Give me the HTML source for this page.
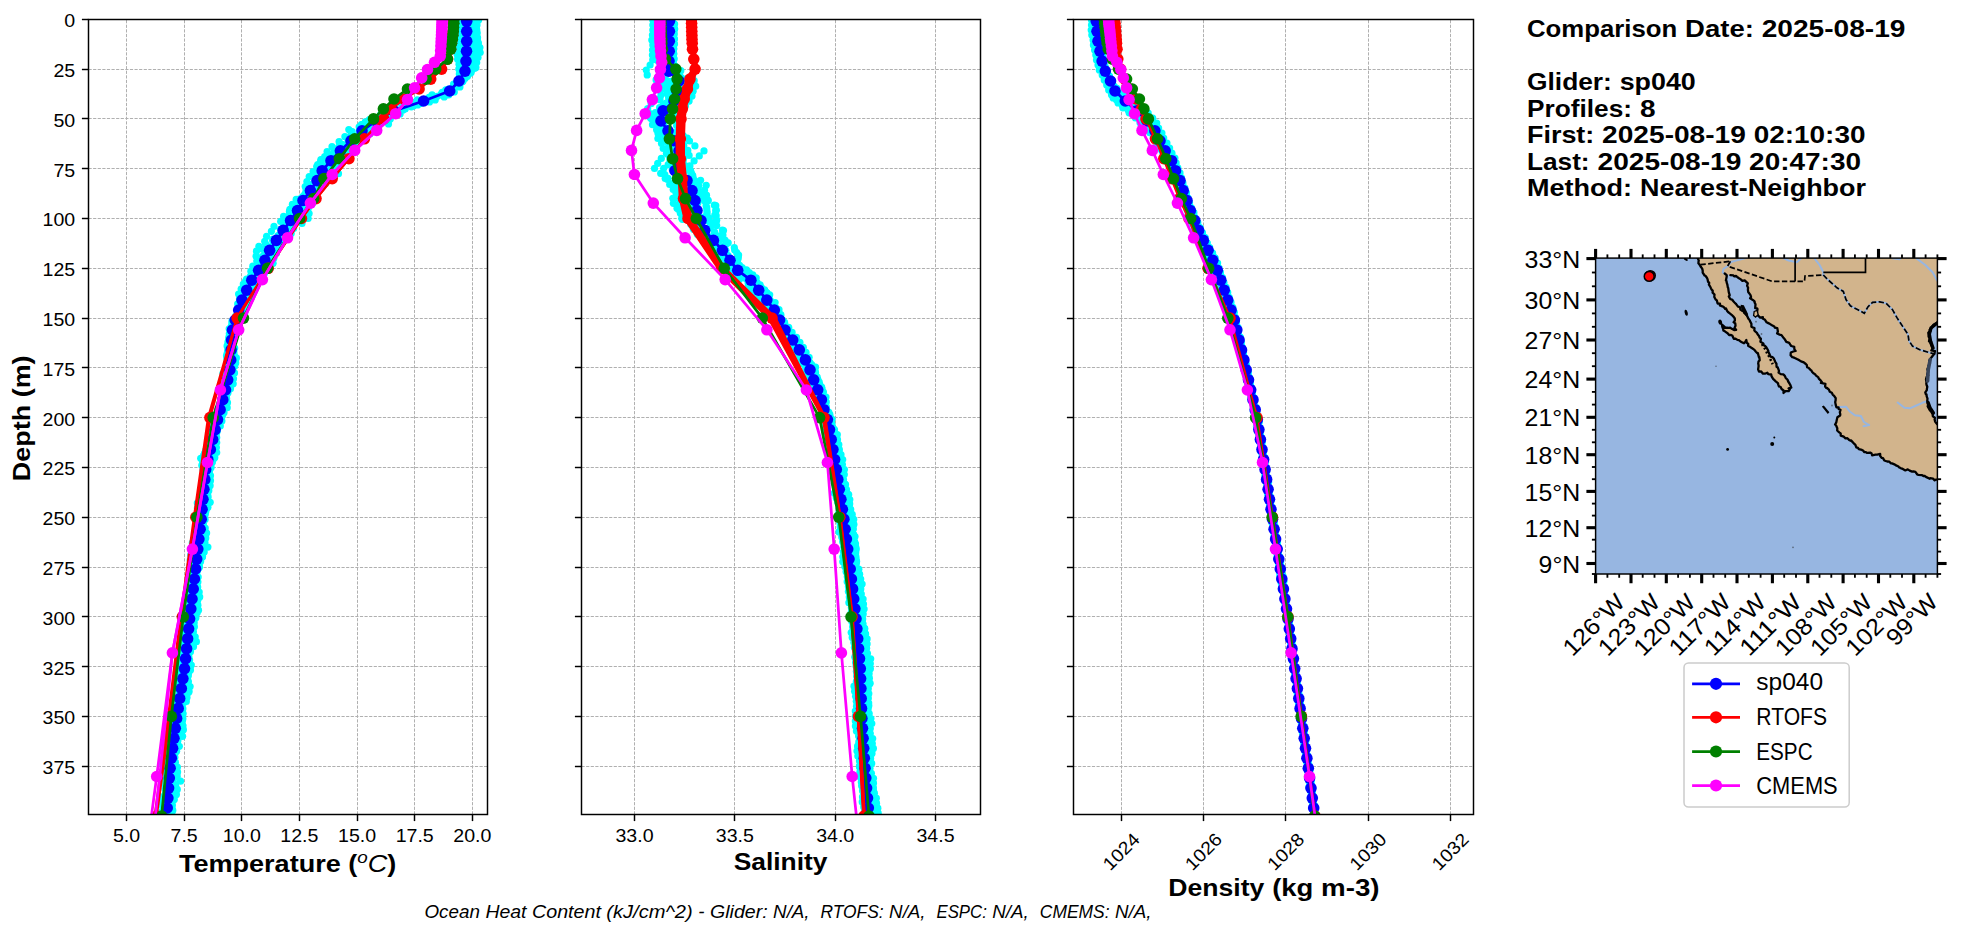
<!DOCTYPE html>
<html lang="en"><head><meta charset="utf-8"><title>Glider vs model comparison 2025-08-19</title>
<style>html,body{margin:0;padding:0;background:#fff;overflow:hidden}svg{display:block}text{font-family:"Liberation Sans",sans-serif;fill:#000}</style>
</head><body>
<svg width="1978" height="934" viewBox="0 0 1978 934">
<rect width="1978" height="934" fill="#fff"/>
<clipPath id="c0"><rect x="88.5" y="19.5" width="399.0" height="795.0"/></clipPath>
<g stroke="#b0b0b0" stroke-width="1" stroke-dasharray="3.2 1.4" fill="none">
<line x1="126.5" y1="814.5" x2="126.5" y2="19.5"/>
<line x1="184.5" y1="814.5" x2="184.5" y2="19.5"/>
<line x1="241.5" y1="814.5" x2="241.5" y2="19.5"/>
<line x1="299.5" y1="814.5" x2="299.5" y2="19.5"/>
<line x1="357.5" y1="814.5" x2="357.5" y2="19.5"/>
<line x1="414.5" y1="814.5" x2="414.5" y2="19.5"/>
<line x1="472.5" y1="814.5" x2="472.5" y2="19.5"/>
<line x1="88.5" y1="19.5" x2="487.5" y2="19.5"/>
<line x1="88.5" y1="69.5" x2="487.5" y2="69.5"/>
<line x1="88.5" y1="118.5" x2="487.5" y2="118.5"/>
<line x1="88.5" y1="168.5" x2="487.5" y2="168.5"/>
<line x1="88.5" y1="218.5" x2="487.5" y2="218.5"/>
<line x1="88.5" y1="268.5" x2="487.5" y2="268.5"/>
<line x1="88.5" y1="318.5" x2="487.5" y2="318.5"/>
<line x1="88.5" y1="367.5" x2="487.5" y2="367.5"/>
<line x1="88.5" y1="417.5" x2="487.5" y2="417.5"/>
<line x1="88.5" y1="467.5" x2="487.5" y2="467.5"/>
<line x1="88.5" y1="517.5" x2="487.5" y2="517.5"/>
<line x1="88.5" y1="567.5" x2="487.5" y2="567.5"/>
<line x1="88.5" y1="616.5" x2="487.5" y2="616.5"/>
<line x1="88.5" y1="666.5" x2="487.5" y2="666.5"/>
<line x1="88.5" y1="716.5" x2="487.5" y2="716.5"/>
<line x1="88.5" y1="766.5" x2="487.5" y2="766.5"/>
</g>
<g clip-path="url(#c0)">
<g fill="#00ffff"><circle cx="458.9" cy="24.3" r="3.6"/><circle cx="460.4" cy="29.3" r="3.6"/><circle cx="460.7" cy="34.3" r="3.6"/><circle cx="459.2" cy="39.3" r="3.6"/><circle cx="459.0" cy="44.2" r="3.6"/><circle cx="458.6" cy="49.2" r="3.6"/><circle cx="457.1" cy="54.2" r="3.6"/><circle cx="457.6" cy="59.2" r="3.6"/><circle cx="459.0" cy="64.2" r="3.6"/><circle cx="458.8" cy="69.1" r="3.6"/><circle cx="459.3" cy="74.1" r="3.6"/><circle cx="459.4" cy="79.1" r="3.6"/><circle cx="453.6" cy="84.1" r="3.6"/><circle cx="448.8" cy="89.0" r="3.6"/><circle cx="441.3" cy="94.0" r="3.6"/><circle cx="428.1" cy="99.0" r="3.6"/><circle cx="415.0" cy="104.0" r="3.6"/><circle cx="405.2" cy="109.0" r="3.6"/><circle cx="400.1" cy="113.9" r="3.6"/><circle cx="390.3" cy="118.9" r="3.6"/><circle cx="388.5" cy="123.9" r="3.6"/><circle cx="378.1" cy="128.9" r="3.6"/><circle cx="369.9" cy="133.9" r="3.6"/><circle cx="365.7" cy="138.8" r="3.6"/><circle cx="357.2" cy="143.8" r="3.6"/><circle cx="350.3" cy="148.8" r="3.6"/><circle cx="347.1" cy="153.8" r="3.6"/><circle cx="342.3" cy="158.8" r="3.6"/><circle cx="340.1" cy="163.7" r="3.6"/><circle cx="336.3" cy="168.7" r="3.6"/><circle cx="338.5" cy="173.7" r="3.6"/><circle cx="328.3" cy="178.7" r="3.6"/><circle cx="325.4" cy="183.7" r="3.6"/><circle cx="319.7" cy="188.6" r="3.6"/><circle cx="314.8" cy="193.6" r="3.6"/><circle cx="309.4" cy="198.6" r="3.6"/><circle cx="312.3" cy="203.6" r="3.6"/><circle cx="308.2" cy="208.5" r="3.6"/><circle cx="309.1" cy="213.5" r="3.6"/><circle cx="308.1" cy="218.5" r="3.6"/><circle cx="302.0" cy="223.5" r="3.6"/><circle cx="293.6" cy="228.5" r="3.6"/><circle cx="291.2" cy="233.4" r="3.6"/><circle cx="283.9" cy="238.4" r="3.6"/><circle cx="280.5" cy="243.4" r="3.6"/><circle cx="276.8" cy="248.4" r="3.6"/><circle cx="276.4" cy="253.4" r="3.6"/><circle cx="273.8" cy="258.3" r="3.6"/><circle cx="273.1" cy="263.3" r="3.6"/><circle cx="270.3" cy="268.3" r="3.6"/><circle cx="264.5" cy="273.3" r="3.6"/><circle cx="259.2" cy="278.3" r="3.6"/><circle cx="253.9" cy="283.2" r="3.6"/><circle cx="249.4" cy="288.2" r="3.6"/><circle cx="249.0" cy="293.2" r="3.6"/><circle cx="249.7" cy="298.2" r="3.6"/><circle cx="246.7" cy="303.2" r="3.6"/><circle cx="245.9" cy="308.1" r="3.6"/><circle cx="244.7" cy="313.1" r="3.6"/><circle cx="240.8" cy="318.1" r="3.6"/><circle cx="237.4" cy="323.1" r="3.6"/><circle cx="236.0" cy="328.1" r="3.6"/><circle cx="233.2" cy="333.0" r="3.6"/><circle cx="230.2" cy="338.0" r="3.6"/><circle cx="231.7" cy="343.0" r="3.6"/><circle cx="234.7" cy="348.0" r="3.6"/><circle cx="234.0" cy="352.9" r="3.6"/><circle cx="236.4" cy="357.9" r="3.6"/><circle cx="235.7" cy="362.9" r="3.6"/><circle cx="232.3" cy="367.9" r="3.6"/><circle cx="234.5" cy="372.9" r="3.6"/><circle cx="231.7" cy="377.8" r="3.6"/><circle cx="227.3" cy="382.8" r="3.6"/><circle cx="227.8" cy="387.8" r="3.6"/><circle cx="228.0" cy="392.8" r="3.6"/><circle cx="226.4" cy="397.8" r="3.6"/><circle cx="227.5" cy="402.7" r="3.6"/><circle cx="227.2" cy="407.7" r="3.6"/><circle cx="224.0" cy="412.7" r="3.6"/><circle cx="221.5" cy="417.7" r="3.6"/><circle cx="219.6" cy="422.7" r="3.6"/><circle cx="217.3" cy="427.6" r="3.6"/><circle cx="214.4" cy="432.6" r="3.6"/><circle cx="216.7" cy="437.6" r="3.6"/><circle cx="216.7" cy="442.6" r="3.6"/><circle cx="216.4" cy="447.6" r="3.6"/><circle cx="216.7" cy="452.5" r="3.6"/><circle cx="214.8" cy="457.5" r="3.6"/><circle cx="212.2" cy="462.5" r="3.6"/><circle cx="211.1" cy="467.5" r="3.6"/><circle cx="208.9" cy="472.4" r="3.6"/><circle cx="205.0" cy="477.4" r="3.6"/><circle cx="206.8" cy="482.4" r="3.6"/><circle cx="207.7" cy="487.4" r="3.6"/><circle cx="207.1" cy="492.4" r="3.6"/><circle cx="208.0" cy="497.3" r="3.6"/><circle cx="210.2" cy="502.3" r="3.6"/><circle cx="207.9" cy="507.3" r="3.6"/><circle cx="205.6" cy="512.3" r="3.6"/><circle cx="203.1" cy="517.3" r="3.6"/><circle cx="201.0" cy="522.2" r="3.6"/><circle cx="202.1" cy="527.2" r="3.6"/><circle cx="205.4" cy="532.2" r="3.6"/><circle cx="203.7" cy="537.2" r="3.6"/><circle cx="204.9" cy="542.2" r="3.6"/><circle cx="207.9" cy="547.1" r="3.6"/><circle cx="204.2" cy="552.1" r="3.6"/><circle cx="202.4" cy="557.1" r="3.6"/><circle cx="199.2" cy="562.1" r="3.6"/><circle cx="196.1" cy="567.1" r="3.6"/><circle cx="195.5" cy="572.0" r="3.6"/><circle cx="198.2" cy="577.0" r="3.6"/><circle cx="197.9" cy="582.0" r="3.6"/><circle cx="197.7" cy="587.0" r="3.6"/><circle cx="199.2" cy="592.0" r="3.6"/><circle cx="199.7" cy="596.9" r="3.6"/><circle cx="196.7" cy="601.9" r="3.6"/><circle cx="195.6" cy="606.9" r="3.6"/><circle cx="193.8" cy="611.9" r="3.6"/><circle cx="190.3" cy="616.8" r="3.6"/><circle cx="192.8" cy="621.8" r="3.6"/><circle cx="194.4" cy="626.8" r="3.6"/><circle cx="193.4" cy="631.8" r="3.6"/><circle cx="195.2" cy="636.8" r="3.6"/><circle cx="196.4" cy="641.7" r="3.6"/><circle cx="193.5" cy="646.7" r="3.6"/><circle cx="190.5" cy="651.7" r="3.6"/><circle cx="188.9" cy="656.7" r="3.6"/><circle cx="184.1" cy="661.7" r="3.6"/><circle cx="185.3" cy="666.6" r="3.6"/><circle cx="188.5" cy="671.6" r="3.6"/><circle cx="188.0" cy="676.6" r="3.6"/><circle cx="188.4" cy="681.6" r="3.6"/><circle cx="190.1" cy="686.6" r="3.6"/><circle cx="189.1" cy="691.5" r="3.6"/><circle cx="186.1" cy="696.5" r="3.6"/><circle cx="186.3" cy="701.5" r="3.6"/><circle cx="181.5" cy="706.5" r="3.6"/><circle cx="177.2" cy="711.5" r="3.6"/><circle cx="178.1" cy="716.4" r="3.6"/><circle cx="181.9" cy="721.4" r="3.6"/><circle cx="181.0" cy="726.4" r="3.6"/><circle cx="182.0" cy="731.4" r="3.6"/><circle cx="182.6" cy="736.3" r="3.6"/><circle cx="177.7" cy="741.3" r="3.6"/><circle cx="179.3" cy="746.3" r="3.6"/><circle cx="176.6" cy="751.3" r="3.6"/><circle cx="172.2" cy="756.3" r="3.6"/><circle cx="171.8" cy="761.2" r="3.6"/><circle cx="173.9" cy="766.2" r="3.6"/><circle cx="175.6" cy="771.2" r="3.6"/><circle cx="177.2" cy="776.2" r="3.6"/><circle cx="180.5" cy="781.2" r="3.6"/><circle cx="175.7" cy="786.1" r="3.6"/><circle cx="173.3" cy="791.1" r="3.6"/><circle cx="173.9" cy="796.1" r="3.6"/><circle cx="170.6" cy="801.1" r="3.6"/><circle cx="166.5" cy="806.1" r="3.6"/><circle cx="168.6" cy="811.0" r="3.6"/><circle cx="462.9" cy="20.3" r="3.6"/><circle cx="460.8" cy="25.2" r="3.6"/><circle cx="460.1" cy="30.2" r="3.6"/><circle cx="461.8" cy="35.2" r="3.6"/><circle cx="462.1" cy="40.2" r="3.6"/><circle cx="462.8" cy="45.2" r="3.6"/><circle cx="463.5" cy="50.1" r="3.6"/><circle cx="462.6" cy="55.1" r="3.6"/><circle cx="463.3" cy="60.1" r="3.6"/><circle cx="464.4" cy="65.1" r="3.6"/><circle cx="464.6" cy="70.1" r="3.6"/><circle cx="464.1" cy="75.0" r="3.6"/><circle cx="461.4" cy="80.0" r="3.6"/><circle cx="457.6" cy="85.0" r="3.6"/><circle cx="453.4" cy="90.0" r="3.6"/><circle cx="448.6" cy="95.0" r="3.6"/><circle cx="435.2" cy="99.9" r="3.6"/><circle cx="417.7" cy="104.9" r="3.6"/><circle cx="403.0" cy="109.9" r="3.6"/><circle cx="391.6" cy="114.9" r="3.6"/><circle cx="382.9" cy="119.8" r="3.6"/><circle cx="377.7" cy="124.8" r="3.6"/><circle cx="369.2" cy="129.8" r="3.6"/><circle cx="362.5" cy="134.8" r="3.6"/><circle cx="358.1" cy="139.8" r="3.6"/><circle cx="357.3" cy="144.7" r="3.6"/><circle cx="353.4" cy="149.7" r="3.6"/><circle cx="342.5" cy="154.7" r="3.6"/><circle cx="335.2" cy="159.7" r="3.6"/><circle cx="332.3" cy="164.7" r="3.6"/><circle cx="324.9" cy="169.6" r="3.6"/><circle cx="320.5" cy="174.6" r="3.6"/><circle cx="315.0" cy="179.6" r="3.6"/><circle cx="308.4" cy="184.6" r="3.6"/><circle cx="309.8" cy="189.6" r="3.6"/><circle cx="310.3" cy="194.5" r="3.6"/><circle cx="303.9" cy="199.5" r="3.6"/><circle cx="301.4" cy="204.5" r="3.6"/><circle cx="301.7" cy="209.5" r="3.6"/><circle cx="297.8" cy="214.5" r="3.6"/><circle cx="297.8" cy="219.4" r="3.6"/><circle cx="292.0" cy="224.4" r="3.6"/><circle cx="291.1" cy="229.4" r="3.6"/><circle cx="287.3" cy="234.4" r="3.6"/><circle cx="279.1" cy="239.4" r="3.6"/><circle cx="278.7" cy="244.3" r="3.6"/><circle cx="273.4" cy="249.3" r="3.6"/><circle cx="270.0" cy="254.3" r="3.6"/><circle cx="266.4" cy="259.3" r="3.6"/><circle cx="261.9" cy="264.2" r="3.6"/><circle cx="261.1" cy="269.2" r="3.6"/><circle cx="257.6" cy="274.2" r="3.6"/><circle cx="257.6" cy="279.2" r="3.6"/><circle cx="252.3" cy="284.2" r="3.6"/><circle cx="250.7" cy="289.1" r="3.6"/><circle cx="250.6" cy="294.1" r="3.6"/><circle cx="245.5" cy="299.1" r="3.6"/><circle cx="245.5" cy="304.1" r="3.6"/><circle cx="243.3" cy="309.1" r="3.6"/><circle cx="241.9" cy="314.0" r="3.6"/><circle cx="238.0" cy="319.0" r="3.6"/><circle cx="236.9" cy="324.0" r="3.6"/><circle cx="234.0" cy="329.0" r="3.6"/><circle cx="230.5" cy="334.0" r="3.6"/><circle cx="229.2" cy="338.9" r="3.6"/><circle cx="229.1" cy="343.9" r="3.6"/><circle cx="230.0" cy="348.9" r="3.6"/><circle cx="232.1" cy="353.9" r="3.6"/><circle cx="232.7" cy="358.9" r="3.6"/><circle cx="233.3" cy="363.8" r="3.6"/><circle cx="232.3" cy="368.8" r="3.6"/><circle cx="232.9" cy="373.8" r="3.6"/><circle cx="233.5" cy="378.8" r="3.6"/><circle cx="233.2" cy="383.8" r="3.6"/><circle cx="230.5" cy="388.7" r="3.6"/><circle cx="227.0" cy="393.7" r="3.6"/><circle cx="226.6" cy="398.7" r="3.6"/><circle cx="223.9" cy="403.7" r="3.6"/><circle cx="221.2" cy="408.6" r="3.6"/><circle cx="220.5" cy="413.6" r="3.6"/><circle cx="216.7" cy="418.6" r="3.6"/><circle cx="216.4" cy="423.6" r="3.6"/><circle cx="217.3" cy="428.6" r="3.6"/><circle cx="216.5" cy="433.5" r="3.6"/><circle cx="215.5" cy="438.5" r="3.6"/><circle cx="212.9" cy="443.5" r="3.6"/><circle cx="213.6" cy="448.5" r="3.6"/><circle cx="213.8" cy="453.5" r="3.6"/><circle cx="213.9" cy="458.4" r="3.6"/><circle cx="211.1" cy="463.4" r="3.6"/><circle cx="210.2" cy="468.4" r="3.6"/><circle cx="206.5" cy="473.4" r="3.6"/><circle cx="206.7" cy="478.4" r="3.6"/><circle cx="206.0" cy="483.3" r="3.6"/><circle cx="203.6" cy="488.3" r="3.6"/><circle cx="202.6" cy="493.3" r="3.6"/><circle cx="199.9" cy="498.3" r="3.6"/><circle cx="203.7" cy="503.3" r="3.6"/><circle cx="204.8" cy="508.2" r="3.6"/><circle cx="204.7" cy="513.2" r="3.6"/><circle cx="204.1" cy="518.2" r="3.6"/><circle cx="203.3" cy="523.2" r="3.6"/><circle cx="205.2" cy="528.1" r="3.6"/><circle cx="206.6" cy="533.1" r="3.6"/><circle cx="205.8" cy="538.1" r="3.6"/><circle cx="203.3" cy="543.1" r="3.6"/><circle cx="201.8" cy="548.1" r="3.6"/><circle cx="201.4" cy="553.0" r="3.6"/><circle cx="198.4" cy="558.0" r="3.6"/><circle cx="197.4" cy="563.0" r="3.6"/><circle cx="196.0" cy="568.0" r="3.6"/><circle cx="193.6" cy="573.0" r="3.6"/><circle cx="193.7" cy="577.9" r="3.6"/><circle cx="194.2" cy="582.9" r="3.6"/><circle cx="194.3" cy="587.9" r="3.6"/><circle cx="195.1" cy="592.9" r="3.6"/><circle cx="193.9" cy="597.9" r="3.6"/><circle cx="195.7" cy="602.8" r="3.6"/><circle cx="194.3" cy="607.8" r="3.6"/><circle cx="197.2" cy="612.8" r="3.6"/><circle cx="195.9" cy="617.8" r="3.6"/><circle cx="194.2" cy="622.8" r="3.6"/><circle cx="191.7" cy="627.7" r="3.6"/><circle cx="192.3" cy="632.7" r="3.6"/><circle cx="189.9" cy="637.7" r="3.6"/><circle cx="188.7" cy="642.7" r="3.6"/><circle cx="186.4" cy="647.7" r="3.6"/><circle cx="183.8" cy="652.6" r="3.6"/><circle cx="185.3" cy="657.6" r="3.6"/><circle cx="187.0" cy="662.6" r="3.6"/><circle cx="187.5" cy="667.6" r="3.6"/><circle cx="188.7" cy="672.5" r="3.6"/><circle cx="186.9" cy="677.5" r="3.6"/><circle cx="187.8" cy="682.5" r="3.6"/><circle cx="188.3" cy="687.5" r="3.6"/><circle cx="188.4" cy="692.5" r="3.6"/><circle cx="187.0" cy="697.4" r="3.6"/><circle cx="183.8" cy="702.4" r="3.6"/><circle cx="181.2" cy="707.4" r="3.6"/><circle cx="180.6" cy="712.4" r="3.6"/><circle cx="179.2" cy="717.4" r="3.6"/><circle cx="175.7" cy="722.3" r="3.6"/><circle cx="171.9" cy="727.3" r="3.6"/><circle cx="171.2" cy="732.3" r="3.6"/><circle cx="171.6" cy="737.3" r="3.6"/><circle cx="173.4" cy="742.3" r="3.6"/><circle cx="175.6" cy="747.2" r="3.6"/><circle cx="175.3" cy="752.2" r="3.6"/><circle cx="174.9" cy="757.2" r="3.6"/><circle cx="175.4" cy="762.2" r="3.6"/><circle cx="177.4" cy="767.2" r="3.6"/><circle cx="177.6" cy="772.1" r="3.6"/><circle cx="175.5" cy="777.1" r="3.6"/><circle cx="173.2" cy="782.1" r="3.6"/><circle cx="172.8" cy="787.1" r="3.6"/><circle cx="171.9" cy="792.0" r="3.6"/><circle cx="170.7" cy="797.0" r="3.6"/><circle cx="167.4" cy="802.0" r="3.6"/><circle cx="166.4" cy="807.0" r="3.6"/><circle cx="165.8" cy="812.0" r="3.6"/><circle cx="467.8" cy="22.2" r="3.6"/><circle cx="467.2" cy="27.2" r="3.6"/><circle cx="466.5" cy="32.2" r="3.6"/><circle cx="466.4" cy="37.1" r="3.6"/><circle cx="465.6" cy="42.1" r="3.6"/><circle cx="465.2" cy="47.1" r="3.6"/><circle cx="466.6" cy="52.1" r="3.6"/><circle cx="466.3" cy="57.1" r="3.6"/><circle cx="467.0" cy="62.0" r="3.6"/><circle cx="467.1" cy="67.0" r="3.6"/><circle cx="466.2" cy="72.0" r="3.6"/><circle cx="464.3" cy="77.0" r="3.6"/><circle cx="462.0" cy="82.0" r="3.6"/><circle cx="459.9" cy="86.9" r="3.6"/><circle cx="454.3" cy="91.9" r="3.6"/><circle cx="444.2" cy="96.9" r="3.6"/><circle cx="429.5" cy="101.9" r="3.6"/><circle cx="411.3" cy="106.8" r="3.6"/><circle cx="393.0" cy="111.8" r="3.6"/><circle cx="380.4" cy="116.8" r="3.6"/><circle cx="365.3" cy="121.8" r="3.6"/><circle cx="359.2" cy="126.8" r="3.6"/><circle cx="352.2" cy="131.7" r="3.6"/><circle cx="344.9" cy="136.7" r="3.6"/><circle cx="339.1" cy="141.7" r="3.6"/><circle cx="332.0" cy="146.7" r="3.6"/><circle cx="327.1" cy="151.7" r="3.6"/><circle cx="324.7" cy="156.6" r="3.6"/><circle cx="320.6" cy="161.6" r="3.6"/><circle cx="316.7" cy="166.6" r="3.6"/><circle cx="313.1" cy="171.6" r="3.6"/><circle cx="309.2" cy="176.6" r="3.6"/><circle cx="306.9" cy="181.5" r="3.6"/><circle cx="305.2" cy="186.5" r="3.6"/><circle cx="306.1" cy="191.5" r="3.6"/><circle cx="302.7" cy="196.5" r="3.6"/><circle cx="297.9" cy="201.5" r="3.6"/><circle cx="293.6" cy="206.4" r="3.6"/><circle cx="289.4" cy="211.4" r="3.6"/><circle cx="283.6" cy="216.4" r="3.6"/><circle cx="280.7" cy="221.4" r="3.6"/><circle cx="274.0" cy="226.4" r="3.6"/><circle cx="271.4" cy="231.3" r="3.6"/><circle cx="266.6" cy="236.3" r="3.6"/><circle cx="264.7" cy="241.3" r="3.6"/><circle cx="258.9" cy="246.3" r="3.6"/><circle cx="256.5" cy="251.2" r="3.6"/><circle cx="256.1" cy="256.2" r="3.6"/><circle cx="256.9" cy="261.2" r="3.6"/><circle cx="252.8" cy="266.2" r="3.6"/><circle cx="250.9" cy="271.2" r="3.6"/><circle cx="250.5" cy="276.1" r="3.6"/><circle cx="245.6" cy="281.1" r="3.6"/><circle cx="246.0" cy="286.1" r="3.6"/><circle cx="244.4" cy="291.1" r="3.6"/><circle cx="244.4" cy="296.1" r="3.6"/><circle cx="241.5" cy="301.0" r="3.6"/><circle cx="241.8" cy="306.0" r="3.6"/><circle cx="238.3" cy="311.0" r="3.6"/><circle cx="235.6" cy="316.0" r="3.6"/><circle cx="236.1" cy="321.0" r="3.6"/><circle cx="233.6" cy="325.9" r="3.6"/><circle cx="234.4" cy="330.9" r="3.6"/><circle cx="230.8" cy="335.9" r="3.6"/><circle cx="228.4" cy="340.9" r="3.6"/><circle cx="227.1" cy="345.9" r="3.6"/><circle cx="227.6" cy="350.8" r="3.6"/><circle cx="226.5" cy="355.8" r="3.6"/><circle cx="227.6" cy="360.8" r="3.6"/><circle cx="228.2" cy="365.8" r="3.6"/><circle cx="227.1" cy="370.8" r="3.6"/><circle cx="226.8" cy="375.7" r="3.6"/><circle cx="225.3" cy="380.7" r="3.6"/><circle cx="224.2" cy="385.7" r="3.6"/><circle cx="225.5" cy="390.7" r="3.6"/><circle cx="224.9" cy="395.6" r="3.6"/><circle cx="223.5" cy="400.6" r="3.6"/><circle cx="221.4" cy="405.6" r="3.6"/><circle cx="218.7" cy="410.6" r="3.6"/><circle cx="218.4" cy="415.6" r="3.6"/><circle cx="215.8" cy="420.5" r="3.6"/><circle cx="212.8" cy="425.5" r="3.6"/><circle cx="212.5" cy="430.5" r="3.6"/><circle cx="210.1" cy="435.5" r="3.6"/><circle cx="209.6" cy="440.5" r="3.6"/><circle cx="207.7" cy="445.4" r="3.6"/><circle cx="205.6" cy="450.4" r="3.6"/><circle cx="203.7" cy="455.4" r="3.6"/><circle cx="202.7" cy="460.4" r="3.6"/><circle cx="201.8" cy="465.4" r="3.6"/><circle cx="203.1" cy="470.3" r="3.6"/><circle cx="203.5" cy="475.3" r="3.6"/><circle cx="203.4" cy="480.3" r="3.6"/><circle cx="203.0" cy="485.3" r="3.6"/><circle cx="203.1" cy="490.3" r="3.6"/><circle cx="204.5" cy="495.2" r="3.6"/><circle cx="202.8" cy="500.2" r="3.6"/><circle cx="205.4" cy="505.2" r="3.6"/><circle cx="204.2" cy="510.2" r="3.6"/><circle cx="204.0" cy="515.1" r="3.6"/><circle cx="201.0" cy="520.1" r="3.6"/><circle cx="197.8" cy="525.1" r="3.6"/><circle cx="198.6" cy="530.1" r="3.6"/><circle cx="197.4" cy="535.1" r="3.6"/><circle cx="197.2" cy="540.0" r="3.6"/><circle cx="193.8" cy="545.0" r="3.6"/><circle cx="192.3" cy="550.0" r="3.6"/><circle cx="190.7" cy="555.0" r="3.6"/><circle cx="190.2" cy="560.0" r="3.6"/><circle cx="190.1" cy="564.9" r="3.6"/><circle cx="189.8" cy="569.9" r="3.6"/><circle cx="191.5" cy="574.9" r="3.6"/><circle cx="191.8" cy="579.9" r="3.6"/><circle cx="190.9" cy="584.9" r="3.6"/><circle cx="190.2" cy="589.8" r="3.6"/><circle cx="191.2" cy="594.8" r="3.6"/><circle cx="192.0" cy="599.8" r="3.6"/><circle cx="192.0" cy="604.8" r="3.6"/><circle cx="192.3" cy="609.8" r="3.6"/><circle cx="192.6" cy="614.7" r="3.6"/><circle cx="189.5" cy="619.7" r="3.6"/><circle cx="188.0" cy="624.7" r="3.6"/><circle cx="185.5" cy="629.7" r="3.6"/><circle cx="185.2" cy="634.7" r="3.6"/><circle cx="184.7" cy="639.6" r="3.6"/><circle cx="184.1" cy="644.6" r="3.6"/><circle cx="182.9" cy="649.6" r="3.6"/><circle cx="182.2" cy="654.6" r="3.6"/><circle cx="179.0" cy="659.5" r="3.6"/><circle cx="178.3" cy="664.5" r="3.6"/><circle cx="180.2" cy="669.5" r="3.6"/><circle cx="180.1" cy="674.5" r="3.6"/><circle cx="179.8" cy="679.5" r="3.6"/><circle cx="180.5" cy="684.4" r="3.6"/><circle cx="178.4" cy="689.4" r="3.6"/><circle cx="178.9" cy="694.4" r="3.6"/><circle cx="177.5" cy="699.4" r="3.6"/><circle cx="179.1" cy="704.4" r="3.6"/><circle cx="179.2" cy="709.3" r="3.6"/><circle cx="179.5" cy="714.3" r="3.6"/><circle cx="176.8" cy="719.3" r="3.6"/><circle cx="174.7" cy="724.3" r="3.6"/><circle cx="172.5" cy="729.3" r="3.6"/><circle cx="171.2" cy="734.2" r="3.6"/><circle cx="171.4" cy="739.2" r="3.6"/><circle cx="170.2" cy="744.2" r="3.6"/><circle cx="167.9" cy="749.2" r="3.6"/><circle cx="165.0" cy="754.2" r="3.6"/><circle cx="162.9" cy="759.1" r="3.6"/><circle cx="162.5" cy="764.1" r="3.6"/><circle cx="163.6" cy="769.1" r="3.6"/><circle cx="162.9" cy="774.1" r="3.6"/><circle cx="163.7" cy="779.0" r="3.6"/><circle cx="164.6" cy="784.0" r="3.6"/><circle cx="165.0" cy="789.0" r="3.6"/><circle cx="165.3" cy="794.0" r="3.6"/><circle cx="166.0" cy="799.0" r="3.6"/><circle cx="167.5" cy="803.9" r="3.6"/><circle cx="167.9" cy="808.9" r="3.6"/><circle cx="168.9" cy="813.9" r="3.6"/><circle cx="471.3" cy="20.1" r="3.6"/><circle cx="471.4" cy="25.1" r="3.6"/><circle cx="470.2" cy="30.1" r="3.6"/><circle cx="469.4" cy="35.1" r="3.6"/><circle cx="471.4" cy="40.0" r="3.6"/><circle cx="472.5" cy="45.0" r="3.6"/><circle cx="472.6" cy="50.0" r="3.6"/><circle cx="473.1" cy="55.0" r="3.6"/><circle cx="472.3" cy="60.0" r="3.6"/><circle cx="469.5" cy="64.9" r="3.6"/><circle cx="468.9" cy="69.9" r="3.6"/><circle cx="463.6" cy="74.9" r="3.6"/><circle cx="460.2" cy="79.9" r="3.6"/><circle cx="457.7" cy="84.9" r="3.6"/><circle cx="452.1" cy="89.8" r="3.6"/><circle cx="440.9" cy="94.8" r="3.6"/><circle cx="427.7" cy="99.8" r="3.6"/><circle cx="410.7" cy="104.8" r="3.6"/><circle cx="393.7" cy="109.8" r="3.6"/><circle cx="380.6" cy="114.7" r="3.6"/><circle cx="369.4" cy="119.7" r="3.6"/><circle cx="362.4" cy="124.7" r="3.6"/><circle cx="359.6" cy="129.7" r="3.6"/><circle cx="359.7" cy="134.7" r="3.6"/><circle cx="354.8" cy="139.6" r="3.6"/><circle cx="342.7" cy="144.6" r="3.6"/><circle cx="337.1" cy="149.6" r="3.6"/><circle cx="328.9" cy="154.6" r="3.6"/><circle cx="320.9" cy="159.5" r="3.6"/><circle cx="317.7" cy="164.5" r="3.6"/><circle cx="320.2" cy="169.5" r="3.6"/><circle cx="314.3" cy="174.5" r="3.6"/><circle cx="315.5" cy="179.5" r="3.6"/><circle cx="313.9" cy="184.4" r="3.6"/><circle cx="306.2" cy="189.4" r="3.6"/><circle cx="304.9" cy="194.4" r="3.6"/><circle cx="298.2" cy="199.4" r="3.6"/><circle cx="293.2" cy="204.4" r="3.6"/><circle cx="292.3" cy="209.3" r="3.6"/><circle cx="290.0" cy="214.3" r="3.6"/><circle cx="286.1" cy="219.3" r="3.6"/><circle cx="290.0" cy="224.3" r="3.6"/><circle cx="280.5" cy="229.3" r="3.6"/><circle cx="280.3" cy="234.2" r="3.6"/><circle cx="273.0" cy="239.2" r="3.6"/><circle cx="265.6" cy="244.2" r="3.6"/><circle cx="262.4" cy="249.2" r="3.6"/><circle cx="265.5" cy="254.2" r="3.6"/><circle cx="262.0" cy="259.1" r="3.6"/><circle cx="258.8" cy="264.1" r="3.6"/><circle cx="260.7" cy="269.1" r="3.6"/><circle cx="254.1" cy="274.1" r="3.6"/><circle cx="251.5" cy="279.0" r="3.6"/><circle cx="248.0" cy="284.0" r="3.6"/><circle cx="241.2" cy="289.0" r="3.6"/><circle cx="238.6" cy="294.0" r="3.6"/><circle cx="240.7" cy="299.0" r="3.6"/><circle cx="239.4" cy="303.9" r="3.6"/><circle cx="238.7" cy="308.9" r="3.6"/><circle cx="238.3" cy="313.9" r="3.6"/><circle cx="235.0" cy="318.9" r="3.6"/><circle cx="232.0" cy="323.9" r="3.6"/><circle cx="229.2" cy="328.8" r="3.6"/><circle cx="229.3" cy="333.8" r="3.6"/><circle cx="230.7" cy="338.8" r="3.6"/><circle cx="231.4" cy="343.8" r="3.6"/><circle cx="233.1" cy="348.8" r="3.6"/><circle cx="232.9" cy="353.7" r="3.6"/><circle cx="229.7" cy="358.7" r="3.6"/><circle cx="228.9" cy="363.7" r="3.6"/><circle cx="228.1" cy="368.7" r="3.6"/><circle cx="222.9" cy="373.7" r="3.6"/><circle cx="225.5" cy="378.6" r="3.6"/><circle cx="222.5" cy="383.6" r="3.6"/><circle cx="223.9" cy="388.6" r="3.6"/><circle cx="226.5" cy="393.6" r="3.6"/><circle cx="223.0" cy="398.6" r="3.6"/><circle cx="220.4" cy="403.5" r="3.6"/><circle cx="219.5" cy="408.5" r="3.6"/><circle cx="216.6" cy="413.5" r="3.6"/><circle cx="212.9" cy="418.5" r="3.6"/><circle cx="214.0" cy="423.4" r="3.6"/><circle cx="213.0" cy="428.4" r="3.6"/><circle cx="213.8" cy="433.4" r="3.6"/><circle cx="215.4" cy="438.4" r="3.6"/><circle cx="209.7" cy="443.4" r="3.6"/><circle cx="207.6" cy="448.3" r="3.6"/><circle cx="204.5" cy="453.3" r="3.6"/><circle cx="200.7" cy="458.3" r="3.6"/><circle cx="202.6" cy="463.3" r="3.6"/><circle cx="204.7" cy="468.3" r="3.6"/><circle cx="206.3" cy="473.2" r="3.6"/><circle cx="206.8" cy="478.2" r="3.6"/><circle cx="206.0" cy="483.2" r="3.6"/><circle cx="202.7" cy="488.2" r="3.6"/><circle cx="202.7" cy="493.2" r="3.6"/><circle cx="199.6" cy="498.1" r="3.6"/><circle cx="197.3" cy="503.1" r="3.6"/><circle cx="200.6" cy="508.1" r="3.6"/><circle cx="200.4" cy="513.1" r="3.6"/><circle cx="201.1" cy="518.1" r="3.6"/><circle cx="202.3" cy="523.0" r="3.6"/><circle cx="199.4" cy="528.0" r="3.6"/><circle cx="197.4" cy="533.0" r="3.6"/><circle cx="195.5" cy="538.0" r="3.6"/><circle cx="192.3" cy="542.9" r="3.6"/><circle cx="193.5" cy="547.9" r="3.6"/><circle cx="195.5" cy="552.9" r="3.6"/><circle cx="196.5" cy="557.9" r="3.6"/><circle cx="198.7" cy="562.9" r="3.6"/><circle cx="199.1" cy="567.8" r="3.6"/><circle cx="194.3" cy="572.8" r="3.6"/><circle cx="192.3" cy="577.8" r="3.6"/><circle cx="189.8" cy="582.8" r="3.6"/><circle cx="188.0" cy="587.8" r="3.6"/><circle cx="189.2" cy="592.7" r="3.6"/><circle cx="189.4" cy="597.7" r="3.6"/><circle cx="191.3" cy="602.7" r="3.6"/><circle cx="193.5" cy="607.7" r="3.6"/><circle cx="189.8" cy="612.7" r="3.6"/><circle cx="189.3" cy="617.6" r="3.6"/><circle cx="186.7" cy="622.6" r="3.6"/><circle cx="184.4" cy="627.6" r="3.6"/><circle cx="185.1" cy="632.6" r="3.6"/><circle cx="186.3" cy="637.6" r="3.6"/><circle cx="185.1" cy="642.5" r="3.6"/><circle cx="188.6" cy="647.5" r="3.6"/><circle cx="189.1" cy="652.5" r="3.6"/><circle cx="184.1" cy="657.5" r="3.6"/><circle cx="182.6" cy="662.5" r="3.6"/><circle cx="179.0" cy="667.4" r="3.6"/><circle cx="176.4" cy="672.4" r="3.6"/><circle cx="179.0" cy="677.4" r="3.6"/><circle cx="180.8" cy="682.4" r="3.6"/><circle cx="182.0" cy="687.3" r="3.6"/><circle cx="183.0" cy="692.3" r="3.6"/><circle cx="180.2" cy="697.3" r="3.6"/><circle cx="177.0" cy="702.3" r="3.6"/><circle cx="176.7" cy="707.3" r="3.6"/><circle cx="172.1" cy="712.2" r="3.6"/><circle cx="172.5" cy="717.2" r="3.6"/><circle cx="174.0" cy="722.2" r="3.6"/><circle cx="172.9" cy="727.2" r="3.6"/><circle cx="175.0" cy="732.2" r="3.6"/><circle cx="175.9" cy="737.1" r="3.6"/><circle cx="170.9" cy="742.1" r="3.6"/><circle cx="169.7" cy="747.1" r="3.6"/><circle cx="167.1" cy="752.1" r="3.6"/><circle cx="164.2" cy="757.1" r="3.6"/><circle cx="166.7" cy="762.0" r="3.6"/><circle cx="167.7" cy="767.0" r="3.6"/><circle cx="170.9" cy="772.0" r="3.6"/><circle cx="174.3" cy="777.0" r="3.6"/><circle cx="169.6" cy="782.0" r="3.6"/><circle cx="166.7" cy="786.9" r="3.6"/><circle cx="166.4" cy="791.9" r="3.6"/><circle cx="160.5" cy="796.9" r="3.6"/><circle cx="160.8" cy="801.9" r="3.6"/><circle cx="165.2" cy="806.9" r="3.6"/><circle cx="164.6" cy="811.8" r="3.6"/><circle cx="475.9" cy="21.6" r="3.6"/><circle cx="474.7" cy="26.5" r="3.6"/><circle cx="474.8" cy="31.5" r="3.6"/><circle cx="474.8" cy="36.5" r="3.6"/><circle cx="474.9" cy="41.5" r="3.6"/><circle cx="473.9" cy="46.5" r="3.6"/><circle cx="472.3" cy="51.4" r="3.6"/><circle cx="471.8" cy="56.4" r="3.6"/><circle cx="470.6" cy="61.4" r="3.6"/><circle cx="471.4" cy="66.4" r="3.6"/><circle cx="470.9" cy="71.4" r="3.6"/><circle cx="467.5" cy="76.3" r="3.6"/><circle cx="463.0" cy="81.3" r="3.6"/><circle cx="458.4" cy="86.3" r="3.6"/><circle cx="450.8" cy="91.3" r="3.6"/><circle cx="437.3" cy="96.3" r="3.6"/><circle cx="425.2" cy="101.2" r="3.6"/><circle cx="413.1" cy="106.2" r="3.6"/><circle cx="397.2" cy="111.2" r="3.6"/><circle cx="387.7" cy="116.2" r="3.6"/><circle cx="376.2" cy="121.1" r="3.6"/><circle cx="365.4" cy="126.1" r="3.6"/><circle cx="360.0" cy="131.1" r="3.6"/><circle cx="356.4" cy="136.1" r="3.6"/><circle cx="351.0" cy="141.1" r="3.6"/><circle cx="344.3" cy="146.0" r="3.6"/><circle cx="334.1" cy="151.0" r="3.6"/><circle cx="333.7" cy="156.0" r="3.6"/><circle cx="327.6" cy="161.0" r="3.6"/><circle cx="324.6" cy="166.0" r="3.6"/><circle cx="322.6" cy="170.9" r="3.6"/><circle cx="319.0" cy="175.9" r="3.6"/><circle cx="317.2" cy="180.9" r="3.6"/><circle cx="315.4" cy="185.9" r="3.6"/><circle cx="314.1" cy="190.9" r="3.6"/><circle cx="305.3" cy="195.8" r="3.6"/><circle cx="305.6" cy="200.8" r="3.6"/><circle cx="303.9" cy="205.8" r="3.6"/><circle cx="303.9" cy="210.8" r="3.6"/><circle cx="301.0" cy="215.8" r="3.6"/><circle cx="292.4" cy="220.7" r="3.6"/><circle cx="284.9" cy="225.7" r="3.6"/><circle cx="282.1" cy="230.7" r="3.6"/><circle cx="278.0" cy="235.7" r="3.6"/><circle cx="272.6" cy="240.6" r="3.6"/><circle cx="272.5" cy="245.6" r="3.6"/><circle cx="265.6" cy="250.6" r="3.6"/><circle cx="263.4" cy="255.6" r="3.6"/><circle cx="257.2" cy="260.6" r="3.6"/><circle cx="257.9" cy="265.5" r="3.6"/><circle cx="253.0" cy="270.5" r="3.6"/><circle cx="254.4" cy="275.5" r="3.6"/><circle cx="248.6" cy="280.5" r="3.6"/><circle cx="250.0" cy="285.5" r="3.6"/><circle cx="245.5" cy="290.4" r="3.6"/><circle cx="242.3" cy="295.4" r="3.6"/><circle cx="242.6" cy="300.4" r="3.6"/><circle cx="242.8" cy="305.4" r="3.6"/><circle cx="240.9" cy="310.4" r="3.6"/><circle cx="239.6" cy="315.3" r="3.6"/><circle cx="237.5" cy="320.3" r="3.6"/><circle cx="234.5" cy="325.3" r="3.6"/><circle cx="230.1" cy="330.3" r="3.6"/><circle cx="231.7" cy="335.3" r="3.6"/><circle cx="232.2" cy="340.2" r="3.6"/><circle cx="231.7" cy="345.2" r="3.6"/><circle cx="231.3" cy="350.2" r="3.6"/><circle cx="228.5" cy="355.2" r="3.6"/><circle cx="229.9" cy="360.2" r="3.6"/><circle cx="228.3" cy="365.1" r="3.6"/><circle cx="228.5" cy="370.1" r="3.6"/><circle cx="229.3" cy="375.1" r="3.6"/><circle cx="229.0" cy="380.1" r="3.6"/><circle cx="227.3" cy="385.0" r="3.6"/><circle cx="225.3" cy="390.0" r="3.6"/><circle cx="225.2" cy="395.0" r="3.6"/><circle cx="224.1" cy="400.0" r="3.6"/><circle cx="222.2" cy="405.0" r="3.6"/><circle cx="222.5" cy="409.9" r="3.6"/><circle cx="222.3" cy="414.9" r="3.6"/><circle cx="219.8" cy="419.9" r="3.6"/><circle cx="217.2" cy="424.9" r="3.6"/><circle cx="215.1" cy="429.9" r="3.6"/><circle cx="213.2" cy="434.8" r="3.6"/><circle cx="213.3" cy="439.8" r="3.6"/><circle cx="210.5" cy="444.8" r="3.6"/><circle cx="208.7" cy="449.8" r="3.6"/><circle cx="206.7" cy="454.8" r="3.6"/><circle cx="204.5" cy="459.7" r="3.6"/><circle cx="203.1" cy="464.7" r="3.6"/><circle cx="203.6" cy="469.7" r="3.6"/><circle cx="203.4" cy="474.7" r="3.6"/><circle cx="205.5" cy="479.7" r="3.6"/><circle cx="205.1" cy="484.6" r="3.6"/><circle cx="203.5" cy="489.6" r="3.6"/><circle cx="203.7" cy="494.6" r="3.6"/><circle cx="205.7" cy="499.6" r="3.6"/><circle cx="206.0" cy="504.5" r="3.6"/><circle cx="206.3" cy="509.5" r="3.6"/><circle cx="205.2" cy="514.5" r="3.6"/><circle cx="205.1" cy="519.5" r="3.6"/><circle cx="203.0" cy="524.5" r="3.6"/><circle cx="201.6" cy="529.4" r="3.6"/><circle cx="201.9" cy="534.4" r="3.6"/><circle cx="200.5" cy="539.4" r="3.6"/><circle cx="199.8" cy="544.4" r="3.6"/><circle cx="197.6" cy="549.4" r="3.6"/><circle cx="195.2" cy="554.3" r="3.6"/><circle cx="193.5" cy="559.3" r="3.6"/><circle cx="191.8" cy="564.3" r="3.6"/><circle cx="194.0" cy="569.3" r="3.6"/><circle cx="192.8" cy="574.3" r="3.6"/><circle cx="193.5" cy="579.2" r="3.6"/><circle cx="194.6" cy="584.2" r="3.6"/><circle cx="193.1" cy="589.2" r="3.6"/><circle cx="191.3" cy="594.2" r="3.6"/><circle cx="192.8" cy="599.2" r="3.6"/><circle cx="192.7" cy="604.1" r="3.6"/><circle cx="193.3" cy="609.1" r="3.6"/><circle cx="194.7" cy="614.1" r="3.6"/><circle cx="193.7" cy="619.1" r="3.6"/><circle cx="191.0" cy="624.1" r="3.6"/><circle cx="189.4" cy="629.0" r="3.6"/><circle cx="188.1" cy="634.0" r="3.6"/><circle cx="186.8" cy="639.0" r="3.6"/><circle cx="186.0" cy="644.0" r="3.6"/><circle cx="185.0" cy="648.9" r="3.6"/><circle cx="184.4" cy="653.9" r="3.6"/><circle cx="182.8" cy="658.9" r="3.6"/><circle cx="181.1" cy="663.9" r="3.6"/><circle cx="181.3" cy="668.9" r="3.6"/><circle cx="182.7" cy="673.8" r="3.6"/><circle cx="182.9" cy="678.8" r="3.6"/><circle cx="183.9" cy="683.8" r="3.6"/><circle cx="181.7" cy="688.8" r="3.6"/><circle cx="181.9" cy="693.8" r="3.6"/><circle cx="181.4" cy="698.7" r="3.6"/><circle cx="181.8" cy="703.7" r="3.6"/><circle cx="182.9" cy="708.7" r="3.6"/><circle cx="183.1" cy="713.7" r="3.6"/><circle cx="182.9" cy="718.7" r="3.6"/><circle cx="181.1" cy="723.6" r="3.6"/><circle cx="177.4" cy="728.6" r="3.6"/><circle cx="175.8" cy="733.6" r="3.6"/><circle cx="174.2" cy="738.6" r="3.6"/><circle cx="174.2" cy="743.6" r="3.6"/><circle cx="172.4" cy="748.5" r="3.6"/><circle cx="170.9" cy="753.5" r="3.6"/><circle cx="167.5" cy="758.5" r="3.6"/><circle cx="165.3" cy="763.5" r="3.6"/><circle cx="164.2" cy="768.4" r="3.6"/><circle cx="164.9" cy="773.4" r="3.6"/><circle cx="167.0" cy="778.4" r="3.6"/><circle cx="168.7" cy="783.4" r="3.6"/><circle cx="168.9" cy="788.4" r="3.6"/><circle cx="167.2" cy="793.3" r="3.6"/><circle cx="167.6" cy="798.3" r="3.6"/><circle cx="168.6" cy="803.3" r="3.6"/><circle cx="170.4" cy="808.3" r="3.6"/><circle cx="171.0" cy="813.3" r="3.6"/><circle cx="476.3" cy="23.7" r="3.6"/><circle cx="476.4" cy="28.7" r="3.6"/><circle cx="477.0" cy="33.7" r="3.6"/><circle cx="477.4" cy="38.6" r="3.6"/><circle cx="478.3" cy="43.6" r="3.6"/><circle cx="477.3" cy="48.6" r="3.6"/><circle cx="476.6" cy="53.6" r="3.6"/><circle cx="475.1" cy="58.6" r="3.6"/><circle cx="474.6" cy="63.5" r="3.6"/><circle cx="474.5" cy="68.5" r="3.6"/><circle cx="469.8" cy="73.5" r="3.6"/><circle cx="465.0" cy="78.5" r="3.6"/><circle cx="459.8" cy="83.4" r="3.6"/><circle cx="453.9" cy="88.4" r="3.6"/><circle cx="446.3" cy="93.4" r="3.6"/><circle cx="433.6" cy="98.4" r="3.6"/><circle cx="420.5" cy="103.4" r="3.6"/><circle cx="404.8" cy="108.3" r="3.6"/><circle cx="393.5" cy="113.3" r="3.6"/><circle cx="383.1" cy="118.3" r="3.6"/><circle cx="376.6" cy="123.3" r="3.6"/><circle cx="373.6" cy="128.3" r="3.6"/><circle cx="368.7" cy="133.2" r="3.6"/><circle cx="356.5" cy="138.2" r="3.6"/><circle cx="354.7" cy="143.2" r="3.6"/><circle cx="341.8" cy="148.2" r="3.6"/><circle cx="338.0" cy="153.2" r="3.6"/><circle cx="331.8" cy="158.1" r="3.6"/><circle cx="329.7" cy="163.1" r="3.6"/><circle cx="321.3" cy="168.1" r="3.6"/><circle cx="317.5" cy="173.1" r="3.6"/><circle cx="317.7" cy="178.1" r="3.6"/><circle cx="315.3" cy="183.0" r="3.6"/><circle cx="310.9" cy="188.0" r="3.6"/><circle cx="306.4" cy="193.0" r="3.6"/><circle cx="301.4" cy="198.0" r="3.6"/><circle cx="304.6" cy="203.0" r="3.6"/><circle cx="301.8" cy="207.9" r="3.6"/><circle cx="299.7" cy="212.9" r="3.6"/><circle cx="295.9" cy="217.9" r="3.6"/><circle cx="290.8" cy="222.9" r="3.6"/><circle cx="285.6" cy="227.8" r="3.6"/><circle cx="281.9" cy="232.8" r="3.6"/><circle cx="281.1" cy="237.8" r="3.6"/><circle cx="275.9" cy="242.8" r="3.6"/><circle cx="268.0" cy="247.8" r="3.6"/><circle cx="265.9" cy="252.7" r="3.6"/><circle cx="260.9" cy="257.7" r="3.6"/><circle cx="259.0" cy="262.7" r="3.6"/><circle cx="260.3" cy="267.7" r="3.6"/><circle cx="256.9" cy="272.7" r="3.6"/><circle cx="254.6" cy="277.6" r="3.6"/><circle cx="253.2" cy="282.6" r="3.6"/><circle cx="251.5" cy="287.6" r="3.6"/><circle cx="249.0" cy="292.6" r="3.6"/><circle cx="246.4" cy="297.6" r="3.6"/><circle cx="242.3" cy="302.5" r="3.6"/><circle cx="242.4" cy="307.5" r="3.6"/><circle cx="238.0" cy="312.5" r="3.6"/><circle cx="236.7" cy="317.5" r="3.6"/><circle cx="234.7" cy="322.5" r="3.6"/><circle cx="232.3" cy="327.4" r="3.6"/><circle cx="231.4" cy="332.4" r="3.6"/><circle cx="228.8" cy="337.4" r="3.6"/><circle cx="228.0" cy="342.4" r="3.6"/><circle cx="228.2" cy="347.3" r="3.6"/><circle cx="230.7" cy="352.3" r="3.6"/><circle cx="231.0" cy="357.3" r="3.6"/><circle cx="229.0" cy="362.3" r="3.6"/><circle cx="229.5" cy="367.3" r="3.6"/><circle cx="229.2" cy="372.2" r="3.6"/><circle cx="230.1" cy="377.2" r="3.6"/><circle cx="228.6" cy="382.2" r="3.6"/><circle cx="228.8" cy="387.2" r="3.6"/><circle cx="227.0" cy="392.2" r="3.6"/><circle cx="224.1" cy="397.1" r="3.6"/><circle cx="222.6" cy="402.1" r="3.6"/><circle cx="220.8" cy="407.1" r="3.6"/><circle cx="218.0" cy="412.1" r="3.6"/><circle cx="217.0" cy="417.1" r="3.6"/><circle cx="215.9" cy="422.0" r="3.6"/><circle cx="214.4" cy="427.0" r="3.6"/><circle cx="213.0" cy="432.0" r="3.6"/><circle cx="214.3" cy="437.0" r="3.6"/><circle cx="212.8" cy="442.0" r="3.6"/><circle cx="212.5" cy="446.9" r="3.6"/><circle cx="211.7" cy="451.9" r="3.6"/><circle cx="211.0" cy="456.9" r="3.6"/><circle cx="212.0" cy="461.9" r="3.6"/><circle cx="210.5" cy="466.9" r="3.6"/><circle cx="209.2" cy="471.8" r="3.6"/><circle cx="208.6" cy="476.8" r="3.6"/><circle cx="205.7" cy="481.8" r="3.6"/><circle cx="204.5" cy="486.8" r="3.6"/><circle cx="204.5" cy="491.7" r="3.6"/><circle cx="204.1" cy="496.7" r="3.6"/><circle cx="201.9" cy="501.7" r="3.6"/><circle cx="200.3" cy="506.7" r="3.6"/><circle cx="197.5" cy="511.7" r="3.6"/><circle cx="197.2" cy="516.6" r="3.6"/><circle cx="199.0" cy="521.6" r="3.6"/><circle cx="200.3" cy="526.6" r="3.6"/><circle cx="202.1" cy="531.6" r="3.6"/><circle cx="201.4" cy="536.6" r="3.6"/><circle cx="200.0" cy="541.5" r="3.6"/><circle cx="200.6" cy="546.5" r="3.6"/><circle cx="201.8" cy="551.5" r="3.6"/><circle cx="202.5" cy="556.5" r="3.6"/><circle cx="200.6" cy="561.5" r="3.6"/><circle cx="199.5" cy="566.4" r="3.6"/><circle cx="197.2" cy="571.4" r="3.6"/><circle cx="195.4" cy="576.4" r="3.6"/><circle cx="194.9" cy="581.4" r="3.6"/><circle cx="194.0" cy="586.4" r="3.6"/><circle cx="192.2" cy="591.3" r="3.6"/><circle cx="190.1" cy="596.3" r="3.6"/><circle cx="189.9" cy="601.3" r="3.6"/><circle cx="191.4" cy="606.3" r="3.6"/><circle cx="192.9" cy="611.2" r="3.6"/><circle cx="191.7" cy="616.2" r="3.6"/><circle cx="189.8" cy="621.2" r="3.6"/><circle cx="189.8" cy="626.2" r="3.6"/><circle cx="192.3" cy="631.2" r="3.6"/><circle cx="192.8" cy="636.1" r="3.6"/><circle cx="192.3" cy="641.1" r="3.6"/><circle cx="190.1" cy="646.1" r="3.6"/><circle cx="187.7" cy="651.1" r="3.6"/><circle cx="186.6" cy="656.1" r="3.6"/><circle cx="185.6" cy="661.0" r="3.6"/><circle cx="184.9" cy="666.0" r="3.6"/><circle cx="183.9" cy="671.0" r="3.6"/><circle cx="180.8" cy="676.0" r="3.6"/><circle cx="179.4" cy="681.0" r="3.6"/><circle cx="178.4" cy="685.9" r="3.6"/><circle cx="179.4" cy="690.9" r="3.6"/><circle cx="180.0" cy="695.9" r="3.6"/><circle cx="181.3" cy="700.9" r="3.6"/><circle cx="180.0" cy="705.9" r="3.6"/><circle cx="181.1" cy="710.8" r="3.6"/><circle cx="181.9" cy="715.8" r="3.6"/><circle cx="182.3" cy="720.8" r="3.6"/><circle cx="183.0" cy="725.8" r="3.6"/><circle cx="181.6" cy="730.8" r="3.6"/><circle cx="177.6" cy="735.7" r="3.6"/><circle cx="175.8" cy="740.7" r="3.6"/><circle cx="174.6" cy="745.7" r="3.6"/><circle cx="174.6" cy="750.7" r="3.6"/><circle cx="171.8" cy="755.6" r="3.6"/><circle cx="168.2" cy="760.6" r="3.6"/><circle cx="166.3" cy="765.6" r="3.6"/><circle cx="165.2" cy="770.6" r="3.6"/><circle cx="168.4" cy="775.6" r="3.6"/><circle cx="169.2" cy="780.5" r="3.6"/><circle cx="170.1" cy="785.5" r="3.6"/><circle cx="168.8" cy="790.5" r="3.6"/><circle cx="168.2" cy="795.5" r="3.6"/><circle cx="170.1" cy="800.5" r="3.6"/><circle cx="172.3" cy="805.4" r="3.6"/><circle cx="172.8" cy="810.4" r="3.6"/><circle cx="172.0" cy="815.4" r="3.6"/><circle cx="474.9" cy="22.6" r="3.6"/><circle cx="476.2" cy="27.6" r="3.6"/><circle cx="477.0" cy="32.6" r="3.6"/><circle cx="477.5" cy="37.6" r="3.6"/><circle cx="478.2" cy="42.6" r="3.6"/><circle cx="479.9" cy="47.5" r="3.6"/><circle cx="480.2" cy="52.5" r="3.6"/><circle cx="478.0" cy="57.5" r="3.6"/><circle cx="476.7" cy="62.5" r="3.6"/><circle cx="475.9" cy="67.4" r="3.6"/><circle cx="471.1" cy="72.4" r="3.6"/><circle cx="464.8" cy="77.4" r="3.6"/><circle cx="459.0" cy="82.4" r="3.6"/><circle cx="453.2" cy="87.4" r="3.6"/><circle cx="442.2" cy="92.3" r="3.6"/><circle cx="429.0" cy="97.3" r="3.6"/><circle cx="415.0" cy="102.3" r="3.6"/><circle cx="404.3" cy="107.3" r="3.6"/><circle cx="392.1" cy="112.3" r="3.6"/><circle cx="382.7" cy="117.2" r="3.6"/><circle cx="371.8" cy="122.2" r="3.6"/><circle cx="364.8" cy="127.2" r="3.6"/><circle cx="363.4" cy="132.2" r="3.6"/><circle cx="355.1" cy="137.2" r="3.6"/><circle cx="349.7" cy="142.1" r="3.6"/><circle cx="338.7" cy="147.1" r="3.6"/><circle cx="338.7" cy="152.1" r="3.6"/><circle cx="339.6" cy="157.1" r="3.6"/><circle cx="334.6" cy="162.1" r="3.6"/><circle cx="331.9" cy="167.0" r="3.6"/><circle cx="331.8" cy="172.0" r="3.6"/><circle cx="328.4" cy="177.0" r="3.6"/><circle cx="322.9" cy="182.0" r="3.6"/><circle cx="317.8" cy="186.9" r="3.6"/><circle cx="315.1" cy="191.9" r="3.6"/><circle cx="307.8" cy="196.9" r="3.6"/><circle cx="302.1" cy="201.9" r="3.6"/><circle cx="300.1" cy="206.9" r="3.6"/><circle cx="294.9" cy="211.8" r="3.6"/><circle cx="294.2" cy="216.8" r="3.6"/><circle cx="293.1" cy="221.8" r="3.6"/><circle cx="289.0" cy="226.8" r="3.6"/><circle cx="288.2" cy="231.8" r="3.6"/><circle cx="289.4" cy="236.7" r="3.6"/><circle cx="281.2" cy="241.7" r="3.6"/><circle cx="274.0" cy="246.7" r="3.6"/><circle cx="272.7" cy="251.7" r="3.6"/><circle cx="271.9" cy="256.7" r="3.6"/><circle cx="262.1" cy="261.6" r="3.6"/><circle cx="258.4" cy="266.6" r="3.6"/><circle cx="257.3" cy="271.6" r="3.6"/><circle cx="255.0" cy="276.6" r="3.6"/><circle cx="255.9" cy="281.6" r="3.6"/><circle cx="251.2" cy="286.5" r="3.6"/><circle cx="248.8" cy="291.5" r="3.6"/><circle cx="248.3" cy="296.5" r="3.6"/><circle cx="244.2" cy="301.5" r="3.6"/><circle cx="240.6" cy="306.5" r="3.6"/><circle cx="238.4" cy="311.4" r="3.6"/><circle cx="238.2" cy="316.4" r="3.6"/><circle cx="231.9" cy="321.4" r="3.6"/><circle cx="231.3" cy="326.4" r="3.6"/><circle cx="231.5" cy="331.3" r="3.6"/><circle cx="232.0" cy="336.3" r="3.6"/><circle cx="233.6" cy="341.3" r="3.6"/><circle cx="232.3" cy="346.3" r="3.6"/><circle cx="232.8" cy="351.3" r="3.6"/><circle cx="234.3" cy="356.2" r="3.6"/><circle cx="234.3" cy="361.2" r="3.6"/><circle cx="234.6" cy="366.2" r="3.6"/><circle cx="230.3" cy="371.2" r="3.6"/><circle cx="230.1" cy="376.2" r="3.6"/><circle cx="228.1" cy="381.1" r="3.6"/><circle cx="225.0" cy="386.1" r="3.6"/><circle cx="221.7" cy="391.1" r="3.6"/><circle cx="223.0" cy="396.1" r="3.6"/><circle cx="223.6" cy="401.1" r="3.6"/><circle cx="222.7" cy="406.0" r="3.6"/><circle cx="222.5" cy="411.0" r="3.6"/><circle cx="222.2" cy="416.0" r="3.6"/><circle cx="221.9" cy="421.0" r="3.6"/><circle cx="220.3" cy="426.0" r="3.6"/><circle cx="217.3" cy="430.9" r="3.6"/><circle cx="214.1" cy="435.9" r="3.6"/><circle cx="212.1" cy="440.9" r="3.6"/><circle cx="209.7" cy="445.9" r="3.6"/><circle cx="208.6" cy="450.9" r="3.6"/><circle cx="208.2" cy="455.8" r="3.6"/><circle cx="208.0" cy="460.8" r="3.6"/><circle cx="208.7" cy="465.8" r="3.6"/><circle cx="209.1" cy="470.8" r="3.6"/><circle cx="210.5" cy="475.7" r="3.6"/><circle cx="210.5" cy="480.7" r="3.6"/><circle cx="210.1" cy="485.7" r="3.6"/><circle cx="208.8" cy="490.7" r="3.6"/><circle cx="207.8" cy="495.7" r="3.6"/><circle cx="206.8" cy="500.6" r="3.6"/><circle cx="203.5" cy="505.6" r="3.6"/><circle cx="202.1" cy="510.6" r="3.6"/><circle cx="200.6" cy="515.6" r="3.6"/><circle cx="201.8" cy="520.6" r="3.6"/><circle cx="202.1" cy="525.5" r="3.6"/><circle cx="201.4" cy="530.5" r="3.6"/><circle cx="201.7" cy="535.5" r="3.6"/><circle cx="204.4" cy="540.5" r="3.6"/><circle cx="204.1" cy="545.5" r="3.6"/><circle cx="202.0" cy="550.4" r="3.6"/><circle cx="199.5" cy="555.4" r="3.6"/><circle cx="198.3" cy="560.4" r="3.6"/><circle cx="197.7" cy="565.4" r="3.6"/><circle cx="195.9" cy="570.4" r="3.6"/><circle cx="193.5" cy="575.3" r="3.6"/><circle cx="195.0" cy="580.3" r="3.6"/><circle cx="195.6" cy="585.3" r="3.6"/><circle cx="195.7" cy="590.3" r="3.6"/><circle cx="194.7" cy="595.2" r="3.6"/><circle cx="197.7" cy="600.2" r="3.6"/><circle cx="197.9" cy="605.2" r="3.6"/><circle cx="198.5" cy="610.2" r="3.6"/><circle cx="194.0" cy="615.2" r="3.6"/><circle cx="192.4" cy="620.1" r="3.6"/><circle cx="190.4" cy="625.1" r="3.6"/><circle cx="188.3" cy="630.1" r="3.6"/><circle cx="185.0" cy="635.1" r="3.6"/><circle cx="186.0" cy="640.1" r="3.6"/><circle cx="187.6" cy="645.0" r="3.6"/><circle cx="188.0" cy="650.0" r="3.6"/><circle cx="187.4" cy="655.0" r="3.6"/><circle cx="189.6" cy="660.0" r="3.6"/><circle cx="191.3" cy="665.0" r="3.6"/><circle cx="190.5" cy="669.9" r="3.6"/><circle cx="188.3" cy="674.9" r="3.6"/><circle cx="185.4" cy="679.9" r="3.6"/><circle cx="184.8" cy="684.9" r="3.6"/><circle cx="183.0" cy="689.9" r="3.6"/><circle cx="180.1" cy="694.8" r="3.6"/><circle cx="178.7" cy="699.8" r="3.6"/><circle cx="179.5" cy="704.8" r="3.6"/><circle cx="182.1" cy="709.8" r="3.6"/><circle cx="181.2" cy="714.8" r="3.6"/><circle cx="179.7" cy="719.7" r="3.6"/><circle cx="182.2" cy="724.7" r="3.6"/><circle cx="183.4" cy="729.7" r="3.6"/><circle cx="180.5" cy="734.7" r="3.6"/><circle cx="177.9" cy="739.6" r="3.6"/><circle cx="175.8" cy="744.6" r="3.6"/><circle cx="174.9" cy="749.6" r="3.6"/><circle cx="171.1" cy="754.6" r="3.6"/><circle cx="168.3" cy="759.6" r="3.6"/><circle cx="168.0" cy="764.5" r="3.6"/><circle cx="170.8" cy="769.5" r="3.6"/><circle cx="172.2" cy="774.5" r="3.6"/><circle cx="172.6" cy="779.5" r="3.6"/><circle cx="175.1" cy="784.5" r="3.6"/><circle cx="177.3" cy="789.4" r="3.6"/><circle cx="176.4" cy="794.4" r="3.6"/><circle cx="174.3" cy="799.4" r="3.6"/><circle cx="172.0" cy="804.4" r="3.6"/><circle cx="172.2" cy="809.4" r="3.6"/><circle cx="170.2" cy="814.3" r="3.6"/><circle cx="478.6" cy="20.1" r="3.6"/><circle cx="477.0" cy="25.1" r="3.6"/><circle cx="476.8" cy="30.0" r="3.6"/><circle cx="476.0" cy="35.0" r="3.6"/><circle cx="476.0" cy="40.0" r="3.6"/><circle cx="474.9" cy="45.0" r="3.6"/><circle cx="473.5" cy="50.0" r="3.6"/><circle cx="472.9" cy="54.9" r="3.6"/><circle cx="472.9" cy="59.9" r="3.6"/><circle cx="473.8" cy="64.9" r="3.6"/><circle cx="471.5" cy="69.9" r="3.6"/><circle cx="466.8" cy="74.9" r="3.6"/><circle cx="461.1" cy="79.8" r="3.6"/><circle cx="457.5" cy="84.8" r="3.6"/><circle cx="445.8" cy="89.8" r="3.6"/><circle cx="432.1" cy="94.8" r="3.6"/><circle cx="417.3" cy="99.8" r="3.6"/><circle cx="401.6" cy="104.7" r="3.6"/><circle cx="392.2" cy="109.7" r="3.6"/><circle cx="381.1" cy="114.7" r="3.6"/><circle cx="370.3" cy="119.7" r="3.6"/><circle cx="361.4" cy="124.7" r="3.6"/><circle cx="348.8" cy="129.6" r="3.6"/><circle cx="351.1" cy="134.6" r="3.6"/><circle cx="348.0" cy="139.6" r="3.6"/><circle cx="342.3" cy="144.6" r="3.6"/><circle cx="337.7" cy="149.6" r="3.6"/><circle cx="335.0" cy="154.5" r="3.6"/><circle cx="335.8" cy="159.5" r="3.6"/><circle cx="330.1" cy="164.5" r="3.6"/><circle cx="326.0" cy="169.5" r="3.6"/><circle cx="319.7" cy="174.4" r="3.6"/><circle cx="317.6" cy="179.4" r="3.6"/><circle cx="312.4" cy="184.4" r="3.6"/><circle cx="308.2" cy="189.4" r="3.6"/><circle cx="305.1" cy="194.4" r="3.6"/><circle cx="296.2" cy="199.3" r="3.6"/><circle cx="292.4" cy="204.3" r="3.6"/><circle cx="289.9" cy="209.3" r="3.6"/><circle cx="289.8" cy="214.3" r="3.6"/><circle cx="289.5" cy="219.3" r="3.6"/><circle cx="283.8" cy="224.2" r="3.6"/><circle cx="282.6" cy="229.2" r="3.6"/><circle cx="281.1" cy="234.2" r="3.6"/><circle cx="278.0" cy="239.2" r="3.6"/><circle cx="273.2" cy="244.2" r="3.6"/><circle cx="273.9" cy="249.1" r="3.6"/><circle cx="265.8" cy="254.1" r="3.6"/><circle cx="262.9" cy="259.1" r="3.6"/><circle cx="258.7" cy="264.1" r="3.6"/><circle cx="257.5" cy="269.1" r="3.6"/><circle cx="252.1" cy="274.0" r="3.6"/><circle cx="246.6" cy="279.0" r="3.6"/><circle cx="243.3" cy="284.0" r="3.6"/><circle cx="241.4" cy="289.0" r="3.6"/><circle cx="240.7" cy="294.0" r="3.6"/><circle cx="239.5" cy="298.9" r="3.6"/><circle cx="237.7" cy="303.9" r="3.6"/><circle cx="237.8" cy="308.9" r="3.6"/><circle cx="237.7" cy="313.9" r="3.6"/><circle cx="235.9" cy="318.8" r="3.6"/><circle cx="234.4" cy="323.8" r="3.6"/><circle cx="231.5" cy="328.8" r="3.6"/><circle cx="230.2" cy="333.8" r="3.6"/><circle cx="230.4" cy="338.8" r="3.6"/><circle cx="229.3" cy="343.7" r="3.6"/><circle cx="228.4" cy="348.7" r="3.6"/><circle cx="227.1" cy="353.7" r="3.6"/><circle cx="226.9" cy="358.7" r="3.6"/><circle cx="226.6" cy="363.7" r="3.6"/><circle cx="228.0" cy="368.6" r="3.6"/><circle cx="225.5" cy="373.6" r="3.6"/><circle cx="227.8" cy="378.6" r="3.6"/><circle cx="225.9" cy="383.6" r="3.6"/><circle cx="225.2" cy="388.6" r="3.6"/><circle cx="226.6" cy="393.5" r="3.6"/><circle cx="225.8" cy="398.5" r="3.6"/><circle cx="223.7" cy="403.5" r="3.6"/><circle cx="220.7" cy="408.5" r="3.6"/><circle cx="217.9" cy="413.5" r="3.6"/><circle cx="217.0" cy="418.4" r="3.6"/><circle cx="214.8" cy="423.4" r="3.6"/><circle cx="211.9" cy="428.4" r="3.6"/><circle cx="210.0" cy="433.4" r="3.6"/><circle cx="210.1" cy="438.3" r="3.6"/><circle cx="210.2" cy="443.3" r="3.6"/><circle cx="208.0" cy="448.3" r="3.6"/><circle cx="207.4" cy="453.3" r="3.6"/><circle cx="207.5" cy="458.3" r="3.6"/><circle cx="208.0" cy="463.2" r="3.6"/><circle cx="209.0" cy="468.2" r="3.6"/><circle cx="206.1" cy="473.2" r="3.6"/><circle cx="206.0" cy="478.2" r="3.6"/><circle cx="203.3" cy="483.2" r="3.6"/><circle cx="201.3" cy="488.1" r="3.6"/><circle cx="202.8" cy="493.1" r="3.6"/><circle cx="200.7" cy="498.1" r="3.6"/><circle cx="198.2" cy="503.1" r="3.6"/><circle cx="197.4" cy="508.1" r="3.6"/><circle cx="198.3" cy="513.0" r="3.6"/><circle cx="198.8" cy="518.0" r="3.6"/><circle cx="199.8" cy="523.0" r="3.6"/><circle cx="198.3" cy="528.0" r="3.6"/><circle cx="199.6" cy="533.0" r="3.6"/><circle cx="200.5" cy="537.9" r="3.6"/><circle cx="201.8" cy="542.9" r="3.6"/><circle cx="201.8" cy="547.9" r="3.6"/><circle cx="199.8" cy="552.9" r="3.6"/><circle cx="197.3" cy="557.9" r="3.6"/><circle cx="195.8" cy="562.8" r="3.6"/><circle cx="195.0" cy="567.8" r="3.6"/><circle cx="192.8" cy="572.8" r="3.6"/><circle cx="191.0" cy="577.8" r="3.6"/><circle cx="188.6" cy="582.7" r="3.6"/><circle cx="188.2" cy="587.7" r="3.6"/><circle cx="188.8" cy="592.7" r="3.6"/><circle cx="191.3" cy="597.7" r="3.6"/><circle cx="189.8" cy="602.7" r="3.6"/><circle cx="188.9" cy="607.6" r="3.6"/><circle cx="189.7" cy="612.6" r="3.6"/><circle cx="191.9" cy="617.6" r="3.6"/><circle cx="192.5" cy="622.6" r="3.6"/><circle cx="190.9" cy="627.6" r="3.6"/><circle cx="187.8" cy="632.5" r="3.6"/><circle cx="187.5" cy="637.5" r="3.6"/><circle cx="186.2" cy="642.5" r="3.6"/><circle cx="186.2" cy="647.5" r="3.6"/><circle cx="183.7" cy="652.5" r="3.6"/><circle cx="181.8" cy="657.4" r="3.6"/><circle cx="180.3" cy="662.4" r="3.6"/><circle cx="180.7" cy="667.4" r="3.6"/><circle cx="181.5" cy="672.4" r="3.6"/><circle cx="181.9" cy="677.4" r="3.6"/><circle cx="182.4" cy="682.3" r="3.6"/><circle cx="180.0" cy="687.3" r="3.6"/><circle cx="181.8" cy="692.3" r="3.6"/><circle cx="183.4" cy="697.3" r="3.6"/><circle cx="181.8" cy="702.2" r="3.6"/><circle cx="178.7" cy="707.2" r="3.6"/><circle cx="175.9" cy="712.2" r="3.6"/><circle cx="173.8" cy="717.2" r="3.6"/><circle cx="174.2" cy="722.2" r="3.6"/><circle cx="170.8" cy="727.1" r="3.6"/><circle cx="168.7" cy="732.1" r="3.6"/><circle cx="168.0" cy="737.1" r="3.6"/><circle cx="168.2" cy="742.1" r="3.6"/><circle cx="169.3" cy="747.1" r="3.6"/><circle cx="169.4" cy="752.0" r="3.6"/><circle cx="169.7" cy="757.0" r="3.6"/><circle cx="169.9" cy="762.0" r="3.6"/><circle cx="172.5" cy="767.0" r="3.6"/><circle cx="173.3" cy="772.0" r="3.6"/><circle cx="173.3" cy="776.9" r="3.6"/><circle cx="171.6" cy="781.9" r="3.6"/><circle cx="169.8" cy="786.9" r="3.6"/><circle cx="168.4" cy="791.9" r="3.6"/><circle cx="168.2" cy="796.9" r="3.6"/><circle cx="165.9" cy="801.8" r="3.6"/><circle cx="162.7" cy="806.8" r="3.6"/><circle cx="161.7" cy="811.8" r="3.6"/></g>
<polyline points="466.7,21.3 466.7,31.3 466.7,41.2 466.5,51.2 466.0,61.1 465.0,71.1 459.0,81.0 449.7,91.0 423.6,101.0 394.0,110.9 376.0,120.9 362.0,130.8 351.0,140.8 340.4,150.8 331.0,160.7 322.2,170.7 317.1,180.6 310.4,190.6 303.0,200.5 297.5,210.5 290.6,220.5 283.2,230.4 276.4,240.4 269.6,250.3 264.9,260.3 258.6,270.3 251.8,280.2 246.7,290.2 242.0,300.1 238.7,310.1 235.2,320.0 232.5,330.0 231.6,340.0 231.1,349.9 230.7,359.9 229.9,369.8 227.7,379.8 225.5,389.8 222.8,399.7 220.1,409.7 217.5,419.6 215.1,429.6 212.7,439.5 210.3,449.5 207.8,459.5 205.7,469.4 204.8,479.4 203.9,489.3 203.0,499.3 202.1,509.3 201.2,519.2 200.1,529.2 198.9,539.1 197.8,549.1 196.7,559.1 195.6,569.0 194.4,579.0 193.2,588.9 192.0,598.9 190.8,608.8 189.6,618.8 188.6,628.8 187.6,638.7 186.6,648.7 185.6,658.6 184.5,668.6 182.9,678.6 181.3,688.5 179.7,698.5 178.2,708.4 176.6,718.4 175.3,728.3 174.0,738.3 172.6,748.3 171.3,758.2 170.1,768.2 169.3,778.1 168.6,788.1 167.9,798.1 167.2,808.0" fill="none" stroke="#0000ff" stroke-width="2.75" stroke-linejoin="round"/>
<g fill="#0000ff"><circle cx="466.7" cy="21.3" r="5.8"/><circle cx="466.7" cy="31.3" r="5.8"/><circle cx="466.7" cy="41.2" r="5.8"/><circle cx="466.5" cy="51.2" r="5.8"/><circle cx="466.0" cy="61.1" r="5.8"/><circle cx="465.0" cy="71.1" r="5.8"/><circle cx="459.0" cy="81.0" r="5.8"/><circle cx="449.7" cy="91.0" r="5.8"/><circle cx="423.6" cy="101.0" r="5.8"/><circle cx="394.0" cy="110.9" r="5.8"/><circle cx="376.0" cy="120.9" r="5.8"/><circle cx="362.0" cy="130.8" r="5.8"/><circle cx="351.0" cy="140.8" r="5.8"/><circle cx="340.4" cy="150.8" r="5.8"/><circle cx="331.0" cy="160.7" r="5.8"/><circle cx="322.2" cy="170.7" r="5.8"/><circle cx="317.1" cy="180.6" r="5.8"/><circle cx="310.4" cy="190.6" r="5.8"/><circle cx="303.0" cy="200.5" r="5.8"/><circle cx="297.5" cy="210.5" r="5.8"/><circle cx="290.6" cy="220.5" r="5.8"/><circle cx="283.2" cy="230.4" r="5.8"/><circle cx="276.4" cy="240.4" r="5.8"/><circle cx="269.6" cy="250.3" r="5.8"/><circle cx="264.9" cy="260.3" r="5.8"/><circle cx="258.6" cy="270.3" r="5.8"/><circle cx="251.8" cy="280.2" r="5.8"/><circle cx="246.7" cy="290.2" r="5.8"/><circle cx="242.0" cy="300.1" r="5.8"/><circle cx="238.7" cy="310.1" r="5.8"/><circle cx="235.2" cy="320.0" r="5.8"/><circle cx="232.5" cy="330.0" r="5.8"/><circle cx="231.6" cy="340.0" r="5.8"/><circle cx="231.1" cy="349.9" r="5.8"/><circle cx="230.7" cy="359.9" r="5.8"/><circle cx="229.9" cy="369.8" r="5.8"/><circle cx="227.7" cy="379.8" r="5.8"/><circle cx="225.5" cy="389.8" r="5.8"/><circle cx="222.8" cy="399.7" r="5.8"/><circle cx="220.1" cy="409.7" r="5.8"/><circle cx="217.5" cy="419.6" r="5.8"/><circle cx="215.1" cy="429.6" r="5.8"/><circle cx="212.7" cy="439.5" r="5.8"/><circle cx="210.3" cy="449.5" r="5.8"/><circle cx="207.8" cy="459.5" r="5.8"/><circle cx="205.7" cy="469.4" r="5.8"/><circle cx="204.8" cy="479.4" r="5.8"/><circle cx="203.9" cy="489.3" r="5.8"/><circle cx="203.0" cy="499.3" r="5.8"/><circle cx="202.1" cy="509.3" r="5.8"/><circle cx="201.2" cy="519.2" r="5.8"/><circle cx="200.1" cy="529.2" r="5.8"/><circle cx="198.9" cy="539.1" r="5.8"/><circle cx="197.8" cy="549.1" r="5.8"/><circle cx="196.7" cy="559.1" r="5.8"/><circle cx="195.6" cy="569.0" r="5.8"/><circle cx="194.4" cy="579.0" r="5.8"/><circle cx="193.2" cy="588.9" r="5.8"/><circle cx="192.0" cy="598.9" r="5.8"/><circle cx="190.8" cy="608.8" r="5.8"/><circle cx="189.6" cy="618.8" r="5.8"/><circle cx="188.6" cy="628.8" r="5.8"/><circle cx="187.6" cy="638.7" r="5.8"/><circle cx="186.6" cy="648.7" r="5.8"/><circle cx="185.6" cy="658.6" r="5.8"/><circle cx="184.5" cy="668.6" r="5.8"/><circle cx="182.9" cy="678.6" r="5.8"/><circle cx="181.3" cy="688.5" r="5.8"/><circle cx="179.7" cy="698.5" r="5.8"/><circle cx="178.2" cy="708.4" r="5.8"/><circle cx="176.6" cy="718.4" r="5.8"/><circle cx="175.3" cy="728.3" r="5.8"/><circle cx="174.0" cy="738.3" r="5.8"/><circle cx="172.6" cy="748.3" r="5.8"/><circle cx="171.3" cy="758.2" r="5.8"/><circle cx="170.1" cy="768.2" r="5.8"/><circle cx="169.3" cy="778.1" r="5.8"/><circle cx="168.6" cy="788.1" r="5.8"/><circle cx="167.9" cy="798.1" r="5.8"/><circle cx="167.2" cy="808.0" r="5.8"/></g>
<polyline points="453.5,19.3 453.4,23.3 453.2,27.3 453.0,31.3 452.6,35.2 452.2,39.2 451.5,43.2 450.6,49.2 447.6,59.1 441.6,69.1 430.7,79.1 419.1,89.0 403.7,99.0 390.8,108.9 383.8,118.9 364.4,138.8 348.9,158.7 332.2,178.6 316.0,198.6 301.4,218.5 268.2,268.3 237.1,318.1 209.9,417.6 195.8,517.2 182.3,616.8 170.0,716.4 156.5,816.0" fill="none" stroke="#ff0000" stroke-width="2.75" stroke-linejoin="round"/>
<g fill="#ff0000"><circle cx="453.5" cy="19.3" r="5.8"/><circle cx="453.4" cy="23.3" r="5.8"/><circle cx="453.2" cy="27.3" r="5.8"/><circle cx="453.0" cy="31.3" r="5.8"/><circle cx="452.6" cy="35.2" r="5.8"/><circle cx="452.2" cy="39.2" r="5.8"/><circle cx="451.5" cy="43.2" r="5.8"/><circle cx="450.6" cy="49.2" r="5.8"/><circle cx="447.6" cy="59.1" r="5.8"/><circle cx="441.6" cy="69.1" r="5.8"/><circle cx="430.7" cy="79.1" r="5.8"/><circle cx="419.1" cy="89.0" r="5.8"/><circle cx="403.7" cy="99.0" r="5.8"/><circle cx="390.8" cy="108.9" r="5.8"/><circle cx="383.8" cy="118.9" r="5.8"/><circle cx="364.4" cy="138.8" r="5.8"/><circle cx="348.9" cy="158.7" r="5.8"/><circle cx="332.2" cy="178.6" r="5.8"/><circle cx="316.0" cy="198.6" r="5.8"/><circle cx="301.4" cy="218.5" r="5.8"/><circle cx="268.2" cy="268.3" r="5.8"/><circle cx="237.1" cy="318.1" r="5.8"/><circle cx="209.9" cy="417.6" r="5.8"/><circle cx="195.8" cy="517.2" r="5.8"/><circle cx="182.3" cy="616.8" r="5.8"/><circle cx="170.0" cy="716.4" r="5.8"/><circle cx="156.5" cy="816.0" r="5.8"/></g>
<polyline points="453.5,19.3 453.4,23.3 453.2,27.3 453.0,31.3 452.6,35.2 452.2,39.2 451.5,43.2 450.6,49.2 447.6,59.1 441.6,69.1 430.7,79.1 419.1,89.0 403.7,99.0 390.8,108.9 383.8,118.9 364.4,138.8 348.9,158.7 332.2,178.6 316.0,198.6 301.4,218.5 268.2,268.3 237.1,318.1 208.3,417.6 194.2,517.2 180.7,616.8 168.4,716.4 154.9,816.0" fill="none" stroke="#ff0000" stroke-width="2.75" stroke-linejoin="round"/>
<polyline points="454.0,19.3 453.8,23.3 453.5,27.3 453.2,31.3 452.8,35.2 452.3,39.2 451.5,43.2 450.6,49.2 447.4,59.1 435.8,69.1 426.2,79.1 407.5,89.0 394.0,99.0 383.4,108.9 373.5,118.9 354.7,138.8 339.3,158.7 323.9,178.6 313.6,198.6 299.6,218.5 267.5,268.3 243.5,318.1 213.2,417.6 196.9,517.2 183.3,616.8 171.3,716.4 161.6,816.0" fill="none" stroke="#008000" stroke-width="2.75" stroke-linejoin="round"/>
<g fill="#008000"><circle cx="454.0" cy="19.3" r="5.8"/><circle cx="453.8" cy="23.3" r="5.8"/><circle cx="453.5" cy="27.3" r="5.8"/><circle cx="453.2" cy="31.3" r="5.8"/><circle cx="452.8" cy="35.2" r="5.8"/><circle cx="452.3" cy="39.2" r="5.8"/><circle cx="451.5" cy="43.2" r="5.8"/><circle cx="450.6" cy="49.2" r="5.8"/><circle cx="447.4" cy="59.1" r="5.8"/><circle cx="435.8" cy="69.1" r="5.8"/><circle cx="426.2" cy="79.1" r="5.8"/><circle cx="407.5" cy="89.0" r="5.8"/><circle cx="394.0" cy="99.0" r="5.8"/><circle cx="383.4" cy="108.9" r="5.8"/><circle cx="373.5" cy="118.9" r="5.8"/><circle cx="354.7" cy="138.8" r="5.8"/><circle cx="339.3" cy="158.7" r="5.8"/><circle cx="323.9" cy="178.6" r="5.8"/><circle cx="313.6" cy="198.6" r="5.8"/><circle cx="299.6" cy="218.5" r="5.8"/><circle cx="267.5" cy="268.3" r="5.8"/><circle cx="243.5" cy="318.1" r="5.8"/><circle cx="213.2" cy="417.6" r="5.8"/><circle cx="196.9" cy="517.2" r="5.8"/><circle cx="183.3" cy="616.8" r="5.8"/><circle cx="171.3" cy="716.4" r="5.8"/><circle cx="161.6" cy="816.0" r="5.8"/></g>
<polyline points="442.2,20.3 442.1,22.4 442.0,24.6 441.9,26.9 441.8,29.4 441.6,32.1 441.5,35.1 441.3,38.4 441.1,42.0 440.9,46.1 440.6,50.8 440.3,56.1 434.5,62.3 427.5,69.5 421.7,77.9 414.6,87.8 407.5,99.6 395.7,113.7 376.7,130.4 354.7,150.4 332.2,174.5 310.4,203.1 287.5,237.8 262.4,279.6 238.7,329.8 220.4,390.0 207.5,462.5 192.4,549.1 172.4,652.9 159.7,776.5 143.6,923.3" fill="none" stroke="#ff00ff" stroke-width="2.75" stroke-linejoin="round"/>
<polyline points="442.2,20.3 442.1,22.4 442.0,24.6 441.9,26.9 441.8,29.4 441.6,32.1 441.5,35.1 441.3,38.4 441.1,42.0 440.9,46.1 440.6,50.8 440.3,56.1 434.5,62.3 427.5,69.5 421.7,77.9 414.6,87.8 407.5,99.6 395.7,113.7 376.7,130.4 354.7,150.4 332.2,174.5 310.4,203.1 287.5,237.8 262.4,279.6 238.7,329.8 220.4,390.0 207.5,462.5 192.4,549.1 172.4,652.9 156.7,776.5 137.1,923.3" fill="none" stroke="#ff00ff" stroke-width="2.75" stroke-linejoin="round"/>
<g fill="#ff00ff"><circle cx="442.2" cy="20.3" r="5.8"/><circle cx="442.1" cy="22.4" r="5.8"/><circle cx="442.0" cy="24.6" r="5.8"/><circle cx="441.9" cy="26.9" r="5.8"/><circle cx="441.8" cy="29.4" r="5.8"/><circle cx="441.6" cy="32.1" r="5.8"/><circle cx="441.5" cy="35.1" r="5.8"/><circle cx="441.3" cy="38.4" r="5.8"/><circle cx="441.1" cy="42.0" r="5.8"/><circle cx="440.9" cy="46.1" r="5.8"/><circle cx="440.6" cy="50.8" r="5.8"/><circle cx="440.3" cy="56.1" r="5.8"/><circle cx="434.5" cy="62.3" r="5.8"/><circle cx="427.5" cy="69.5" r="5.8"/><circle cx="421.7" cy="77.9" r="5.8"/><circle cx="414.6" cy="87.8" r="5.8"/><circle cx="407.5" cy="99.6" r="5.8"/><circle cx="395.7" cy="113.7" r="5.8"/><circle cx="376.7" cy="130.4" r="5.8"/><circle cx="354.7" cy="150.4" r="5.8"/><circle cx="332.2" cy="174.5" r="5.8"/><circle cx="310.4" cy="203.1" r="5.8"/><circle cx="287.5" cy="237.8" r="5.8"/><circle cx="262.4" cy="279.6" r="5.8"/><circle cx="238.7" cy="329.8" r="5.8"/><circle cx="220.4" cy="390.0" r="5.8"/><circle cx="207.5" cy="462.5" r="5.8"/><circle cx="192.4" cy="549.1" r="5.8"/><circle cx="172.4" cy="652.9" r="5.8"/><circle cx="156.7" cy="776.5" r="5.8"/><circle cx="137.1" cy="923.3" r="5.8"/></g>
</g>
<g stroke="#000" stroke-width="1.47" fill="none">
<rect x="88.5" y="19.5" width="399.0" height="795.0"/>
<line x1="126.5" y1="814.5" x2="126.5" y2="821.1"/>
<line x1="184.5" y1="814.5" x2="184.5" y2="821.1"/>
<line x1="241.5" y1="814.5" x2="241.5" y2="821.1"/>
<line x1="299.5" y1="814.5" x2="299.5" y2="821.1"/>
<line x1="357.5" y1="814.5" x2="357.5" y2="821.1"/>
<line x1="414.5" y1="814.5" x2="414.5" y2="821.1"/>
<line x1="472.5" y1="814.5" x2="472.5" y2="821.1"/>
<line x1="81.9" y1="19.5" x2="88.5" y2="19.5"/>
<line x1="81.9" y1="69.5" x2="88.5" y2="69.5"/>
<line x1="81.9" y1="118.5" x2="88.5" y2="118.5"/>
<line x1="81.9" y1="168.5" x2="88.5" y2="168.5"/>
<line x1="81.9" y1="218.5" x2="88.5" y2="218.5"/>
<line x1="81.9" y1="268.5" x2="88.5" y2="268.5"/>
<line x1="81.9" y1="318.5" x2="88.5" y2="318.5"/>
<line x1="81.9" y1="367.5" x2="88.5" y2="367.5"/>
<line x1="81.9" y1="417.5" x2="88.5" y2="417.5"/>
<line x1="81.9" y1="467.5" x2="88.5" y2="467.5"/>
<line x1="81.9" y1="517.5" x2="88.5" y2="517.5"/>
<line x1="81.9" y1="567.5" x2="88.5" y2="567.5"/>
<line x1="81.9" y1="616.5" x2="88.5" y2="616.5"/>
<line x1="81.9" y1="666.5" x2="88.5" y2="666.5"/>
<line x1="81.9" y1="716.5" x2="88.5" y2="716.5"/>
<line x1="81.9" y1="766.5" x2="88.5" y2="766.5"/>
</g>
<clipPath id="c1"><rect x="581.5" y="19.5" width="399.0" height="795.0"/></clipPath>
<g stroke="#b0b0b0" stroke-width="1" stroke-dasharray="3.2 1.4" fill="none">
<line x1="634.5" y1="814.5" x2="634.5" y2="19.5"/>
<line x1="734.5" y1="814.5" x2="734.5" y2="19.5"/>
<line x1="835.5" y1="814.5" x2="835.5" y2="19.5"/>
<line x1="935.5" y1="814.5" x2="935.5" y2="19.5"/>
<line x1="581.5" y1="19.5" x2="980.5" y2="19.5"/>
<line x1="581.5" y1="69.5" x2="980.5" y2="69.5"/>
<line x1="581.5" y1="118.5" x2="980.5" y2="118.5"/>
<line x1="581.5" y1="168.5" x2="980.5" y2="168.5"/>
<line x1="581.5" y1="218.5" x2="980.5" y2="218.5"/>
<line x1="581.5" y1="268.5" x2="980.5" y2="268.5"/>
<line x1="581.5" y1="318.5" x2="980.5" y2="318.5"/>
<line x1="581.5" y1="367.5" x2="980.5" y2="367.5"/>
<line x1="581.5" y1="417.5" x2="980.5" y2="417.5"/>
<line x1="581.5" y1="467.5" x2="980.5" y2="467.5"/>
<line x1="581.5" y1="517.5" x2="980.5" y2="517.5"/>
<line x1="581.5" y1="567.5" x2="980.5" y2="567.5"/>
<line x1="581.5" y1="616.5" x2="980.5" y2="616.5"/>
<line x1="581.5" y1="666.5" x2="980.5" y2="666.5"/>
<line x1="581.5" y1="716.5" x2="980.5" y2="716.5"/>
<line x1="581.5" y1="766.5" x2="980.5" y2="766.5"/>
</g>
<g clip-path="url(#c1)">
<g fill="#00ffff"><circle cx="652.9" cy="20.2" r="3.6"/><circle cx="652.8" cy="25.1" r="3.6"/><circle cx="652.8" cy="30.1" r="3.6"/><circle cx="652.4" cy="35.1" r="3.6"/><circle cx="651.8" cy="40.1" r="3.6"/><circle cx="652.8" cy="45.1" r="3.6"/><circle cx="652.5" cy="50.0" r="3.6"/><circle cx="652.4" cy="55.0" r="3.6"/><circle cx="652.7" cy="60.0" r="3.6"/><circle cx="650.1" cy="65.0" r="3.6"/><circle cx="646.3" cy="70.0" r="3.6"/><circle cx="647.2" cy="74.9" r="3.6"/><circle cx="656.1" cy="79.9" r="3.6"/><circle cx="660.1" cy="84.9" r="3.6"/><circle cx="660.3" cy="89.9" r="3.6"/><circle cx="661.0" cy="94.9" r="3.6"/><circle cx="659.8" cy="99.8" r="3.6"/><circle cx="663.3" cy="104.8" r="3.6"/><circle cx="660.9" cy="109.8" r="3.6"/><circle cx="659.4" cy="114.8" r="3.6"/><circle cx="655.5" cy="119.8" r="3.6"/><circle cx="652.5" cy="124.7" r="3.6"/><circle cx="656.6" cy="129.7" r="3.6"/><circle cx="659.9" cy="134.7" r="3.6"/><circle cx="664.5" cy="139.7" r="3.6"/><circle cx="670.3" cy="144.6" r="3.6"/><circle cx="666.4" cy="149.6" r="3.6"/><circle cx="668.0" cy="154.6" r="3.6"/><circle cx="669.9" cy="159.6" r="3.6"/><circle cx="668.2" cy="164.6" r="3.6"/><circle cx="672.3" cy="169.5" r="3.6"/><circle cx="664.8" cy="174.5" r="3.6"/><circle cx="667.5" cy="179.5" r="3.6"/><circle cx="669.7" cy="184.5" r="3.6"/><circle cx="673.2" cy="189.5" r="3.6"/><circle cx="681.6" cy="194.4" r="3.6"/><circle cx="680.5" cy="199.4" r="3.6"/><circle cx="678.8" cy="204.4" r="3.6"/><circle cx="678.5" cy="209.4" r="3.6"/><circle cx="682.6" cy="214.4" r="3.6"/><circle cx="682.4" cy="219.3" r="3.6"/><circle cx="690.7" cy="224.3" r="3.6"/><circle cx="693.5" cy="229.3" r="3.6"/><circle cx="697.3" cy="234.3" r="3.6"/><circle cx="702.7" cy="239.3" r="3.6"/><circle cx="706.9" cy="244.2" r="3.6"/><circle cx="715.2" cy="249.2" r="3.6"/><circle cx="722.0" cy="254.2" r="3.6"/><circle cx="723.8" cy="259.2" r="3.6"/><circle cx="729.3" cy="264.2" r="3.6"/><circle cx="732.6" cy="269.1" r="3.6"/><circle cx="739.4" cy="274.1" r="3.6"/><circle cx="746.9" cy="279.1" r="3.6"/><circle cx="751.6" cy="284.1" r="3.6"/><circle cx="754.5" cy="289.0" r="3.6"/><circle cx="757.2" cy="294.0" r="3.6"/><circle cx="761.1" cy="299.0" r="3.6"/><circle cx="766.6" cy="304.0" r="3.6"/><circle cx="769.5" cy="309.0" r="3.6"/><circle cx="772.2" cy="313.9" r="3.6"/><circle cx="773.7" cy="318.9" r="3.6"/><circle cx="776.3" cy="323.9" r="3.6"/><circle cx="778.7" cy="328.9" r="3.6"/><circle cx="782.9" cy="333.9" r="3.6"/><circle cx="786.8" cy="338.8" r="3.6"/><circle cx="789.2" cy="343.8" r="3.6"/><circle cx="792.6" cy="348.8" r="3.6"/><circle cx="795.3" cy="353.8" r="3.6"/><circle cx="799.8" cy="358.8" r="3.6"/><circle cx="802.6" cy="363.7" r="3.6"/><circle cx="806.0" cy="368.7" r="3.6"/><circle cx="808.6" cy="373.7" r="3.6"/><circle cx="809.2" cy="378.7" r="3.6"/><circle cx="811.5" cy="383.7" r="3.6"/><circle cx="814.4" cy="388.6" r="3.6"/><circle cx="818.6" cy="393.6" r="3.6"/><circle cx="818.9" cy="398.6" r="3.6"/><circle cx="820.7" cy="403.6" r="3.6"/><circle cx="821.6" cy="408.5" r="3.6"/><circle cx="823.6" cy="413.5" r="3.6"/><circle cx="824.6" cy="418.5" r="3.6"/><circle cx="826.0" cy="423.5" r="3.6"/><circle cx="828.9" cy="428.5" r="3.6"/><circle cx="828.1" cy="433.4" r="3.6"/><circle cx="829.3" cy="438.4" r="3.6"/><circle cx="830.0" cy="443.4" r="3.6"/><circle cx="831.5" cy="448.4" r="3.6"/><circle cx="830.3" cy="453.4" r="3.6"/><circle cx="831.2" cy="458.3" r="3.6"/><circle cx="831.1" cy="463.3" r="3.6"/><circle cx="831.4" cy="468.3" r="3.6"/><circle cx="833.3" cy="473.3" r="3.6"/><circle cx="834.1" cy="478.3" r="3.6"/><circle cx="834.3" cy="483.2" r="3.6"/><circle cx="835.9" cy="488.2" r="3.6"/><circle cx="834.3" cy="493.2" r="3.6"/><circle cx="836.4" cy="498.2" r="3.6"/><circle cx="838.3" cy="503.2" r="3.6"/><circle cx="839.2" cy="508.1" r="3.6"/><circle cx="838.7" cy="513.1" r="3.6"/><circle cx="840.2" cy="518.1" r="3.6"/><circle cx="840.0" cy="523.1" r="3.6"/><circle cx="841.6" cy="528.1" r="3.6"/><circle cx="842.5" cy="533.0" r="3.6"/><circle cx="844.4" cy="538.0" r="3.6"/><circle cx="844.9" cy="543.0" r="3.6"/><circle cx="844.6" cy="548.0" r="3.6"/><circle cx="846.8" cy="552.9" r="3.6"/><circle cx="847.2" cy="557.9" r="3.6"/><circle cx="848.1" cy="562.9" r="3.6"/><circle cx="849.1" cy="567.9" r="3.6"/><circle cx="847.7" cy="572.9" r="3.6"/><circle cx="848.4" cy="577.8" r="3.6"/><circle cx="850.0" cy="582.8" r="3.6"/><circle cx="851.3" cy="587.8" r="3.6"/><circle cx="850.8" cy="592.8" r="3.6"/><circle cx="849.4" cy="597.8" r="3.6"/><circle cx="848.9" cy="602.7" r="3.6"/><circle cx="851.4" cy="607.7" r="3.6"/><circle cx="851.2" cy="612.7" r="3.6"/><circle cx="851.7" cy="617.7" r="3.6"/><circle cx="853.0" cy="622.7" r="3.6"/><circle cx="853.0" cy="627.6" r="3.6"/><circle cx="851.2" cy="632.6" r="3.6"/><circle cx="852.2" cy="637.6" r="3.6"/><circle cx="853.9" cy="642.6" r="3.6"/><circle cx="854.4" cy="647.6" r="3.6"/><circle cx="856.1" cy="652.5" r="3.6"/><circle cx="855.0" cy="657.5" r="3.6"/><circle cx="855.6" cy="662.5" r="3.6"/><circle cx="856.6" cy="667.5" r="3.6"/><circle cx="856.9" cy="672.4" r="3.6"/><circle cx="859.2" cy="677.4" r="3.6"/><circle cx="857.1" cy="682.4" r="3.6"/><circle cx="858.8" cy="687.4" r="3.6"/><circle cx="858.1" cy="692.4" r="3.6"/><circle cx="859.7" cy="697.3" r="3.6"/><circle cx="859.8" cy="702.3" r="3.6"/><circle cx="860.8" cy="707.3" r="3.6"/><circle cx="859.8" cy="712.3" r="3.6"/><circle cx="858.4" cy="717.3" r="3.6"/><circle cx="860.7" cy="722.2" r="3.6"/><circle cx="860.0" cy="727.2" r="3.6"/><circle cx="859.9" cy="732.2" r="3.6"/><circle cx="859.8" cy="737.2" r="3.6"/><circle cx="858.9" cy="742.2" r="3.6"/><circle cx="857.9" cy="747.1" r="3.6"/><circle cx="859.4" cy="752.1" r="3.6"/><circle cx="860.1" cy="757.1" r="3.6"/><circle cx="860.9" cy="762.1" r="3.6"/><circle cx="859.5" cy="767.1" r="3.6"/><circle cx="859.9" cy="772.0" r="3.6"/><circle cx="860.1" cy="777.0" r="3.6"/><circle cx="861.3" cy="782.0" r="3.6"/><circle cx="863.2" cy="787.0" r="3.6"/><circle cx="863.4" cy="792.0" r="3.6"/><circle cx="862.5" cy="796.9" r="3.6"/><circle cx="862.2" cy="801.9" r="3.6"/><circle cx="863.7" cy="806.9" r="3.6"/><circle cx="864.9" cy="811.9" r="3.6"/><circle cx="658.2" cy="21.5" r="3.6"/><circle cx="658.4" cy="26.4" r="3.6"/><circle cx="658.2" cy="31.4" r="3.6"/><circle cx="658.1" cy="36.4" r="3.6"/><circle cx="657.8" cy="41.4" r="3.6"/><circle cx="658.1" cy="46.4" r="3.6"/><circle cx="657.9" cy="51.3" r="3.6"/><circle cx="658.4" cy="56.3" r="3.6"/><circle cx="658.3" cy="61.3" r="3.6"/><circle cx="665.6" cy="66.3" r="3.6"/><circle cx="672.5" cy="71.3" r="3.6"/><circle cx="679.8" cy="76.2" r="3.6"/><circle cx="686.3" cy="81.2" r="3.6"/><circle cx="695.7" cy="86.2" r="3.6"/><circle cx="693.1" cy="91.2" r="3.6"/><circle cx="692.0" cy="96.1" r="3.6"/><circle cx="689.1" cy="101.1" r="3.6"/><circle cx="685.4" cy="106.1" r="3.6"/><circle cx="679.3" cy="111.1" r="3.6"/><circle cx="672.0" cy="116.1" r="3.6"/><circle cx="676.7" cy="121.0" r="3.6"/><circle cx="680.1" cy="126.0" r="3.6"/><circle cx="680.6" cy="131.0" r="3.6"/><circle cx="682.5" cy="136.0" r="3.6"/><circle cx="689.5" cy="141.0" r="3.6"/><circle cx="694.9" cy="145.9" r="3.6"/><circle cx="704.0" cy="150.9" r="3.6"/><circle cx="699.3" cy="155.9" r="3.6"/><circle cx="694.1" cy="160.9" r="3.6"/><circle cx="689.9" cy="165.9" r="3.6"/><circle cx="690.6" cy="170.8" r="3.6"/><circle cx="690.9" cy="175.8" r="3.6"/><circle cx="695.0" cy="180.8" r="3.6"/><circle cx="698.8" cy="185.8" r="3.6"/><circle cx="698.4" cy="190.8" r="3.6"/><circle cx="703.2" cy="195.7" r="3.6"/><circle cx="708.2" cy="200.7" r="3.6"/><circle cx="715.8" cy="205.7" r="3.6"/><circle cx="715.7" cy="210.7" r="3.6"/><circle cx="716.2" cy="215.7" r="3.6"/><circle cx="716.6" cy="220.6" r="3.6"/><circle cx="716.7" cy="225.6" r="3.6"/><circle cx="723.5" cy="230.6" r="3.6"/><circle cx="720.7" cy="235.6" r="3.6"/><circle cx="719.2" cy="240.5" r="3.6"/><circle cx="725.0" cy="245.5" r="3.6"/><circle cx="725.9" cy="250.5" r="3.6"/><circle cx="728.1" cy="255.5" r="3.6"/><circle cx="735.8" cy="260.5" r="3.6"/><circle cx="739.6" cy="265.4" r="3.6"/><circle cx="741.9" cy="270.4" r="3.6"/><circle cx="742.6" cy="275.4" r="3.6"/><circle cx="752.2" cy="280.4" r="3.6"/><circle cx="757.3" cy="285.4" r="3.6"/><circle cx="763.2" cy="290.3" r="3.6"/><circle cx="767.4" cy="295.3" r="3.6"/><circle cx="770.2" cy="300.3" r="3.6"/><circle cx="774.5" cy="305.3" r="3.6"/><circle cx="776.5" cy="310.3" r="3.6"/><circle cx="780.6" cy="315.2" r="3.6"/><circle cx="782.6" cy="320.2" r="3.6"/><circle cx="783.9" cy="325.2" r="3.6"/><circle cx="786.2" cy="330.2" r="3.6"/><circle cx="788.9" cy="335.2" r="3.6"/><circle cx="793.4" cy="340.1" r="3.6"/><circle cx="796.9" cy="345.1" r="3.6"/><circle cx="802.2" cy="350.1" r="3.6"/><circle cx="804.4" cy="355.1" r="3.6"/><circle cx="807.5" cy="360.0" r="3.6"/><circle cx="808.2" cy="365.0" r="3.6"/><circle cx="811.2" cy="370.0" r="3.6"/><circle cx="815.7" cy="375.0" r="3.6"/><circle cx="816.3" cy="380.0" r="3.6"/><circle cx="817.7" cy="384.9" r="3.6"/><circle cx="819.1" cy="389.9" r="3.6"/><circle cx="818.6" cy="394.9" r="3.6"/><circle cx="822.2" cy="399.9" r="3.6"/><circle cx="825.6" cy="404.9" r="3.6"/><circle cx="826.3" cy="409.8" r="3.6"/><circle cx="826.6" cy="414.8" r="3.6"/><circle cx="828.8" cy="419.8" r="3.6"/><circle cx="831.3" cy="424.8" r="3.6"/><circle cx="834.5" cy="429.8" r="3.6"/><circle cx="837.3" cy="434.7" r="3.6"/><circle cx="837.5" cy="439.7" r="3.6"/><circle cx="838.8" cy="444.7" r="3.6"/><circle cx="839.4" cy="449.7" r="3.6"/><circle cx="841.0" cy="454.7" r="3.6"/><circle cx="842.7" cy="459.6" r="3.6"/><circle cx="842.4" cy="464.6" r="3.6"/><circle cx="844.4" cy="469.6" r="3.6"/><circle cx="844.3" cy="474.6" r="3.6"/><circle cx="843.5" cy="479.6" r="3.6"/><circle cx="845.5" cy="484.5" r="3.6"/><circle cx="846.5" cy="489.5" r="3.6"/><circle cx="848.7" cy="494.5" r="3.6"/><circle cx="849.8" cy="499.5" r="3.6"/><circle cx="849.3" cy="504.4" r="3.6"/><circle cx="850.7" cy="509.4" r="3.6"/><circle cx="852.2" cy="514.4" r="3.6"/><circle cx="853.7" cy="519.4" r="3.6"/><circle cx="853.9" cy="524.4" r="3.6"/><circle cx="853.0" cy="529.3" r="3.6"/><circle cx="853.6" cy="534.3" r="3.6"/><circle cx="853.2" cy="539.3" r="3.6"/><circle cx="853.7" cy="544.3" r="3.6"/><circle cx="855.9" cy="549.3" r="3.6"/><circle cx="855.0" cy="554.2" r="3.6"/><circle cx="856.0" cy="559.2" r="3.6"/><circle cx="855.2" cy="564.2" r="3.6"/><circle cx="858.8" cy="569.2" r="3.6"/><circle cx="859.6" cy="574.2" r="3.6"/><circle cx="860.7" cy="579.1" r="3.6"/><circle cx="862.1" cy="584.1" r="3.6"/><circle cx="860.8" cy="589.1" r="3.6"/><circle cx="861.3" cy="594.1" r="3.6"/><circle cx="863.1" cy="599.1" r="3.6"/><circle cx="863.5" cy="604.0" r="3.6"/><circle cx="864.1" cy="609.0" r="3.6"/><circle cx="863.2" cy="614.0" r="3.6"/><circle cx="862.7" cy="619.0" r="3.6"/><circle cx="863.0" cy="624.0" r="3.6"/><circle cx="864.6" cy="628.9" r="3.6"/><circle cx="865.6" cy="633.9" r="3.6"/><circle cx="867.1" cy="638.9" r="3.6"/><circle cx="867.1" cy="643.9" r="3.6"/><circle cx="865.6" cy="648.8" r="3.6"/><circle cx="867.0" cy="653.8" r="3.6"/><circle cx="870.7" cy="658.8" r="3.6"/><circle cx="870.3" cy="663.8" r="3.6"/><circle cx="870.4" cy="668.8" r="3.6"/><circle cx="869.1" cy="673.7" r="3.6"/><circle cx="868.5" cy="678.7" r="3.6"/><circle cx="869.8" cy="683.7" r="3.6"/><circle cx="868.3" cy="688.7" r="3.6"/><circle cx="868.8" cy="693.7" r="3.6"/><circle cx="868.1" cy="698.6" r="3.6"/><circle cx="866.8" cy="703.6" r="3.6"/><circle cx="867.4" cy="708.6" r="3.6"/><circle cx="869.2" cy="713.6" r="3.6"/><circle cx="870.9" cy="718.6" r="3.6"/><circle cx="871.8" cy="723.5" r="3.6"/><circle cx="870.3" cy="728.5" r="3.6"/><circle cx="870.3" cy="733.5" r="3.6"/><circle cx="872.7" cy="738.5" r="3.6"/><circle cx="872.3" cy="743.5" r="3.6"/><circle cx="873.4" cy="748.4" r="3.6"/><circle cx="872.0" cy="753.4" r="3.6"/><circle cx="870.6" cy="758.4" r="3.6"/><circle cx="871.7" cy="763.4" r="3.6"/><circle cx="870.0" cy="768.3" r="3.6"/><circle cx="871.4" cy="773.3" r="3.6"/><circle cx="873.5" cy="778.3" r="3.6"/><circle cx="873.4" cy="783.3" r="3.6"/><circle cx="872.6" cy="788.3" r="3.6"/><circle cx="874.4" cy="793.2" r="3.6"/><circle cx="876.3" cy="798.2" r="3.6"/><circle cx="876.5" cy="803.2" r="3.6"/><circle cx="877.8" cy="808.2" r="3.6"/><circle cx="878.2" cy="813.2" r="3.6"/><circle cx="663.7" cy="21.6" r="3.6"/><circle cx="664.0" cy="26.5" r="3.6"/><circle cx="663.5" cy="31.5" r="3.6"/><circle cx="663.6" cy="36.5" r="3.6"/><circle cx="662.9" cy="41.5" r="3.6"/><circle cx="663.5" cy="46.5" r="3.6"/><circle cx="663.7" cy="51.4" r="3.6"/><circle cx="663.2" cy="56.4" r="3.6"/><circle cx="663.1" cy="61.4" r="3.6"/><circle cx="664.0" cy="66.4" r="3.6"/><circle cx="664.5" cy="71.3" r="3.6"/><circle cx="664.0" cy="76.3" r="3.6"/><circle cx="670.9" cy="81.3" r="3.6"/><circle cx="678.3" cy="86.3" r="3.6"/><circle cx="677.1" cy="91.3" r="3.6"/><circle cx="675.4" cy="96.2" r="3.6"/><circle cx="672.4" cy="101.2" r="3.6"/><circle cx="671.6" cy="106.2" r="3.6"/><circle cx="663.0" cy="111.2" r="3.6"/><circle cx="668.5" cy="116.2" r="3.6"/><circle cx="660.2" cy="121.1" r="3.6"/><circle cx="663.8" cy="126.1" r="3.6"/><circle cx="662.1" cy="131.1" r="3.6"/><circle cx="666.2" cy="136.1" r="3.6"/><circle cx="666.7" cy="141.1" r="3.6"/><circle cx="671.1" cy="146.0" r="3.6"/><circle cx="673.1" cy="151.0" r="3.6"/><circle cx="680.6" cy="156.0" r="3.6"/><circle cx="678.5" cy="161.0" r="3.6"/><circle cx="686.2" cy="166.0" r="3.6"/><circle cx="681.5" cy="170.9" r="3.6"/><circle cx="682.4" cy="175.9" r="3.6"/><circle cx="684.5" cy="180.9" r="3.6"/><circle cx="689.0" cy="185.9" r="3.6"/><circle cx="690.9" cy="190.8" r="3.6"/><circle cx="697.7" cy="195.8" r="3.6"/><circle cx="704.5" cy="200.8" r="3.6"/><circle cx="706.1" cy="205.8" r="3.6"/><circle cx="706.9" cy="210.8" r="3.6"/><circle cx="706.3" cy="215.7" r="3.6"/><circle cx="707.1" cy="220.7" r="3.6"/><circle cx="699.1" cy="225.7" r="3.6"/><circle cx="705.1" cy="230.7" r="3.6"/><circle cx="707.6" cy="235.7" r="3.6"/><circle cx="712.2" cy="240.6" r="3.6"/><circle cx="718.9" cy="245.6" r="3.6"/><circle cx="722.6" cy="250.6" r="3.6"/><circle cx="723.2" cy="255.6" r="3.6"/><circle cx="727.0" cy="260.6" r="3.6"/><circle cx="730.9" cy="265.5" r="3.6"/><circle cx="730.2" cy="270.5" r="3.6"/><circle cx="734.1" cy="275.5" r="3.6"/><circle cx="738.5" cy="280.5" r="3.6"/><circle cx="749.6" cy="285.5" r="3.6"/><circle cx="750.3" cy="290.4" r="3.6"/><circle cx="757.4" cy="295.4" r="3.6"/><circle cx="758.8" cy="300.4" r="3.6"/><circle cx="764.1" cy="305.4" r="3.6"/><circle cx="766.3" cy="310.4" r="3.6"/><circle cx="772.6" cy="315.3" r="3.6"/><circle cx="775.3" cy="320.3" r="3.6"/><circle cx="777.8" cy="325.3" r="3.6"/><circle cx="779.9" cy="330.3" r="3.6"/><circle cx="783.5" cy="335.2" r="3.6"/><circle cx="785.0" cy="340.2" r="3.6"/><circle cx="790.0" cy="345.2" r="3.6"/><circle cx="793.2" cy="350.2" r="3.6"/><circle cx="797.0" cy="355.2" r="3.6"/><circle cx="801.4" cy="360.1" r="3.6"/><circle cx="806.0" cy="365.1" r="3.6"/><circle cx="810.1" cy="370.1" r="3.6"/><circle cx="810.9" cy="375.1" r="3.6"/><circle cx="812.6" cy="380.1" r="3.6"/><circle cx="813.3" cy="385.0" r="3.6"/><circle cx="817.6" cy="390.0" r="3.6"/><circle cx="818.0" cy="395.0" r="3.6"/><circle cx="821.6" cy="400.0" r="3.6"/><circle cx="824.1" cy="405.0" r="3.6"/><circle cx="823.8" cy="409.9" r="3.6"/><circle cx="825.5" cy="414.9" r="3.6"/><circle cx="826.4" cy="419.9" r="3.6"/><circle cx="828.6" cy="424.9" r="3.6"/><circle cx="829.1" cy="429.9" r="3.6"/><circle cx="830.3" cy="434.8" r="3.6"/><circle cx="832.1" cy="439.8" r="3.6"/><circle cx="833.3" cy="444.8" r="3.6"/><circle cx="834.1" cy="449.8" r="3.6"/><circle cx="834.9" cy="454.7" r="3.6"/><circle cx="835.3" cy="459.7" r="3.6"/><circle cx="834.8" cy="464.7" r="3.6"/><circle cx="835.3" cy="469.7" r="3.6"/><circle cx="837.7" cy="474.7" r="3.6"/><circle cx="839.5" cy="479.6" r="3.6"/><circle cx="840.2" cy="484.6" r="3.6"/><circle cx="841.6" cy="489.6" r="3.6"/><circle cx="843.4" cy="494.6" r="3.6"/><circle cx="843.7" cy="499.6" r="3.6"/><circle cx="841.7" cy="504.5" r="3.6"/><circle cx="842.8" cy="509.5" r="3.6"/><circle cx="844.6" cy="514.5" r="3.6"/><circle cx="846.8" cy="519.5" r="3.6"/><circle cx="849.1" cy="524.5" r="3.6"/><circle cx="848.8" cy="529.4" r="3.6"/><circle cx="848.3" cy="534.4" r="3.6"/><circle cx="849.6" cy="539.4" r="3.6"/><circle cx="849.1" cy="544.4" r="3.6"/><circle cx="848.7" cy="549.4" r="3.6"/><circle cx="850.9" cy="554.3" r="3.6"/><circle cx="853.2" cy="559.3" r="3.6"/><circle cx="854.2" cy="564.3" r="3.6"/><circle cx="854.9" cy="569.3" r="3.6"/><circle cx="855.9" cy="574.3" r="3.6"/><circle cx="855.1" cy="579.2" r="3.6"/><circle cx="853.6" cy="584.2" r="3.6"/><circle cx="854.4" cy="589.2" r="3.6"/><circle cx="855.2" cy="594.2" r="3.6"/><circle cx="855.5" cy="599.1" r="3.6"/><circle cx="857.0" cy="604.1" r="3.6"/><circle cx="857.3" cy="609.1" r="3.6"/><circle cx="857.8" cy="614.1" r="3.6"/><circle cx="858.1" cy="619.1" r="3.6"/><circle cx="856.7" cy="624.0" r="3.6"/><circle cx="856.0" cy="629.0" r="3.6"/><circle cx="857.2" cy="634.0" r="3.6"/><circle cx="859.2" cy="639.0" r="3.6"/><circle cx="859.0" cy="644.0" r="3.6"/><circle cx="858.9" cy="648.9" r="3.6"/><circle cx="860.0" cy="653.9" r="3.6"/><circle cx="859.2" cy="658.9" r="3.6"/><circle cx="861.2" cy="663.9" r="3.6"/><circle cx="861.6" cy="668.9" r="3.6"/><circle cx="861.4" cy="673.8" r="3.6"/><circle cx="861.3" cy="678.8" r="3.6"/><circle cx="863.0" cy="683.8" r="3.6"/><circle cx="864.2" cy="688.8" r="3.6"/><circle cx="863.9" cy="693.8" r="3.6"/><circle cx="862.8" cy="698.7" r="3.6"/><circle cx="864.3" cy="703.7" r="3.6"/><circle cx="863.7" cy="708.7" r="3.6"/><circle cx="863.5" cy="713.7" r="3.6"/><circle cx="865.4" cy="718.6" r="3.6"/><circle cx="865.3" cy="723.6" r="3.6"/><circle cx="867.6" cy="728.6" r="3.6"/><circle cx="866.5" cy="733.6" r="3.6"/><circle cx="866.6" cy="738.6" r="3.6"/><circle cx="867.0" cy="743.5" r="3.6"/><circle cx="866.8" cy="748.5" r="3.6"/><circle cx="867.0" cy="753.5" r="3.6"/><circle cx="869.2" cy="758.5" r="3.6"/><circle cx="868.7" cy="763.5" r="3.6"/><circle cx="869.2" cy="768.4" r="3.6"/><circle cx="869.2" cy="773.4" r="3.6"/><circle cx="869.2" cy="778.4" r="3.6"/><circle cx="868.8" cy="783.4" r="3.6"/><circle cx="867.1" cy="788.4" r="3.6"/><circle cx="867.6" cy="793.3" r="3.6"/><circle cx="869.0" cy="798.3" r="3.6"/><circle cx="868.1" cy="803.3" r="3.6"/><circle cx="870.1" cy="808.3" r="3.6"/><circle cx="869.7" cy="813.3" r="3.6"/><circle cx="667.5" cy="23.7" r="3.6"/><circle cx="667.2" cy="28.7" r="3.6"/><circle cx="667.5" cy="33.6" r="3.6"/><circle cx="667.1" cy="38.6" r="3.6"/><circle cx="667.5" cy="43.6" r="3.6"/><circle cx="667.4" cy="48.6" r="3.6"/><circle cx="666.8" cy="53.5" r="3.6"/><circle cx="666.7" cy="58.5" r="3.6"/><circle cx="667.5" cy="63.5" r="3.6"/><circle cx="669.9" cy="68.5" r="3.6"/><circle cx="677.5" cy="73.5" r="3.6"/><circle cx="687.4" cy="78.4" r="3.6"/><circle cx="685.0" cy="83.4" r="3.6"/><circle cx="685.6" cy="88.4" r="3.6"/><circle cx="678.8" cy="93.4" r="3.6"/><circle cx="681.3" cy="98.4" r="3.6"/><circle cx="678.6" cy="103.3" r="3.6"/><circle cx="671.8" cy="108.3" r="3.6"/><circle cx="674.6" cy="113.3" r="3.6"/><circle cx="673.1" cy="118.3" r="3.6"/><circle cx="679.5" cy="123.3" r="3.6"/><circle cx="681.4" cy="128.2" r="3.6"/><circle cx="680.8" cy="133.2" r="3.6"/><circle cx="687.3" cy="138.2" r="3.6"/><circle cx="682.0" cy="143.2" r="3.6"/><circle cx="681.1" cy="148.2" r="3.6"/><circle cx="683.2" cy="153.1" r="3.6"/><circle cx="683.7" cy="158.1" r="3.6"/><circle cx="682.9" cy="163.1" r="3.6"/><circle cx="685.8" cy="168.1" r="3.6"/><circle cx="691.4" cy="173.0" r="3.6"/><circle cx="693.2" cy="178.0" r="3.6"/><circle cx="693.1" cy="183.0" r="3.6"/><circle cx="690.1" cy="188.0" r="3.6"/><circle cx="698.8" cy="193.0" r="3.6"/><circle cx="698.5" cy="197.9" r="3.6"/><circle cx="697.8" cy="202.9" r="3.6"/><circle cx="706.8" cy="207.9" r="3.6"/><circle cx="707.1" cy="212.9" r="3.6"/><circle cx="708.9" cy="217.9" r="3.6"/><circle cx="712.6" cy="222.8" r="3.6"/><circle cx="710.3" cy="227.8" r="3.6"/><circle cx="714.9" cy="232.8" r="3.6"/><circle cx="719.9" cy="237.8" r="3.6"/><circle cx="728.2" cy="242.8" r="3.6"/><circle cx="734.3" cy="247.7" r="3.6"/><circle cx="736.7" cy="252.7" r="3.6"/><circle cx="738.3" cy="257.7" r="3.6"/><circle cx="735.6" cy="262.7" r="3.6"/><circle cx="742.2" cy="267.7" r="3.6"/><circle cx="749.3" cy="272.6" r="3.6"/><circle cx="752.9" cy="277.6" r="3.6"/><circle cx="757.1" cy="282.6" r="3.6"/><circle cx="760.7" cy="287.6" r="3.6"/><circle cx="766.5" cy="292.6" r="3.6"/><circle cx="767.8" cy="297.5" r="3.6"/><circle cx="775.1" cy="302.5" r="3.6"/><circle cx="775.6" cy="307.5" r="3.6"/><circle cx="777.6" cy="312.5" r="3.6"/><circle cx="780.0" cy="317.4" r="3.6"/><circle cx="784.6" cy="322.4" r="3.6"/><circle cx="788.7" cy="327.4" r="3.6"/><circle cx="792.1" cy="332.4" r="3.6"/><circle cx="796.5" cy="337.4" r="3.6"/><circle cx="799.9" cy="342.3" r="3.6"/><circle cx="803.3" cy="347.3" r="3.6"/><circle cx="806.0" cy="352.3" r="3.6"/><circle cx="809.1" cy="357.3" r="3.6"/><circle cx="809.8" cy="362.3" r="3.6"/><circle cx="815.5" cy="367.2" r="3.6"/><circle cx="815.5" cy="372.2" r="3.6"/><circle cx="817.2" cy="377.2" r="3.6"/><circle cx="819.2" cy="382.2" r="3.6"/><circle cx="821.7" cy="387.2" r="3.6"/><circle cx="823.4" cy="392.1" r="3.6"/><circle cx="826.0" cy="397.1" r="3.6"/><circle cx="826.3" cy="402.1" r="3.6"/><circle cx="826.4" cy="407.1" r="3.6"/><circle cx="828.7" cy="412.1" r="3.6"/><circle cx="830.2" cy="417.0" r="3.6"/><circle cx="831.2" cy="422.0" r="3.6"/><circle cx="832.1" cy="427.0" r="3.6"/><circle cx="832.2" cy="432.0" r="3.6"/><circle cx="834.0" cy="436.9" r="3.6"/><circle cx="834.2" cy="441.9" r="3.6"/><circle cx="835.6" cy="446.9" r="3.6"/><circle cx="836.4" cy="451.9" r="3.6"/><circle cx="837.1" cy="456.9" r="3.6"/><circle cx="839.4" cy="461.8" r="3.6"/><circle cx="839.6" cy="466.8" r="3.6"/><circle cx="841.9" cy="471.8" r="3.6"/><circle cx="842.0" cy="476.8" r="3.6"/><circle cx="840.9" cy="481.8" r="3.6"/><circle cx="842.3" cy="486.7" r="3.6"/><circle cx="844.2" cy="491.7" r="3.6"/><circle cx="846.0" cy="496.7" r="3.6"/><circle cx="848.4" cy="501.7" r="3.6"/><circle cx="848.5" cy="506.7" r="3.6"/><circle cx="849.5" cy="511.6" r="3.6"/><circle cx="849.4" cy="516.6" r="3.6"/><circle cx="850.0" cy="521.6" r="3.6"/><circle cx="851.9" cy="526.6" r="3.6"/><circle cx="852.3" cy="531.6" r="3.6"/><circle cx="855.0" cy="536.5" r="3.6"/><circle cx="854.6" cy="541.5" r="3.6"/><circle cx="855.6" cy="546.5" r="3.6"/><circle cx="855.8" cy="551.5" r="3.6"/><circle cx="855.9" cy="556.5" r="3.6"/><circle cx="856.6" cy="561.4" r="3.6"/><circle cx="854.9" cy="566.4" r="3.6"/><circle cx="855.5" cy="571.4" r="3.6"/><circle cx="855.9" cy="576.4" r="3.6"/><circle cx="858.6" cy="581.3" r="3.6"/><circle cx="858.2" cy="586.3" r="3.6"/><circle cx="858.2" cy="591.3" r="3.6"/><circle cx="858.0" cy="596.3" r="3.6"/><circle cx="856.2" cy="601.3" r="3.6"/><circle cx="858.0" cy="606.2" r="3.6"/><circle cx="858.1" cy="611.2" r="3.6"/><circle cx="859.3" cy="616.2" r="3.6"/><circle cx="860.2" cy="621.2" r="3.6"/><circle cx="861.1" cy="626.2" r="3.6"/><circle cx="861.8" cy="631.1" r="3.6"/><circle cx="861.8" cy="636.1" r="3.6"/><circle cx="862.1" cy="641.1" r="3.6"/><circle cx="863.0" cy="646.1" r="3.6"/><circle cx="861.8" cy="651.1" r="3.6"/><circle cx="864.9" cy="656.0" r="3.6"/><circle cx="866.1" cy="661.0" r="3.6"/><circle cx="865.9" cy="666.0" r="3.6"/><circle cx="867.6" cy="671.0" r="3.6"/><circle cx="867.5" cy="676.0" r="3.6"/><circle cx="866.7" cy="680.9" r="3.6"/><circle cx="867.7" cy="685.9" r="3.6"/><circle cx="866.5" cy="690.9" r="3.6"/><circle cx="866.4" cy="695.9" r="3.6"/><circle cx="866.1" cy="700.8" r="3.6"/><circle cx="868.8" cy="705.8" r="3.6"/><circle cx="867.9" cy="710.8" r="3.6"/><circle cx="867.9" cy="715.8" r="3.6"/><circle cx="867.0" cy="720.8" r="3.6"/><circle cx="867.8" cy="725.7" r="3.6"/><circle cx="865.9" cy="730.7" r="3.6"/><circle cx="866.9" cy="735.7" r="3.6"/><circle cx="866.9" cy="740.7" r="3.6"/><circle cx="867.5" cy="745.7" r="3.6"/><circle cx="868.0" cy="750.6" r="3.6"/><circle cx="868.7" cy="755.6" r="3.6"/><circle cx="868.0" cy="760.6" r="3.6"/><circle cx="866.6" cy="765.6" r="3.6"/><circle cx="866.2" cy="770.6" r="3.6"/><circle cx="868.9" cy="775.5" r="3.6"/><circle cx="867.8" cy="780.5" r="3.6"/><circle cx="871.1" cy="785.5" r="3.6"/><circle cx="873.4" cy="790.5" r="3.6"/><circle cx="871.5" cy="795.5" r="3.6"/><circle cx="873.7" cy="800.4" r="3.6"/><circle cx="873.8" cy="805.4" r="3.6"/><circle cx="873.2" cy="810.4" r="3.6"/><circle cx="872.2" cy="815.4" r="3.6"/><circle cx="672.5" cy="20.9" r="3.6"/><circle cx="672.0" cy="25.9" r="3.6"/><circle cx="672.7" cy="30.9" r="3.6"/><circle cx="671.4" cy="35.9" r="3.6"/><circle cx="671.5" cy="40.9" r="3.6"/><circle cx="672.5" cy="45.8" r="3.6"/><circle cx="671.8" cy="50.8" r="3.6"/><circle cx="671.5" cy="55.8" r="3.6"/><circle cx="672.6" cy="60.8" r="3.6"/><circle cx="674.9" cy="65.8" r="3.6"/><circle cx="680.8" cy="70.7" r="3.6"/><circle cx="692.6" cy="75.7" r="3.6"/><circle cx="694.2" cy="80.7" r="3.6"/><circle cx="688.4" cy="85.7" r="3.6"/><circle cx="688.1" cy="90.7" r="3.6"/><circle cx="684.4" cy="95.6" r="3.6"/><circle cx="684.3" cy="100.6" r="3.6"/><circle cx="682.0" cy="105.6" r="3.6"/><circle cx="675.2" cy="110.6" r="3.6"/><circle cx="668.3" cy="115.6" r="3.6"/><circle cx="667.8" cy="120.5" r="3.6"/><circle cx="676.6" cy="125.5" r="3.6"/><circle cx="678.0" cy="130.5" r="3.6"/><circle cx="683.2" cy="135.5" r="3.6"/><circle cx="680.7" cy="140.4" r="3.6"/><circle cx="683.8" cy="145.4" r="3.6"/><circle cx="687.8" cy="150.4" r="3.6"/><circle cx="689.1" cy="155.4" r="3.6"/><circle cx="683.1" cy="160.4" r="3.6"/><circle cx="680.2" cy="165.3" r="3.6"/><circle cx="686.2" cy="170.3" r="3.6"/><circle cx="692.7" cy="175.3" r="3.6"/><circle cx="700.6" cy="180.3" r="3.6"/><circle cx="706.2" cy="185.3" r="3.6"/><circle cx="704.5" cy="190.2" r="3.6"/><circle cx="706.5" cy="195.2" r="3.6"/><circle cx="707.9" cy="200.2" r="3.6"/><circle cx="714.4" cy="205.2" r="3.6"/><circle cx="716.3" cy="210.2" r="3.6"/><circle cx="714.8" cy="215.1" r="3.6"/><circle cx="716.6" cy="220.1" r="3.6"/><circle cx="713.9" cy="225.1" r="3.6"/><circle cx="722.4" cy="230.1" r="3.6"/><circle cx="722.9" cy="235.1" r="3.6"/><circle cx="725.0" cy="240.0" r="3.6"/><circle cx="725.3" cy="245.0" r="3.6"/><circle cx="734.7" cy="250.0" r="3.6"/><circle cx="738.6" cy="255.0" r="3.6"/><circle cx="737.7" cy="259.9" r="3.6"/><circle cx="738.3" cy="264.9" r="3.6"/><circle cx="746.5" cy="269.9" r="3.6"/><circle cx="752.8" cy="274.9" r="3.6"/><circle cx="755.0" cy="279.9" r="3.6"/><circle cx="760.1" cy="284.8" r="3.6"/><circle cx="764.6" cy="289.8" r="3.6"/><circle cx="769.7" cy="294.8" r="3.6"/><circle cx="769.3" cy="299.8" r="3.6"/><circle cx="773.5" cy="304.8" r="3.6"/><circle cx="779.0" cy="309.7" r="3.6"/><circle cx="780.8" cy="314.7" r="3.6"/><circle cx="781.4" cy="319.7" r="3.6"/><circle cx="784.8" cy="324.7" r="3.6"/><circle cx="787.3" cy="329.7" r="3.6"/><circle cx="791.4" cy="334.6" r="3.6"/><circle cx="794.5" cy="339.6" r="3.6"/><circle cx="798.5" cy="344.6" r="3.6"/><circle cx="801.4" cy="349.6" r="3.6"/><circle cx="804.9" cy="354.6" r="3.6"/><circle cx="808.0" cy="359.5" r="3.6"/><circle cx="811.7" cy="364.5" r="3.6"/><circle cx="814.5" cy="369.5" r="3.6"/><circle cx="815.3" cy="374.5" r="3.6"/><circle cx="817.9" cy="379.5" r="3.6"/><circle cx="819.7" cy="384.4" r="3.6"/><circle cx="822.1" cy="389.4" r="3.6"/><circle cx="822.4" cy="394.4" r="3.6"/><circle cx="825.0" cy="399.4" r="3.6"/><circle cx="825.1" cy="404.3" r="3.6"/><circle cx="826.4" cy="409.3" r="3.6"/><circle cx="829.8" cy="414.3" r="3.6"/><circle cx="832.1" cy="419.3" r="3.6"/><circle cx="832.0" cy="424.3" r="3.6"/><circle cx="833.9" cy="429.2" r="3.6"/><circle cx="833.6" cy="434.2" r="3.6"/><circle cx="833.9" cy="439.2" r="3.6"/><circle cx="834.4" cy="444.2" r="3.6"/><circle cx="838.4" cy="449.2" r="3.6"/><circle cx="838.0" cy="454.1" r="3.6"/><circle cx="840.0" cy="459.1" r="3.6"/><circle cx="840.5" cy="464.1" r="3.6"/><circle cx="841.7" cy="469.1" r="3.6"/><circle cx="843.1" cy="474.1" r="3.6"/><circle cx="842.6" cy="479.0" r="3.6"/><circle cx="845.0" cy="484.0" r="3.6"/><circle cx="845.7" cy="489.0" r="3.6"/><circle cx="847.8" cy="494.0" r="3.6"/><circle cx="848.2" cy="499.0" r="3.6"/><circle cx="849.7" cy="503.9" r="3.6"/><circle cx="848.1" cy="508.9" r="3.6"/><circle cx="850.2" cy="513.9" r="3.6"/><circle cx="852.8" cy="518.9" r="3.6"/><circle cx="852.8" cy="523.8" r="3.6"/><circle cx="853.2" cy="528.8" r="3.6"/><circle cx="852.7" cy="533.8" r="3.6"/><circle cx="853.2" cy="538.8" r="3.6"/><circle cx="855.5" cy="543.8" r="3.6"/><circle cx="856.1" cy="548.7" r="3.6"/><circle cx="855.6" cy="553.7" r="3.6"/><circle cx="855.7" cy="558.7" r="3.6"/><circle cx="856.3" cy="563.7" r="3.6"/><circle cx="856.8" cy="568.7" r="3.6"/><circle cx="857.7" cy="573.6" r="3.6"/><circle cx="856.5" cy="578.6" r="3.6"/><circle cx="856.7" cy="583.6" r="3.6"/><circle cx="857.1" cy="588.6" r="3.6"/><circle cx="859.0" cy="593.6" r="3.6"/><circle cx="859.5" cy="598.5" r="3.6"/><circle cx="860.0" cy="603.5" r="3.6"/><circle cx="859.7" cy="608.5" r="3.6"/><circle cx="860.5" cy="613.5" r="3.6"/><circle cx="861.4" cy="618.5" r="3.6"/><circle cx="862.6" cy="623.4" r="3.6"/><circle cx="864.7" cy="628.4" r="3.6"/><circle cx="863.6" cy="633.4" r="3.6"/><circle cx="863.1" cy="638.4" r="3.6"/><circle cx="863.5" cy="643.4" r="3.6"/><circle cx="866.6" cy="648.3" r="3.6"/><circle cx="867.4" cy="653.3" r="3.6"/><circle cx="867.6" cy="658.3" r="3.6"/><circle cx="867.0" cy="663.3" r="3.6"/><circle cx="868.8" cy="668.2" r="3.6"/><circle cx="868.4" cy="673.2" r="3.6"/><circle cx="869.4" cy="678.2" r="3.6"/><circle cx="870.0" cy="683.2" r="3.6"/><circle cx="867.4" cy="688.2" r="3.6"/><circle cx="867.6" cy="693.1" r="3.6"/><circle cx="868.1" cy="698.1" r="3.6"/><circle cx="868.7" cy="703.1" r="3.6"/><circle cx="868.2" cy="708.1" r="3.6"/><circle cx="866.8" cy="713.1" r="3.6"/><circle cx="868.1" cy="718.0" r="3.6"/><circle cx="867.9" cy="723.0" r="3.6"/><circle cx="868.3" cy="728.0" r="3.6"/><circle cx="867.5" cy="733.0" r="3.6"/><circle cx="867.2" cy="738.0" r="3.6"/><circle cx="867.3" cy="742.9" r="3.6"/><circle cx="868.3" cy="747.9" r="3.6"/><circle cx="869.6" cy="752.9" r="3.6"/><circle cx="870.0" cy="757.9" r="3.6"/><circle cx="869.3" cy="762.9" r="3.6"/><circle cx="869.3" cy="767.8" r="3.6"/><circle cx="869.7" cy="772.8" r="3.6"/><circle cx="870.8" cy="777.8" r="3.6"/><circle cx="873.2" cy="782.8" r="3.6"/><circle cx="873.4" cy="787.7" r="3.6"/><circle cx="872.6" cy="792.7" r="3.6"/><circle cx="873.3" cy="797.7" r="3.6"/><circle cx="874.0" cy="802.7" r="3.6"/><circle cx="876.1" cy="807.7" r="3.6"/><circle cx="876.5" cy="812.6" r="3.6"/><circle cx="673.0" cy="23.0" r="3.6"/><circle cx="673.2" cy="28.0" r="3.6"/><circle cx="673.2" cy="33.0" r="3.6"/><circle cx="673.0" cy="38.0" r="3.6"/><circle cx="672.7" cy="43.0" r="3.6"/><circle cx="673.1" cy="47.9" r="3.6"/><circle cx="673.2" cy="52.9" r="3.6"/><circle cx="672.1" cy="57.9" r="3.6"/><circle cx="673.1" cy="62.9" r="3.6"/><circle cx="673.4" cy="67.9" r="3.6"/><circle cx="678.0" cy="72.8" r="3.6"/><circle cx="681.5" cy="77.8" r="3.6"/><circle cx="676.8" cy="82.8" r="3.6"/><circle cx="673.2" cy="87.8" r="3.6"/><circle cx="671.8" cy="92.7" r="3.6"/><circle cx="668.6" cy="97.7" r="3.6"/><circle cx="667.1" cy="102.7" r="3.6"/><circle cx="659.6" cy="107.7" r="3.6"/><circle cx="655.4" cy="112.7" r="3.6"/><circle cx="650.2" cy="117.6" r="3.6"/><circle cx="657.6" cy="122.6" r="3.6"/><circle cx="665.2" cy="127.6" r="3.6"/><circle cx="672.9" cy="132.6" r="3.6"/><circle cx="678.5" cy="137.6" r="3.6"/><circle cx="677.5" cy="142.5" r="3.6"/><circle cx="678.8" cy="147.5" r="3.6"/><circle cx="679.4" cy="152.5" r="3.6"/><circle cx="677.7" cy="157.5" r="3.6"/><circle cx="679.8" cy="162.5" r="3.6"/><circle cx="678.5" cy="167.4" r="3.6"/><circle cx="677.9" cy="172.4" r="3.6"/><circle cx="681.2" cy="177.4" r="3.6"/><circle cx="682.1" cy="182.4" r="3.6"/><circle cx="684.1" cy="187.4" r="3.6"/><circle cx="692.6" cy="192.3" r="3.6"/><circle cx="690.8" cy="197.3" r="3.6"/><circle cx="689.2" cy="202.3" r="3.6"/><circle cx="692.1" cy="207.3" r="3.6"/><circle cx="694.5" cy="212.3" r="3.6"/><circle cx="700.8" cy="217.2" r="3.6"/><circle cx="710.2" cy="222.2" r="3.6"/><circle cx="709.8" cy="227.2" r="3.6"/><circle cx="714.4" cy="232.2" r="3.6"/><circle cx="712.8" cy="237.1" r="3.6"/><circle cx="714.4" cy="242.1" r="3.6"/><circle cx="718.6" cy="247.1" r="3.6"/><circle cx="723.8" cy="252.1" r="3.6"/><circle cx="727.0" cy="257.1" r="3.6"/><circle cx="730.6" cy="262.0" r="3.6"/><circle cx="731.5" cy="267.0" r="3.6"/><circle cx="735.6" cy="272.0" r="3.6"/><circle cx="743.6" cy="277.0" r="3.6"/><circle cx="752.1" cy="282.0" r="3.6"/><circle cx="754.4" cy="286.9" r="3.6"/><circle cx="761.7" cy="291.9" r="3.6"/><circle cx="766.5" cy="296.9" r="3.6"/><circle cx="767.2" cy="301.9" r="3.6"/><circle cx="773.1" cy="306.9" r="3.6"/><circle cx="776.6" cy="311.8" r="3.6"/><circle cx="776.9" cy="316.8" r="3.6"/><circle cx="782.4" cy="321.8" r="3.6"/><circle cx="784.3" cy="326.8" r="3.6"/><circle cx="785.1" cy="331.8" r="3.6"/><circle cx="790.6" cy="336.7" r="3.6"/><circle cx="791.5" cy="341.7" r="3.6"/><circle cx="797.7" cy="346.7" r="3.6"/><circle cx="800.4" cy="351.7" r="3.6"/><circle cx="802.4" cy="356.6" r="3.6"/><circle cx="805.5" cy="361.6" r="3.6"/><circle cx="806.6" cy="366.6" r="3.6"/><circle cx="810.9" cy="371.6" r="3.6"/><circle cx="813.8" cy="376.6" r="3.6"/><circle cx="817.3" cy="381.5" r="3.6"/><circle cx="819.7" cy="386.5" r="3.6"/><circle cx="819.7" cy="391.5" r="3.6"/><circle cx="822.0" cy="396.5" r="3.6"/><circle cx="822.2" cy="401.5" r="3.6"/><circle cx="822.1" cy="406.4" r="3.6"/><circle cx="827.0" cy="411.4" r="3.6"/><circle cx="828.4" cy="416.4" r="3.6"/><circle cx="828.0" cy="421.4" r="3.6"/><circle cx="829.4" cy="426.4" r="3.6"/><circle cx="828.6" cy="431.3" r="3.6"/><circle cx="828.7" cy="436.3" r="3.6"/><circle cx="831.5" cy="441.3" r="3.6"/><circle cx="833.2" cy="446.3" r="3.6"/><circle cx="834.6" cy="451.3" r="3.6"/><circle cx="834.9" cy="456.2" r="3.6"/><circle cx="834.7" cy="461.2" r="3.6"/><circle cx="837.0" cy="466.2" r="3.6"/><circle cx="839.7" cy="471.2" r="3.6"/><circle cx="842.1" cy="476.2" r="3.6"/><circle cx="841.1" cy="481.1" r="3.6"/><circle cx="840.3" cy="486.1" r="3.6"/><circle cx="840.7" cy="491.1" r="3.6"/><circle cx="842.0" cy="496.1" r="3.6"/><circle cx="843.2" cy="501.0" r="3.6"/><circle cx="842.4" cy="506.0" r="3.6"/><circle cx="844.0" cy="511.0" r="3.6"/><circle cx="844.4" cy="516.0" r="3.6"/><circle cx="844.1" cy="521.0" r="3.6"/><circle cx="843.6" cy="525.9" r="3.6"/><circle cx="846.5" cy="530.9" r="3.6"/><circle cx="847.5" cy="535.9" r="3.6"/><circle cx="848.8" cy="540.9" r="3.6"/><circle cx="851.0" cy="545.9" r="3.6"/><circle cx="849.8" cy="550.8" r="3.6"/><circle cx="850.7" cy="555.8" r="3.6"/><circle cx="852.2" cy="560.8" r="3.6"/><circle cx="853.6" cy="565.8" r="3.6"/><circle cx="853.1" cy="570.8" r="3.6"/><circle cx="852.0" cy="575.7" r="3.6"/><circle cx="851.7" cy="580.7" r="3.6"/><circle cx="850.9" cy="585.7" r="3.6"/><circle cx="851.9" cy="590.7" r="3.6"/><circle cx="853.1" cy="595.7" r="3.6"/><circle cx="853.3" cy="600.6" r="3.6"/><circle cx="854.4" cy="605.6" r="3.6"/><circle cx="854.2" cy="610.6" r="3.6"/><circle cx="855.7" cy="615.6" r="3.6"/><circle cx="857.5" cy="620.6" r="3.6"/><circle cx="859.1" cy="625.5" r="3.6"/><circle cx="860.2" cy="630.5" r="3.6"/><circle cx="860.0" cy="635.5" r="3.6"/><circle cx="860.3" cy="640.5" r="3.6"/><circle cx="858.9" cy="645.4" r="3.6"/><circle cx="860.2" cy="650.4" r="3.6"/><circle cx="859.4" cy="655.4" r="3.6"/><circle cx="860.6" cy="660.4" r="3.6"/><circle cx="862.1" cy="665.4" r="3.6"/><circle cx="860.4" cy="670.3" r="3.6"/><circle cx="858.7" cy="675.3" r="3.6"/><circle cx="859.1" cy="680.3" r="3.6"/><circle cx="859.4" cy="685.3" r="3.6"/><circle cx="860.9" cy="690.3" r="3.6"/><circle cx="862.2" cy="695.2" r="3.6"/><circle cx="862.2" cy="700.2" r="3.6"/><circle cx="862.8" cy="705.2" r="3.6"/><circle cx="863.5" cy="710.2" r="3.6"/><circle cx="863.1" cy="715.2" r="3.6"/><circle cx="864.1" cy="720.1" r="3.6"/><circle cx="864.8" cy="725.1" r="3.6"/><circle cx="864.6" cy="730.1" r="3.6"/><circle cx="864.1" cy="735.1" r="3.6"/><circle cx="862.7" cy="740.1" r="3.6"/><circle cx="862.4" cy="745.0" r="3.6"/><circle cx="863.1" cy="750.0" r="3.6"/><circle cx="864.8" cy="755.0" r="3.6"/><circle cx="865.0" cy="760.0" r="3.6"/><circle cx="864.8" cy="764.9" r="3.6"/><circle cx="864.3" cy="769.9" r="3.6"/><circle cx="864.4" cy="774.9" r="3.6"/><circle cx="867.5" cy="779.9" r="3.6"/><circle cx="869.7" cy="784.9" r="3.6"/><circle cx="868.9" cy="789.8" r="3.6"/><circle cx="869.1" cy="794.8" r="3.6"/><circle cx="869.8" cy="799.8" r="3.6"/><circle cx="869.5" cy="804.8" r="3.6"/><circle cx="869.9" cy="809.8" r="3.6"/><circle cx="871.5" cy="814.7" r="3.6"/><circle cx="673.4" cy="23.9" r="3.6"/><circle cx="674.6" cy="28.9" r="3.6"/><circle cx="674.3" cy="33.9" r="3.6"/><circle cx="674.5" cy="38.9" r="3.6"/><circle cx="674.5" cy="43.9" r="3.6"/><circle cx="673.7" cy="48.8" r="3.6"/><circle cx="673.7" cy="53.8" r="3.6"/><circle cx="674.2" cy="58.8" r="3.6"/><circle cx="673.0" cy="63.8" r="3.6"/><circle cx="669.6" cy="68.8" r="3.6"/><circle cx="665.8" cy="73.7" r="3.6"/><circle cx="664.0" cy="78.7" r="3.6"/><circle cx="663.1" cy="83.7" r="3.6"/><circle cx="664.5" cy="88.7" r="3.6"/><circle cx="670.3" cy="93.7" r="3.6"/><circle cx="672.1" cy="98.6" r="3.6"/><circle cx="665.1" cy="103.6" r="3.6"/><circle cx="663.6" cy="108.6" r="3.6"/><circle cx="657.6" cy="113.6" r="3.6"/><circle cx="655.5" cy="118.5" r="3.6"/><circle cx="656.9" cy="123.5" r="3.6"/><circle cx="663.4" cy="128.5" r="3.6"/><circle cx="665.4" cy="133.5" r="3.6"/><circle cx="665.9" cy="138.5" r="3.6"/><circle cx="668.2" cy="143.4" r="3.6"/><circle cx="672.6" cy="148.4" r="3.6"/><circle cx="673.7" cy="153.4" r="3.6"/><circle cx="673.8" cy="158.4" r="3.6"/><circle cx="674.3" cy="163.4" r="3.6"/><circle cx="663.7" cy="168.3" r="3.6"/><circle cx="663.1" cy="173.3" r="3.6"/><circle cx="668.0" cy="178.3" r="3.6"/><circle cx="678.6" cy="183.3" r="3.6"/><circle cx="679.1" cy="188.3" r="3.6"/><circle cx="683.9" cy="193.2" r="3.6"/><circle cx="677.7" cy="198.2" r="3.6"/><circle cx="686.2" cy="203.2" r="3.6"/><circle cx="689.8" cy="208.2" r="3.6"/><circle cx="694.7" cy="213.2" r="3.6"/><circle cx="696.6" cy="218.1" r="3.6"/><circle cx="699.2" cy="223.1" r="3.6"/><circle cx="699.9" cy="228.1" r="3.6"/><circle cx="703.1" cy="233.1" r="3.6"/><circle cx="706.7" cy="238.0" r="3.6"/><circle cx="714.6" cy="243.0" r="3.6"/><circle cx="718.5" cy="248.0" r="3.6"/><circle cx="717.9" cy="253.0" r="3.6"/><circle cx="721.7" cy="258.0" r="3.6"/><circle cx="726.8" cy="262.9" r="3.6"/><circle cx="727.2" cy="267.9" r="3.6"/><circle cx="736.6" cy="272.9" r="3.6"/><circle cx="742.6" cy="277.9" r="3.6"/><circle cx="748.1" cy="282.9" r="3.6"/><circle cx="747.5" cy="287.8" r="3.6"/><circle cx="755.1" cy="292.8" r="3.6"/><circle cx="756.5" cy="297.8" r="3.6"/><circle cx="762.2" cy="302.8" r="3.6"/><circle cx="766.0" cy="307.8" r="3.6"/><circle cx="774.2" cy="312.7" r="3.6"/><circle cx="774.5" cy="317.7" r="3.6"/><circle cx="777.6" cy="322.7" r="3.6"/><circle cx="780.1" cy="327.7" r="3.6"/><circle cx="782.6" cy="332.7" r="3.6"/><circle cx="786.5" cy="337.6" r="3.6"/><circle cx="790.0" cy="342.6" r="3.6"/><circle cx="794.3" cy="347.6" r="3.6"/><circle cx="795.9" cy="352.6" r="3.6"/><circle cx="800.8" cy="357.6" r="3.6"/><circle cx="803.9" cy="362.5" r="3.6"/><circle cx="805.9" cy="367.5" r="3.6"/><circle cx="807.0" cy="372.5" r="3.6"/><circle cx="808.0" cy="377.5" r="3.6"/><circle cx="811.2" cy="382.4" r="3.6"/><circle cx="812.9" cy="387.4" r="3.6"/><circle cx="816.5" cy="392.4" r="3.6"/><circle cx="817.6" cy="397.4" r="3.6"/><circle cx="819.6" cy="402.4" r="3.6"/><circle cx="820.0" cy="407.3" r="3.6"/><circle cx="823.3" cy="412.3" r="3.6"/><circle cx="824.8" cy="417.3" r="3.6"/><circle cx="827.8" cy="422.3" r="3.6"/><circle cx="828.1" cy="427.3" r="3.6"/><circle cx="830.1" cy="432.2" r="3.6"/><circle cx="829.4" cy="437.2" r="3.6"/><circle cx="832.7" cy="442.2" r="3.6"/><circle cx="831.0" cy="447.2" r="3.6"/><circle cx="834.5" cy="452.2" r="3.6"/><circle cx="833.0" cy="457.1" r="3.6"/><circle cx="833.5" cy="462.1" r="3.6"/><circle cx="834.2" cy="467.1" r="3.6"/><circle cx="835.1" cy="472.1" r="3.6"/><circle cx="834.2" cy="477.1" r="3.6"/><circle cx="835.6" cy="482.0" r="3.6"/><circle cx="836.7" cy="487.0" r="3.6"/><circle cx="838.4" cy="492.0" r="3.6"/><circle cx="837.7" cy="497.0" r="3.6"/><circle cx="839.3" cy="501.9" r="3.6"/><circle cx="840.5" cy="506.9" r="3.6"/><circle cx="842.2" cy="511.9" r="3.6"/><circle cx="844.3" cy="516.9" r="3.6"/><circle cx="844.2" cy="521.9" r="3.6"/><circle cx="844.5" cy="526.8" r="3.6"/><circle cx="844.7" cy="531.8" r="3.6"/><circle cx="844.9" cy="536.8" r="3.6"/><circle cx="848.5" cy="541.8" r="3.6"/><circle cx="849.2" cy="546.8" r="3.6"/><circle cx="848.0" cy="551.7" r="3.6"/><circle cx="846.9" cy="556.7" r="3.6"/><circle cx="846.6" cy="561.7" r="3.6"/><circle cx="846.8" cy="566.7" r="3.6"/><circle cx="847.8" cy="571.7" r="3.6"/><circle cx="847.9" cy="576.6" r="3.6"/><circle cx="849.5" cy="581.6" r="3.6"/><circle cx="849.1" cy="586.6" r="3.6"/><circle cx="849.2" cy="591.6" r="3.6"/><circle cx="851.6" cy="596.6" r="3.6"/><circle cx="851.5" cy="601.5" r="3.6"/><circle cx="853.7" cy="606.5" r="3.6"/><circle cx="854.1" cy="611.5" r="3.6"/><circle cx="853.4" cy="616.5" r="3.6"/><circle cx="854.3" cy="621.5" r="3.6"/><circle cx="857.0" cy="626.4" r="3.6"/><circle cx="858.7" cy="631.4" r="3.6"/><circle cx="859.8" cy="636.4" r="3.6"/><circle cx="857.6" cy="641.4" r="3.6"/><circle cx="858.1" cy="646.3" r="3.6"/><circle cx="858.4" cy="651.3" r="3.6"/><circle cx="857.4" cy="656.3" r="3.6"/><circle cx="860.2" cy="661.3" r="3.6"/><circle cx="859.2" cy="666.3" r="3.6"/><circle cx="857.5" cy="671.2" r="3.6"/><circle cx="857.2" cy="676.2" r="3.6"/><circle cx="857.4" cy="681.2" r="3.6"/><circle cx="857.2" cy="686.2" r="3.6"/><circle cx="859.9" cy="691.2" r="3.6"/><circle cx="859.4" cy="696.1" r="3.6"/><circle cx="858.8" cy="701.1" r="3.6"/><circle cx="858.4" cy="706.1" r="3.6"/><circle cx="860.1" cy="711.1" r="3.6"/><circle cx="860.0" cy="716.1" r="3.6"/><circle cx="862.7" cy="721.0" r="3.6"/><circle cx="862.5" cy="726.0" r="3.6"/><circle cx="862.1" cy="731.0" r="3.6"/><circle cx="861.5" cy="736.0" r="3.6"/><circle cx="862.2" cy="741.0" r="3.6"/><circle cx="863.7" cy="745.9" r="3.6"/><circle cx="864.9" cy="750.9" r="3.6"/><circle cx="864.3" cy="755.9" r="3.6"/><circle cx="862.7" cy="760.9" r="3.6"/><circle cx="862.4" cy="765.8" r="3.6"/><circle cx="861.8" cy="770.8" r="3.6"/><circle cx="863.5" cy="775.8" r="3.6"/><circle cx="862.3" cy="780.8" r="3.6"/><circle cx="863.8" cy="785.8" r="3.6"/><circle cx="864.0" cy="790.7" r="3.6"/><circle cx="863.7" cy="795.7" r="3.6"/><circle cx="864.9" cy="800.7" r="3.6"/><circle cx="865.0" cy="805.7" r="3.6"/><circle cx="868.1" cy="810.7" r="3.6"/><circle cx="868.5" cy="815.6" r="3.6"/><circle cx="674.6" cy="24.0" r="3.6"/><circle cx="674.6" cy="29.0" r="3.6"/><circle cx="673.0" cy="34.0" r="3.6"/><circle cx="673.8" cy="38.9" r="3.6"/><circle cx="672.7" cy="43.9" r="3.6"/><circle cx="673.7" cy="48.9" r="3.6"/><circle cx="673.7" cy="53.9" r="3.6"/><circle cx="673.4" cy="58.9" r="3.6"/><circle cx="672.8" cy="63.8" r="3.6"/><circle cx="669.2" cy="68.8" r="3.6"/><circle cx="665.7" cy="73.8" r="3.6"/><circle cx="665.3" cy="78.8" r="3.6"/><circle cx="669.1" cy="83.8" r="3.6"/><circle cx="668.5" cy="88.7" r="3.6"/><circle cx="667.1" cy="93.7" r="3.6"/><circle cx="659.8" cy="98.7" r="3.6"/><circle cx="651.1" cy="103.7" r="3.6"/><circle cx="647.7" cy="108.7" r="3.6"/><circle cx="650.0" cy="113.6" r="3.6"/><circle cx="651.1" cy="118.6" r="3.6"/><circle cx="655.1" cy="123.6" r="3.6"/><circle cx="659.2" cy="128.6" r="3.6"/><circle cx="658.0" cy="133.6" r="3.6"/><circle cx="657.9" cy="138.5" r="3.6"/><circle cx="661.5" cy="143.5" r="3.6"/><circle cx="663.2" cy="148.5" r="3.6"/><circle cx="666.4" cy="153.5" r="3.6"/><circle cx="661.3" cy="158.4" r="3.6"/><circle cx="657.7" cy="163.4" r="3.6"/><circle cx="654.5" cy="168.4" r="3.6"/><circle cx="660.7" cy="173.4" r="3.6"/><circle cx="665.2" cy="178.4" r="3.6"/><circle cx="673.2" cy="183.3" r="3.6"/><circle cx="675.9" cy="188.3" r="3.6"/><circle cx="676.1" cy="193.3" r="3.6"/><circle cx="672.8" cy="198.3" r="3.6"/><circle cx="673.4" cy="203.3" r="3.6"/><circle cx="677.0" cy="208.2" r="3.6"/><circle cx="680.4" cy="213.2" r="3.6"/><circle cx="681.8" cy="218.2" r="3.6"/><circle cx="692.3" cy="223.2" r="3.6"/><circle cx="693.3" cy="228.2" r="3.6"/><circle cx="698.3" cy="233.1" r="3.6"/><circle cx="704.2" cy="238.1" r="3.6"/><circle cx="708.6" cy="243.1" r="3.6"/><circle cx="717.0" cy="248.1" r="3.6"/><circle cx="721.9" cy="253.1" r="3.6"/><circle cx="729.2" cy="258.0" r="3.6"/><circle cx="732.1" cy="263.0" r="3.6"/><circle cx="737.7" cy="268.0" r="3.6"/><circle cx="746.6" cy="273.0" r="3.6"/><circle cx="756.2" cy="277.9" r="3.6"/><circle cx="756.7" cy="282.9" r="3.6"/><circle cx="761.5" cy="287.9" r="3.6"/><circle cx="766.9" cy="292.9" r="3.6"/><circle cx="766.3" cy="297.9" r="3.6"/><circle cx="771.0" cy="302.8" r="3.6"/><circle cx="775.0" cy="307.8" r="3.6"/><circle cx="777.6" cy="312.8" r="3.6"/><circle cx="779.4" cy="317.8" r="3.6"/><circle cx="781.9" cy="322.8" r="3.6"/><circle cx="784.9" cy="327.7" r="3.6"/><circle cx="788.8" cy="332.7" r="3.6"/><circle cx="792.0" cy="337.7" r="3.6"/><circle cx="793.1" cy="342.7" r="3.6"/><circle cx="797.9" cy="347.7" r="3.6"/><circle cx="800.0" cy="352.6" r="3.6"/><circle cx="802.6" cy="357.6" r="3.6"/><circle cx="803.6" cy="362.6" r="3.6"/><circle cx="805.9" cy="367.6" r="3.6"/><circle cx="806.6" cy="372.6" r="3.6"/><circle cx="810.3" cy="377.5" r="3.6"/><circle cx="812.8" cy="382.5" r="3.6"/><circle cx="815.0" cy="387.5" r="3.6"/><circle cx="816.6" cy="392.5" r="3.6"/><circle cx="816.7" cy="397.5" r="3.6"/><circle cx="817.8" cy="402.4" r="3.6"/><circle cx="821.3" cy="407.4" r="3.6"/><circle cx="823.1" cy="412.4" r="3.6"/><circle cx="824.7" cy="417.4" r="3.6"/><circle cx="825.6" cy="422.3" r="3.6"/><circle cx="824.6" cy="427.3" r="3.6"/><circle cx="825.9" cy="432.3" r="3.6"/><circle cx="827.3" cy="437.3" r="3.6"/><circle cx="828.7" cy="442.3" r="3.6"/><circle cx="832.0" cy="447.2" r="3.6"/><circle cx="830.1" cy="452.2" r="3.6"/><circle cx="831.6" cy="457.2" r="3.6"/><circle cx="832.1" cy="462.2" r="3.6"/><circle cx="832.3" cy="467.2" r="3.6"/><circle cx="834.6" cy="472.1" r="3.6"/><circle cx="834.9" cy="477.1" r="3.6"/><circle cx="835.2" cy="482.1" r="3.6"/><circle cx="835.4" cy="487.1" r="3.6"/><circle cx="837.2" cy="492.1" r="3.6"/><circle cx="836.3" cy="497.0" r="3.6"/><circle cx="837.7" cy="502.0" r="3.6"/><circle cx="839.2" cy="507.0" r="3.6"/><circle cx="840.0" cy="512.0" r="3.6"/><circle cx="839.3" cy="517.0" r="3.6"/><circle cx="840.1" cy="521.9" r="3.6"/><circle cx="840.2" cy="526.9" r="3.6"/><circle cx="839.0" cy="531.9" r="3.6"/><circle cx="841.7" cy="536.9" r="3.6"/><circle cx="842.7" cy="541.8" r="3.6"/><circle cx="843.7" cy="546.8" r="3.6"/><circle cx="843.4" cy="551.8" r="3.6"/><circle cx="842.8" cy="556.8" r="3.6"/><circle cx="842.8" cy="561.8" r="3.6"/><circle cx="844.9" cy="566.7" r="3.6"/><circle cx="846.1" cy="571.7" r="3.6"/><circle cx="847.3" cy="576.7" r="3.6"/><circle cx="847.2" cy="581.7" r="3.6"/><circle cx="848.4" cy="586.7" r="3.6"/><circle cx="848.4" cy="591.6" r="3.6"/><circle cx="849.4" cy="596.6" r="3.6"/><circle cx="849.8" cy="601.6" r="3.6"/><circle cx="852.1" cy="606.6" r="3.6"/><circle cx="853.1" cy="611.6" r="3.6"/><circle cx="851.6" cy="616.5" r="3.6"/><circle cx="851.8" cy="621.5" r="3.6"/><circle cx="852.8" cy="626.5" r="3.6"/><circle cx="852.6" cy="631.5" r="3.6"/><circle cx="854.7" cy="636.5" r="3.6"/><circle cx="855.8" cy="641.4" r="3.6"/><circle cx="854.8" cy="646.4" r="3.6"/><circle cx="855.8" cy="651.4" r="3.6"/><circle cx="855.1" cy="656.4" r="3.6"/><circle cx="856.3" cy="661.4" r="3.6"/><circle cx="856.1" cy="666.3" r="3.6"/><circle cx="856.4" cy="671.3" r="3.6"/><circle cx="856.7" cy="676.3" r="3.6"/><circle cx="856.4" cy="681.3" r="3.6"/><circle cx="854.0" cy="686.2" r="3.6"/><circle cx="854.6" cy="691.2" r="3.6"/><circle cx="855.6" cy="696.2" r="3.6"/><circle cx="856.3" cy="701.2" r="3.6"/><circle cx="856.5" cy="706.2" r="3.6"/><circle cx="855.3" cy="711.1" r="3.6"/><circle cx="855.4" cy="716.1" r="3.6"/><circle cx="855.3" cy="721.1" r="3.6"/><circle cx="855.4" cy="726.1" r="3.6"/><circle cx="856.4" cy="731.1" r="3.6"/><circle cx="858.6" cy="736.0" r="3.6"/><circle cx="859.2" cy="741.0" r="3.6"/><circle cx="857.6" cy="746.0" r="3.6"/><circle cx="857.0" cy="751.0" r="3.6"/><circle cx="857.8" cy="756.0" r="3.6"/><circle cx="859.5" cy="760.9" r="3.6"/><circle cx="859.5" cy="765.9" r="3.6"/><circle cx="860.8" cy="770.9" r="3.6"/><circle cx="861.1" cy="775.9" r="3.6"/><circle cx="862.6" cy="780.9" r="3.6"/><circle cx="861.6" cy="785.8" r="3.6"/><circle cx="862.5" cy="790.8" r="3.6"/><circle cx="864.8" cy="795.8" r="3.6"/><circle cx="865.6" cy="800.8" r="3.6"/><circle cx="865.7" cy="805.7" r="3.6"/><circle cx="864.7" cy="810.7" r="3.6"/><circle cx="865.4" cy="815.7" r="3.6"/></g>
<polyline points="669.4,21.3 669.4,31.3 669.3,41.2 669.2,51.2 669.0,61.1 668.8,71.1 679.0,81.0 677.0,91.0 674.0,101.0 663.0,110.9 661.0,120.9 668.0,130.8 674.0,140.8 679.0,150.8 677.0,160.7 675.0,170.7 687.0,180.6 692.0,190.6 695.0,200.5 697.0,210.5 701.0,220.5 704.7,230.4 713.4,240.4 722.5,250.3 730.0,260.3 737.7,270.3 750.9,280.2 758.7,290.2 766.8,300.1 774.3,310.1 779.6,320.0 785.0,330.0 792.7,340.0 799.3,349.9 805.4,359.9 810.0,369.8 813.7,379.8 817.7,389.8 821.4,399.7 823.9,409.7 827.4,419.6 829.5,429.6 831.2,439.5 832.9,449.5 834.6,459.5 836.3,469.4 837.8,479.4 839.3,489.3 840.9,499.3 842.4,509.3 843.9,519.2 845.1,529.2 846.4,539.1 847.7,549.1 849.0,559.1 850.2,569.0 851.4,579.0 852.6,588.9 853.7,598.9 854.9,608.8 856.0,618.8 856.9,628.8 857.7,638.7 858.6,648.7 859.5,658.6 860.3,668.6 860.6,678.6 860.9,688.5 861.2,698.5 861.5,708.4 861.9,718.4 862.5,728.3 863.1,738.3 863.7,748.3 864.3,758.2 865.0,768.2 865.8,778.1 866.6,788.1 867.5,798.1 868.3,808.0" fill="none" stroke="#0000ff" stroke-width="2.75" stroke-linejoin="round"/>
<g fill="#0000ff"><circle cx="669.4" cy="21.3" r="5.8"/><circle cx="669.4" cy="31.3" r="5.8"/><circle cx="669.3" cy="41.2" r="5.8"/><circle cx="669.2" cy="51.2" r="5.8"/><circle cx="669.0" cy="61.1" r="5.8"/><circle cx="668.8" cy="71.1" r="5.8"/><circle cx="679.0" cy="81.0" r="5.8"/><circle cx="677.0" cy="91.0" r="5.8"/><circle cx="674.0" cy="101.0" r="5.8"/><circle cx="663.0" cy="110.9" r="5.8"/><circle cx="661.0" cy="120.9" r="5.8"/><circle cx="668.0" cy="130.8" r="5.8"/><circle cx="674.0" cy="140.8" r="5.8"/><circle cx="679.0" cy="150.8" r="5.8"/><circle cx="677.0" cy="160.7" r="5.8"/><circle cx="675.0" cy="170.7" r="5.8"/><circle cx="687.0" cy="180.6" r="5.8"/><circle cx="692.0" cy="190.6" r="5.8"/><circle cx="695.0" cy="200.5" r="5.8"/><circle cx="697.0" cy="210.5" r="5.8"/><circle cx="701.0" cy="220.5" r="5.8"/><circle cx="704.7" cy="230.4" r="5.8"/><circle cx="713.4" cy="240.4" r="5.8"/><circle cx="722.5" cy="250.3" r="5.8"/><circle cx="730.0" cy="260.3" r="5.8"/><circle cx="737.7" cy="270.3" r="5.8"/><circle cx="750.9" cy="280.2" r="5.8"/><circle cx="758.7" cy="290.2" r="5.8"/><circle cx="766.8" cy="300.1" r="5.8"/><circle cx="774.3" cy="310.1" r="5.8"/><circle cx="779.6" cy="320.0" r="5.8"/><circle cx="785.0" cy="330.0" r="5.8"/><circle cx="792.7" cy="340.0" r="5.8"/><circle cx="799.3" cy="349.9" r="5.8"/><circle cx="805.4" cy="359.9" r="5.8"/><circle cx="810.0" cy="369.8" r="5.8"/><circle cx="813.7" cy="379.8" r="5.8"/><circle cx="817.7" cy="389.8" r="5.8"/><circle cx="821.4" cy="399.7" r="5.8"/><circle cx="823.9" cy="409.7" r="5.8"/><circle cx="827.4" cy="419.6" r="5.8"/><circle cx="829.5" cy="429.6" r="5.8"/><circle cx="831.2" cy="439.5" r="5.8"/><circle cx="832.9" cy="449.5" r="5.8"/><circle cx="834.6" cy="459.5" r="5.8"/><circle cx="836.3" cy="469.4" r="5.8"/><circle cx="837.8" cy="479.4" r="5.8"/><circle cx="839.3" cy="489.3" r="5.8"/><circle cx="840.9" cy="499.3" r="5.8"/><circle cx="842.4" cy="509.3" r="5.8"/><circle cx="843.9" cy="519.2" r="5.8"/><circle cx="845.1" cy="529.2" r="5.8"/><circle cx="846.4" cy="539.1" r="5.8"/><circle cx="847.7" cy="549.1" r="5.8"/><circle cx="849.0" cy="559.1" r="5.8"/><circle cx="850.2" cy="569.0" r="5.8"/><circle cx="851.4" cy="579.0" r="5.8"/><circle cx="852.6" cy="588.9" r="5.8"/><circle cx="853.7" cy="598.9" r="5.8"/><circle cx="854.9" cy="608.8" r="5.8"/><circle cx="856.0" cy="618.8" r="5.8"/><circle cx="856.9" cy="628.8" r="5.8"/><circle cx="857.7" cy="638.7" r="5.8"/><circle cx="858.6" cy="648.7" r="5.8"/><circle cx="859.5" cy="658.6" r="5.8"/><circle cx="860.3" cy="668.6" r="5.8"/><circle cx="860.6" cy="678.6" r="5.8"/><circle cx="860.9" cy="688.5" r="5.8"/><circle cx="861.2" cy="698.5" r="5.8"/><circle cx="861.5" cy="708.4" r="5.8"/><circle cx="861.9" cy="718.4" r="5.8"/><circle cx="862.5" cy="728.3" r="5.8"/><circle cx="863.1" cy="738.3" r="5.8"/><circle cx="863.7" cy="748.3" r="5.8"/><circle cx="864.3" cy="758.2" r="5.8"/><circle cx="865.0" cy="768.2" r="5.8"/><circle cx="865.8" cy="778.1" r="5.8"/><circle cx="866.6" cy="788.1" r="5.8"/><circle cx="867.5" cy="798.1" r="5.8"/><circle cx="868.3" cy="808.0" r="5.8"/></g>
<polyline points="690.5,19.3 690.6,23.3 690.7,27.3 690.8,31.3 690.9,35.2 691.0,39.2 691.2,43.2 691.5,49.2 692.8,59.1 693.0,69.1 686.7,79.1 684.1,89.0 680.9,99.0 679.0,108.9 677.7,118.9 677.0,138.8 677.0,158.7 679.0,178.6 680.2,198.6 684.7,218.5 718.2,268.3 768.7,318.1 823.0,417.6 839.3,517.2 851.5,616.8 858.0,716.4 863.5,816.0" fill="none" stroke="#ff0000" stroke-width="2.75" stroke-linejoin="round"/>
<polyline points="691.0,19.3 691.1,23.3 691.2,27.3 691.3,31.3 691.4,35.2 691.5,39.2 691.7,43.2 692.0,49.2 693.3,59.1 694.0,69.1 688.3,79.1 685.7,89.0 682.5,99.0 680.6,108.9 679.3,118.9 678.6,138.8 678.6,158.7 680.6,178.6 681.8,198.6 686.3,218.5 719.8,268.3 770.3,318.1 823.5,417.6 839.6,517.2 851.8,616.8 858.3,716.4 863.8,816.0" fill="none" stroke="#ff0000" stroke-width="2.75" stroke-linejoin="round"/>
<polyline points="691.5,19.3 691.6,23.3 691.7,27.3 691.8,31.3 691.9,35.2 692.0,39.2 692.2,43.2 692.5,49.2 693.8,59.1 695.1,69.1 690.0,79.1 687.4,89.0 684.2,99.0 682.3,108.9 681.0,118.9 680.3,138.8 680.3,158.7 682.3,178.6 683.5,198.6 688.0,218.5 721.5,268.3 772.0,318.1 824.0,417.6 839.8,517.2 852.0,616.8 858.5,716.4 864.0,816.0" fill="none" stroke="#ff0000" stroke-width="2.75" stroke-linejoin="round"/>
<g fill="#ff0000"><circle cx="691.5" cy="19.3" r="5.8"/><circle cx="691.6" cy="23.3" r="5.8"/><circle cx="691.7" cy="27.3" r="5.8"/><circle cx="691.8" cy="31.3" r="5.8"/><circle cx="691.9" cy="35.2" r="5.8"/><circle cx="692.0" cy="39.2" r="5.8"/><circle cx="692.2" cy="43.2" r="5.8"/><circle cx="692.5" cy="49.2" r="5.8"/><circle cx="693.8" cy="59.1" r="5.8"/><circle cx="695.1" cy="69.1" r="5.8"/><circle cx="690.0" cy="79.1" r="5.8"/><circle cx="687.4" cy="89.0" r="5.8"/><circle cx="684.2" cy="99.0" r="5.8"/><circle cx="682.3" cy="108.9" r="5.8"/><circle cx="681.0" cy="118.9" r="5.8"/><circle cx="680.3" cy="138.8" r="5.8"/><circle cx="680.3" cy="158.7" r="5.8"/><circle cx="682.3" cy="178.6" r="5.8"/><circle cx="683.5" cy="198.6" r="5.8"/><circle cx="688.0" cy="218.5" r="5.8"/><circle cx="721.5" cy="268.3" r="5.8"/><circle cx="772.0" cy="318.1" r="5.8"/><circle cx="824.0" cy="417.6" r="5.8"/><circle cx="839.8" cy="517.2" r="5.8"/><circle cx="852.0" cy="616.8" r="5.8"/><circle cx="858.5" cy="716.4" r="5.8"/><circle cx="864.0" cy="816.0" r="5.8"/></g>
<polyline points="692.0,19.3 692.1,23.3 692.2,27.3 692.3,31.3 692.4,35.2 692.5,39.2 692.7,43.2 693.0,49.2 694.3,59.1 696.2,69.1 691.7,79.1 689.1,89.0 685.9,99.0 684.0,108.9 682.7,118.9 682.0,138.8 682.0,158.7 684.0,178.6 685.2,198.6 689.7,218.5 723.2,268.3 773.7,318.1 824.5,417.6 840.0,517.2 852.2,616.8 858.7,716.4 864.2,816.0" fill="none" stroke="#ff0000" stroke-width="2.75" stroke-linejoin="round"/>
<polyline points="692.5,19.3 692.6,23.3 692.7,27.3 692.8,31.3 692.9,35.2 693.0,39.2 693.2,43.2 693.5,49.2 694.8,59.1 697.2,69.1 693.3,79.1 690.7,89.0 687.5,99.0 685.6,108.9 684.3,118.9 683.6,138.8 683.6,158.7 685.6,178.6 686.8,198.6 691.3,218.5 724.8,268.3 775.3,318.1 825.0,417.6 840.3,517.2 852.5,616.8 859.0,716.4 864.5,816.0" fill="none" stroke="#ff0000" stroke-width="2.75" stroke-linejoin="round"/>
<polyline points="661.0,19.3 661.0,23.3 661.0,27.3 661.2,31.3 661.4,35.2 661.8,39.2 661.8,43.2 662.4,49.2 665.4,59.1 675.8,69.1 677.1,79.1 676.1,89.0 674.6,99.0 672.6,108.9 670.4,118.9 669.4,138.8 672.6,158.7 677.5,178.6 685.5,198.6 696.3,218.5 724.3,268.3 762.3,318.1 819.6,417.6 838.7,517.2 851.0,616.8 860.5,716.4 869.0,816.0" fill="none" stroke="#008000" stroke-width="2.75" stroke-linejoin="round"/>
<g fill="#008000"><circle cx="661.0" cy="19.3" r="5.8"/><circle cx="661.0" cy="23.3" r="5.8"/><circle cx="661.0" cy="27.3" r="5.8"/><circle cx="661.2" cy="31.3" r="5.8"/><circle cx="661.4" cy="35.2" r="5.8"/><circle cx="661.8" cy="39.2" r="5.8"/><circle cx="661.8" cy="43.2" r="5.8"/><circle cx="662.4" cy="49.2" r="5.8"/><circle cx="665.4" cy="59.1" r="5.8"/><circle cx="675.8" cy="69.1" r="5.8"/><circle cx="677.1" cy="79.1" r="5.8"/><circle cx="676.1" cy="89.0" r="5.8"/><circle cx="674.6" cy="99.0" r="5.8"/><circle cx="672.6" cy="108.9" r="5.8"/><circle cx="670.4" cy="118.9" r="5.8"/><circle cx="669.4" cy="138.8" r="5.8"/><circle cx="672.6" cy="158.7" r="5.8"/><circle cx="677.5" cy="178.6" r="5.8"/><circle cx="685.5" cy="198.6" r="5.8"/><circle cx="696.3" cy="218.5" r="5.8"/><circle cx="724.3" cy="268.3" r="5.8"/><circle cx="762.3" cy="318.1" r="5.8"/><circle cx="819.6" cy="417.6" r="5.8"/><circle cx="838.7" cy="517.2" r="5.8"/><circle cx="851.0" cy="616.8" r="5.8"/><circle cx="860.5" cy="716.4" r="5.8"/><circle cx="869.0" cy="816.0" r="5.8"/></g>
<polyline points="659.8,20.3 659.8,22.4 659.8,24.6 659.8,26.9 659.8,29.4 659.8,32.1 659.8,35.1 659.9,38.4 660.0,42.0 660.2,46.1 660.5,50.8 661.0,56.1 661.7,62.3 660.4,69.5 659.4,77.9 656.6,87.8 652.4,99.6 645.2,113.7 636.6,130.4 631.5,150.4 634.4,174.5 653.3,203.1 685.1,237.8 725.2,279.6 766.9,329.8 806.4,390.0 827.4,462.5 834.2,549.1 841.4,652.9 852.2,776.5 867.9,923.3" fill="none" stroke="#ff00ff" stroke-width="2.75" stroke-linejoin="round"/>
<g fill="#ff00ff"><circle cx="659.8" cy="20.3" r="5.8"/><circle cx="659.8" cy="22.4" r="5.8"/><circle cx="659.8" cy="24.6" r="5.8"/><circle cx="659.8" cy="26.9" r="5.8"/><circle cx="659.8" cy="29.4" r="5.8"/><circle cx="659.8" cy="32.1" r="5.8"/><circle cx="659.8" cy="35.1" r="5.8"/><circle cx="659.9" cy="38.4" r="5.8"/><circle cx="660.0" cy="42.0" r="5.8"/><circle cx="660.2" cy="46.1" r="5.8"/><circle cx="660.5" cy="50.8" r="5.8"/><circle cx="661.0" cy="56.1" r="5.8"/><circle cx="661.7" cy="62.3" r="5.8"/><circle cx="660.4" cy="69.5" r="5.8"/><circle cx="659.4" cy="77.9" r="5.8"/><circle cx="656.6" cy="87.8" r="5.8"/><circle cx="652.4" cy="99.6" r="5.8"/><circle cx="645.2" cy="113.7" r="5.8"/><circle cx="636.6" cy="130.4" r="5.8"/><circle cx="631.5" cy="150.4" r="5.8"/><circle cx="634.4" cy="174.5" r="5.8"/><circle cx="653.3" cy="203.1" r="5.8"/><circle cx="685.1" cy="237.8" r="5.8"/><circle cx="725.2" cy="279.6" r="5.8"/><circle cx="766.9" cy="329.8" r="5.8"/><circle cx="806.4" cy="390.0" r="5.8"/><circle cx="827.4" cy="462.5" r="5.8"/><circle cx="834.2" cy="549.1" r="5.8"/><circle cx="841.4" cy="652.9" r="5.8"/><circle cx="852.2" cy="776.5" r="5.8"/><circle cx="867.9" cy="923.3" r="5.8"/></g>
</g>
<g stroke="#000" stroke-width="1.47" fill="none">
<rect x="581.5" y="19.5" width="399.0" height="795.0"/>
<line x1="634.5" y1="814.5" x2="634.5" y2="821.1"/>
<line x1="734.5" y1="814.5" x2="734.5" y2="821.1"/>
<line x1="835.5" y1="814.5" x2="835.5" y2="821.1"/>
<line x1="935.5" y1="814.5" x2="935.5" y2="821.1"/>
<line x1="574.9" y1="19.5" x2="581.5" y2="19.5"/>
<line x1="574.9" y1="69.5" x2="581.5" y2="69.5"/>
<line x1="574.9" y1="118.5" x2="581.5" y2="118.5"/>
<line x1="574.9" y1="168.5" x2="581.5" y2="168.5"/>
<line x1="574.9" y1="218.5" x2="581.5" y2="218.5"/>
<line x1="574.9" y1="268.5" x2="581.5" y2="268.5"/>
<line x1="574.9" y1="318.5" x2="581.5" y2="318.5"/>
<line x1="574.9" y1="367.5" x2="581.5" y2="367.5"/>
<line x1="574.9" y1="417.5" x2="581.5" y2="417.5"/>
<line x1="574.9" y1="467.5" x2="581.5" y2="467.5"/>
<line x1="574.9" y1="517.5" x2="581.5" y2="517.5"/>
<line x1="574.9" y1="567.5" x2="581.5" y2="567.5"/>
<line x1="574.9" y1="616.5" x2="581.5" y2="616.5"/>
<line x1="574.9" y1="666.5" x2="581.5" y2="666.5"/>
<line x1="574.9" y1="716.5" x2="581.5" y2="716.5"/>
<line x1="574.9" y1="766.5" x2="581.5" y2="766.5"/>
</g>
<clipPath id="c2"><rect x="1073.5" y="19.5" width="400.0" height="795.0"/></clipPath>
<g stroke="#b0b0b0" stroke-width="1" stroke-dasharray="3.2 1.4" fill="none">
<line x1="1121.5" y1="814.5" x2="1121.5" y2="19.5"/>
<line x1="1203.5" y1="814.5" x2="1203.5" y2="19.5"/>
<line x1="1285.5" y1="814.5" x2="1285.5" y2="19.5"/>
<line x1="1368.5" y1="814.5" x2="1368.5" y2="19.5"/>
<line x1="1450.5" y1="814.5" x2="1450.5" y2="19.5"/>
<line x1="1073.5" y1="19.5" x2="1473.5" y2="19.5"/>
<line x1="1073.5" y1="69.5" x2="1473.5" y2="69.5"/>
<line x1="1073.5" y1="118.5" x2="1473.5" y2="118.5"/>
<line x1="1073.5" y1="168.5" x2="1473.5" y2="168.5"/>
<line x1="1073.5" y1="218.5" x2="1473.5" y2="218.5"/>
<line x1="1073.5" y1="268.5" x2="1473.5" y2="268.5"/>
<line x1="1073.5" y1="318.5" x2="1473.5" y2="318.5"/>
<line x1="1073.5" y1="367.5" x2="1473.5" y2="367.5"/>
<line x1="1073.5" y1="417.5" x2="1473.5" y2="417.5"/>
<line x1="1073.5" y1="467.5" x2="1473.5" y2="467.5"/>
<line x1="1073.5" y1="517.5" x2="1473.5" y2="517.5"/>
<line x1="1073.5" y1="567.5" x2="1473.5" y2="567.5"/>
<line x1="1073.5" y1="616.5" x2="1473.5" y2="616.5"/>
<line x1="1073.5" y1="666.5" x2="1473.5" y2="666.5"/>
<line x1="1073.5" y1="716.5" x2="1473.5" y2="716.5"/>
<line x1="1073.5" y1="766.5" x2="1473.5" y2="766.5"/>
</g>
<g clip-path="url(#c2)">
<g fill="#00ffff"><circle cx="1092.8" cy="23.7" r="3.6"/><circle cx="1093.1" cy="28.7" r="3.6"/><circle cx="1093.5" cy="33.7" r="3.6"/><circle cx="1093.7" cy="38.7" r="3.6"/><circle cx="1094.3" cy="43.6" r="3.6"/><circle cx="1095.8" cy="48.6" r="3.6"/><circle cx="1097.2" cy="53.6" r="3.6"/><circle cx="1098.4" cy="58.6" r="3.6"/><circle cx="1099.1" cy="63.6" r="3.6"/><circle cx="1101.1" cy="68.5" r="3.6"/><circle cx="1103.4" cy="73.5" r="3.6"/><circle cx="1105.2" cy="78.5" r="3.6"/><circle cx="1108.8" cy="83.5" r="3.6"/><circle cx="1110.9" cy="88.4" r="3.6"/><circle cx="1115.3" cy="93.4" r="3.6"/><circle cx="1119.9" cy="98.4" r="3.6"/><circle cx="1125.7" cy="103.4" r="3.6"/><circle cx="1131.7" cy="108.4" r="3.6"/><circle cx="1137.6" cy="113.3" r="3.6"/><circle cx="1143.2" cy="118.3" r="3.6"/><circle cx="1148.4" cy="123.3" r="3.6"/><circle cx="1152.6" cy="128.3" r="3.6"/><circle cx="1155.2" cy="133.3" r="3.6"/><circle cx="1157.8" cy="138.2" r="3.6"/><circle cx="1160.2" cy="143.2" r="3.6"/><circle cx="1163.2" cy="148.2" r="3.6"/><circle cx="1165.1" cy="153.2" r="3.6"/><circle cx="1168.2" cy="158.2" r="3.6"/><circle cx="1171.5" cy="163.1" r="3.6"/><circle cx="1174.0" cy="168.1" r="3.6"/><circle cx="1175.6" cy="173.1" r="3.6"/><circle cx="1178.3" cy="178.1" r="3.6"/><circle cx="1180.4" cy="183.1" r="3.6"/><circle cx="1183.1" cy="188.0" r="3.6"/><circle cx="1183.7" cy="193.0" r="3.6"/><circle cx="1185.9" cy="198.0" r="3.6"/><circle cx="1187.4" cy="203.0" r="3.6"/><circle cx="1189.5" cy="208.0" r="3.6"/><circle cx="1191.6" cy="212.9" r="3.6"/><circle cx="1193.9" cy="217.9" r="3.6"/><circle cx="1195.9" cy="222.9" r="3.6"/><circle cx="1198.6" cy="227.9" r="3.6"/><circle cx="1200.5" cy="232.8" r="3.6"/><circle cx="1202.9" cy="237.8" r="3.6"/><circle cx="1204.7" cy="242.8" r="3.6"/><circle cx="1208.1" cy="247.8" r="3.6"/><circle cx="1210.3" cy="252.8" r="3.6"/><circle cx="1213.2" cy="257.7" r="3.6"/><circle cx="1215.3" cy="262.7" r="3.6"/><circle cx="1217.6" cy="267.7" r="3.6"/><circle cx="1219.9" cy="272.7" r="3.6"/><circle cx="1222.3" cy="277.7" r="3.6"/><circle cx="1223.4" cy="282.6" r="3.6"/><circle cx="1224.8" cy="287.6" r="3.6"/><circle cx="1226.6" cy="292.6" r="3.6"/><circle cx="1227.7" cy="297.6" r="3.6"/><circle cx="1229.4" cy="302.6" r="3.6"/><circle cx="1230.6" cy="307.5" r="3.6"/><circle cx="1232.2" cy="312.5" r="3.6"/><circle cx="1234.4" cy="317.5" r="3.6"/><circle cx="1236.2" cy="322.5" r="3.6"/><circle cx="1236.7" cy="327.5" r="3.6"/><circle cx="1238.3" cy="332.4" r="3.6"/><circle cx="1239.9" cy="337.4" r="3.6"/><circle cx="1240.7" cy="342.4" r="3.6"/><circle cx="1241.6" cy="347.4" r="3.6"/><circle cx="1242.8" cy="352.4" r="3.6"/><circle cx="1243.9" cy="357.3" r="3.6"/><circle cx="1244.7" cy="362.3" r="3.6"/><circle cx="1246.0" cy="367.3" r="3.6"/><circle cx="1247.5" cy="372.3" r="3.6"/><circle cx="1248.6" cy="377.2" r="3.6"/><circle cx="1249.6" cy="382.2" r="3.6"/><circle cx="1250.1" cy="387.2" r="3.6"/><circle cx="1251.7" cy="392.2" r="3.6"/><circle cx="1252.5" cy="397.2" r="3.6"/><circle cx="1253.4" cy="402.1" r="3.6"/><circle cx="1255.2" cy="407.1" r="3.6"/><circle cx="1256.5" cy="412.1" r="3.6"/><circle cx="1257.1" cy="417.1" r="3.6"/><circle cx="1259.3" cy="422.1" r="3.6"/><circle cx="1259.4" cy="427.0" r="3.6"/><circle cx="1260.0" cy="432.0" r="3.6"/><circle cx="1260.6" cy="437.0" r="3.6"/><circle cx="1261.8" cy="442.0" r="3.6"/><circle cx="1262.4" cy="447.0" r="3.6"/><circle cx="1262.2" cy="451.9" r="3.6"/><circle cx="1264.0" cy="456.9" r="3.6"/><circle cx="1263.9" cy="461.9" r="3.6"/><circle cx="1265.1" cy="466.9" r="3.6"/><circle cx="1266.6" cy="471.9" r="3.6"/><circle cx="1266.9" cy="476.8" r="3.6"/><circle cx="1268.0" cy="481.8" r="3.6"/><circle cx="1268.7" cy="486.8" r="3.6"/><circle cx="1269.4" cy="491.8" r="3.6"/><circle cx="1270.4" cy="496.7" r="3.6"/><circle cx="1270.5" cy="501.7" r="3.6"/><circle cx="1271.4" cy="506.7" r="3.6"/><circle cx="1272.4" cy="511.7" r="3.6"/><circle cx="1272.8" cy="516.7" r="3.6"/><circle cx="1273.9" cy="521.6" r="3.6"/><circle cx="1275.1" cy="526.6" r="3.6"/><circle cx="1274.8" cy="531.6" r="3.6"/><circle cx="1276.3" cy="536.6" r="3.6"/><circle cx="1276.8" cy="541.6" r="3.6"/><circle cx="1277.6" cy="546.5" r="3.6"/><circle cx="1277.6" cy="551.5" r="3.6"/><circle cx="1279.4" cy="556.5" r="3.6"/><circle cx="1280.1" cy="561.5" r="3.6"/><circle cx="1281.2" cy="566.5" r="3.6"/><circle cx="1281.8" cy="571.4" r="3.6"/><circle cx="1283.1" cy="576.4" r="3.6"/><circle cx="1282.9" cy="581.4" r="3.6"/><circle cx="1283.6" cy="586.4" r="3.6"/><circle cx="1284.2" cy="591.4" r="3.6"/><circle cx="1284.7" cy="596.3" r="3.6"/><circle cx="1285.5" cy="601.3" r="3.6"/><circle cx="1286.7" cy="606.3" r="3.6"/><circle cx="1287.2" cy="611.3" r="3.6"/><circle cx="1288.1" cy="616.3" r="3.6"/><circle cx="1289.3" cy="621.2" r="3.6"/><circle cx="1289.4" cy="626.2" r="3.6"/><circle cx="1290.3" cy="631.2" r="3.6"/><circle cx="1291.5" cy="636.2" r="3.6"/><circle cx="1292.2" cy="641.1" r="3.6"/><circle cx="1292.4" cy="646.1" r="3.6"/><circle cx="1293.4" cy="651.1" r="3.6"/><circle cx="1293.8" cy="656.1" r="3.6"/><circle cx="1294.5" cy="661.1" r="3.6"/><circle cx="1294.9" cy="666.0" r="3.6"/><circle cx="1295.9" cy="671.0" r="3.6"/><circle cx="1296.4" cy="676.0" r="3.6"/><circle cx="1297.1" cy="681.0" r="3.6"/><circle cx="1297.9" cy="686.0" r="3.6"/><circle cx="1298.1" cy="690.9" r="3.6"/><circle cx="1298.8" cy="695.9" r="3.6"/><circle cx="1299.6" cy="700.9" r="3.6"/><circle cx="1300.6" cy="705.9" r="3.6"/><circle cx="1300.8" cy="710.9" r="3.6"/><circle cx="1302.1" cy="715.8" r="3.6"/><circle cx="1302.5" cy="720.8" r="3.6"/><circle cx="1303.3" cy="725.8" r="3.6"/><circle cx="1304.0" cy="730.8" r="3.6"/><circle cx="1304.9" cy="735.8" r="3.6"/><circle cx="1305.3" cy="740.7" r="3.6"/><circle cx="1305.7" cy="745.7" r="3.6"/><circle cx="1306.7" cy="750.7" r="3.6"/><circle cx="1307.6" cy="755.7" r="3.6"/><circle cx="1307.7" cy="760.6" r="3.6"/><circle cx="1307.8" cy="765.6" r="3.6"/><circle cx="1310.0" cy="770.6" r="3.6"/><circle cx="1309.7" cy="775.6" r="3.6"/><circle cx="1310.8" cy="780.6" r="3.6"/><circle cx="1311.4" cy="785.5" r="3.6"/><circle cx="1312.3" cy="790.5" r="3.6"/><circle cx="1312.7" cy="795.5" r="3.6"/><circle cx="1313.3" cy="800.5" r="3.6"/><circle cx="1314.6" cy="805.5" r="3.6"/><circle cx="1314.8" cy="810.4" r="3.6"/><circle cx="1315.1" cy="815.4" r="3.6"/><circle cx="1091.5" cy="20.1" r="3.6"/><circle cx="1091.5" cy="25.1" r="3.6"/><circle cx="1091.2" cy="30.1" r="3.6"/><circle cx="1091.8" cy="35.1" r="3.6"/><circle cx="1093.1" cy="40.1" r="3.6"/><circle cx="1093.4" cy="45.0" r="3.6"/><circle cx="1094.6" cy="50.0" r="3.6"/><circle cx="1095.8" cy="55.0" r="3.6"/><circle cx="1096.5" cy="60.0" r="3.6"/><circle cx="1098.0" cy="65.0" r="3.6"/><circle cx="1099.3" cy="69.9" r="3.6"/><circle cx="1102.2" cy="74.9" r="3.6"/><circle cx="1104.2" cy="79.9" r="3.6"/><circle cx="1106.7" cy="84.9" r="3.6"/><circle cx="1108.7" cy="89.9" r="3.6"/><circle cx="1111.5" cy="94.8" r="3.6"/><circle cx="1116.4" cy="99.8" r="3.6"/><circle cx="1122.1" cy="104.8" r="3.6"/><circle cx="1128.0" cy="109.8" r="3.6"/><circle cx="1134.4" cy="114.8" r="3.6"/><circle cx="1140.9" cy="119.7" r="3.6"/><circle cx="1145.6" cy="124.7" r="3.6"/><circle cx="1149.8" cy="129.7" r="3.6"/><circle cx="1153.3" cy="134.7" r="3.6"/><circle cx="1156.8" cy="139.6" r="3.6"/><circle cx="1159.2" cy="144.6" r="3.6"/><circle cx="1161.6" cy="149.6" r="3.6"/><circle cx="1164.8" cy="154.6" r="3.6"/><circle cx="1167.5" cy="159.6" r="3.6"/><circle cx="1170.8" cy="164.5" r="3.6"/><circle cx="1172.8" cy="169.5" r="3.6"/><circle cx="1174.6" cy="174.5" r="3.6"/><circle cx="1176.0" cy="179.5" r="3.6"/><circle cx="1178.5" cy="184.5" r="3.6"/><circle cx="1180.3" cy="189.4" r="3.6"/><circle cx="1181.9" cy="194.4" r="3.6"/><circle cx="1183.9" cy="199.4" r="3.6"/><circle cx="1184.7" cy="204.4" r="3.6"/><circle cx="1186.9" cy="209.4" r="3.6"/><circle cx="1188.2" cy="214.3" r="3.6"/><circle cx="1190.3" cy="219.3" r="3.6"/><circle cx="1192.5" cy="224.3" r="3.6"/><circle cx="1194.2" cy="229.3" r="3.6"/><circle cx="1195.6" cy="234.3" r="3.6"/><circle cx="1198.3" cy="239.2" r="3.6"/><circle cx="1200.8" cy="244.2" r="3.6"/><circle cx="1203.2" cy="249.2" r="3.6"/><circle cx="1205.0" cy="254.2" r="3.6"/><circle cx="1207.4" cy="259.1" r="3.6"/><circle cx="1209.1" cy="264.1" r="3.6"/><circle cx="1212.2" cy="269.1" r="3.6"/><circle cx="1214.6" cy="274.1" r="3.6"/><circle cx="1217.2" cy="279.1" r="3.6"/><circle cx="1218.3" cy="284.0" r="3.6"/><circle cx="1220.1" cy="289.0" r="3.6"/><circle cx="1222.2" cy="294.0" r="3.6"/><circle cx="1224.4" cy="299.0" r="3.6"/><circle cx="1226.3" cy="304.0" r="3.6"/><circle cx="1228.8" cy="308.9" r="3.6"/><circle cx="1230.3" cy="313.9" r="3.6"/><circle cx="1231.3" cy="318.9" r="3.6"/><circle cx="1233.4" cy="323.9" r="3.6"/><circle cx="1235.7" cy="328.9" r="3.6"/><circle cx="1236.8" cy="333.8" r="3.6"/><circle cx="1238.3" cy="338.8" r="3.6"/><circle cx="1238.7" cy="343.8" r="3.6"/><circle cx="1240.7" cy="348.8" r="3.6"/><circle cx="1241.7" cy="353.8" r="3.6"/><circle cx="1243.0" cy="358.7" r="3.6"/><circle cx="1243.7" cy="363.7" r="3.6"/><circle cx="1245.1" cy="368.7" r="3.6"/><circle cx="1246.7" cy="373.7" r="3.6"/><circle cx="1246.9" cy="378.7" r="3.6"/><circle cx="1247.9" cy="383.6" r="3.6"/><circle cx="1249.1" cy="388.6" r="3.6"/><circle cx="1251.0" cy="393.6" r="3.6"/><circle cx="1251.7" cy="398.6" r="3.6"/><circle cx="1252.7" cy="403.5" r="3.6"/><circle cx="1254.1" cy="408.5" r="3.6"/><circle cx="1255.3" cy="413.5" r="3.6"/><circle cx="1256.0" cy="418.5" r="3.6"/><circle cx="1257.3" cy="423.5" r="3.6"/><circle cx="1258.6" cy="428.4" r="3.6"/><circle cx="1258.3" cy="433.4" r="3.6"/><circle cx="1259.3" cy="438.4" r="3.6"/><circle cx="1260.2" cy="443.4" r="3.6"/><circle cx="1260.4" cy="448.4" r="3.6"/><circle cx="1262.0" cy="453.3" r="3.6"/><circle cx="1262.8" cy="458.3" r="3.6"/><circle cx="1263.8" cy="463.3" r="3.6"/><circle cx="1264.5" cy="468.3" r="3.6"/><circle cx="1265.0" cy="473.3" r="3.6"/><circle cx="1265.9" cy="478.2" r="3.6"/><circle cx="1266.6" cy="483.2" r="3.6"/><circle cx="1266.7" cy="488.2" r="3.6"/><circle cx="1267.6" cy="493.2" r="3.6"/><circle cx="1268.1" cy="498.2" r="3.6"/><circle cx="1269.3" cy="503.1" r="3.6"/><circle cx="1269.9" cy="508.1" r="3.6"/><circle cx="1270.8" cy="513.1" r="3.6"/><circle cx="1271.3" cy="518.1" r="3.6"/><circle cx="1272.0" cy="523.1" r="3.6"/><circle cx="1273.2" cy="528.0" r="3.6"/><circle cx="1274.3" cy="533.0" r="3.6"/><circle cx="1274.8" cy="538.0" r="3.6"/><circle cx="1275.6" cy="543.0" r="3.6"/><circle cx="1276.3" cy="547.9" r="3.6"/><circle cx="1277.0" cy="552.9" r="3.6"/><circle cx="1277.7" cy="557.9" r="3.6"/><circle cx="1278.9" cy="562.9" r="3.6"/><circle cx="1279.1" cy="567.9" r="3.6"/><circle cx="1279.9" cy="572.8" r="3.6"/><circle cx="1280.9" cy="577.8" r="3.6"/><circle cx="1281.1" cy="582.8" r="3.6"/><circle cx="1283.0" cy="587.8" r="3.6"/><circle cx="1283.5" cy="592.8" r="3.6"/><circle cx="1283.7" cy="597.7" r="3.6"/><circle cx="1284.7" cy="602.7" r="3.6"/><circle cx="1285.3" cy="607.7" r="3.6"/><circle cx="1286.5" cy="612.7" r="3.6"/><circle cx="1287.4" cy="617.7" r="3.6"/><circle cx="1288.5" cy="622.6" r="3.6"/><circle cx="1288.3" cy="627.6" r="3.6"/><circle cx="1289.2" cy="632.6" r="3.6"/><circle cx="1290.3" cy="637.6" r="3.6"/><circle cx="1290.7" cy="642.6" r="3.6"/><circle cx="1291.7" cy="647.5" r="3.6"/><circle cx="1292.2" cy="652.5" r="3.6"/><circle cx="1292.7" cy="657.5" r="3.6"/><circle cx="1293.0" cy="662.5" r="3.6"/><circle cx="1293.1" cy="667.4" r="3.6"/><circle cx="1294.6" cy="672.4" r="3.6"/><circle cx="1295.5" cy="677.4" r="3.6"/><circle cx="1296.0" cy="682.4" r="3.6"/><circle cx="1296.9" cy="687.4" r="3.6"/><circle cx="1297.0" cy="692.3" r="3.6"/><circle cx="1298.3" cy="697.3" r="3.6"/><circle cx="1298.4" cy="702.3" r="3.6"/><circle cx="1298.9" cy="707.3" r="3.6"/><circle cx="1300.0" cy="712.3" r="3.6"/><circle cx="1300.6" cy="717.2" r="3.6"/><circle cx="1301.3" cy="722.2" r="3.6"/><circle cx="1301.5" cy="727.2" r="3.6"/><circle cx="1302.3" cy="732.2" r="3.6"/><circle cx="1303.6" cy="737.2" r="3.6"/><circle cx="1303.7" cy="742.1" r="3.6"/><circle cx="1305.2" cy="747.1" r="3.6"/><circle cx="1305.2" cy="752.1" r="3.6"/><circle cx="1305.8" cy="757.1" r="3.6"/><circle cx="1306.5" cy="762.1" r="3.6"/><circle cx="1307.6" cy="767.0" r="3.6"/><circle cx="1308.0" cy="772.0" r="3.6"/><circle cx="1308.6" cy="777.0" r="3.6"/><circle cx="1309.2" cy="782.0" r="3.6"/><circle cx="1308.9" cy="787.0" r="3.6"/><circle cx="1311.1" cy="791.9" r="3.6"/><circle cx="1311.7" cy="796.9" r="3.6"/><circle cx="1312.7" cy="801.9" r="3.6"/><circle cx="1312.7" cy="806.9" r="3.6"/><circle cx="1313.6" cy="811.8" r="3.6"/><circle cx="1092.8" cy="23.5" r="3.6"/><circle cx="1093.2" cy="28.4" r="3.6"/><circle cx="1093.8" cy="33.4" r="3.6"/><circle cx="1093.7" cy="38.4" r="3.6"/><circle cx="1094.8" cy="43.4" r="3.6"/><circle cx="1096.2" cy="48.4" r="3.6"/><circle cx="1097.3" cy="53.3" r="3.6"/><circle cx="1097.6" cy="58.3" r="3.6"/><circle cx="1099.3" cy="63.3" r="3.6"/><circle cx="1101.2" cy="68.3" r="3.6"/><circle cx="1103.7" cy="73.3" r="3.6"/><circle cx="1106.1" cy="78.2" r="3.6"/><circle cx="1109.3" cy="83.2" r="3.6"/><circle cx="1112.4" cy="88.2" r="3.6"/><circle cx="1118.6" cy="93.2" r="3.6"/><circle cx="1124.6" cy="98.2" r="3.6"/><circle cx="1130.7" cy="103.1" r="3.6"/><circle cx="1136.2" cy="108.1" r="3.6"/><circle cx="1141.8" cy="113.1" r="3.6"/><circle cx="1146.2" cy="118.1" r="3.6"/><circle cx="1150.5" cy="123.0" r="3.6"/><circle cx="1154.4" cy="128.0" r="3.6"/><circle cx="1156.7" cy="133.0" r="3.6"/><circle cx="1159.0" cy="138.0" r="3.6"/><circle cx="1161.9" cy="143.0" r="3.6"/><circle cx="1164.0" cy="147.9" r="3.6"/><circle cx="1167.9" cy="152.9" r="3.6"/><circle cx="1171.2" cy="157.9" r="3.6"/><circle cx="1172.1" cy="162.9" r="3.6"/><circle cx="1174.8" cy="167.9" r="3.6"/><circle cx="1177.5" cy="172.8" r="3.6"/><circle cx="1179.9" cy="177.8" r="3.6"/><circle cx="1180.7" cy="182.8" r="3.6"/><circle cx="1183.0" cy="187.8" r="3.6"/><circle cx="1185.0" cy="192.8" r="3.6"/><circle cx="1186.1" cy="197.7" r="3.6"/><circle cx="1188.8" cy="202.7" r="3.6"/><circle cx="1191.2" cy="207.7" r="3.6"/><circle cx="1193.9" cy="212.7" r="3.6"/><circle cx="1195.1" cy="217.7" r="3.6"/><circle cx="1197.3" cy="222.6" r="3.6"/><circle cx="1200.0" cy="227.6" r="3.6"/><circle cx="1202.4" cy="232.6" r="3.6"/><circle cx="1205.2" cy="237.6" r="3.6"/><circle cx="1206.8" cy="242.6" r="3.6"/><circle cx="1209.6" cy="247.5" r="3.6"/><circle cx="1211.8" cy="252.5" r="3.6"/><circle cx="1214.5" cy="257.5" r="3.6"/><circle cx="1216.3" cy="262.5" r="3.6"/><circle cx="1217.8" cy="267.4" r="3.6"/><circle cx="1219.3" cy="272.4" r="3.6"/><circle cx="1221.1" cy="277.4" r="3.6"/><circle cx="1222.4" cy="282.4" r="3.6"/><circle cx="1223.9" cy="287.4" r="3.6"/><circle cx="1225.5" cy="292.3" r="3.6"/><circle cx="1226.5" cy="297.3" r="3.6"/><circle cx="1228.6" cy="302.3" r="3.6"/><circle cx="1230.2" cy="307.3" r="3.6"/><circle cx="1231.5" cy="312.3" r="3.6"/><circle cx="1233.1" cy="317.2" r="3.6"/><circle cx="1234.6" cy="322.2" r="3.6"/><circle cx="1235.1" cy="327.2" r="3.6"/><circle cx="1236.4" cy="332.2" r="3.6"/><circle cx="1238.1" cy="337.2" r="3.6"/><circle cx="1239.2" cy="342.1" r="3.6"/><circle cx="1240.0" cy="347.1" r="3.6"/><circle cx="1241.8" cy="352.1" r="3.6"/><circle cx="1243.2" cy="357.1" r="3.6"/><circle cx="1244.7" cy="362.1" r="3.6"/><circle cx="1246.1" cy="367.0" r="3.6"/><circle cx="1246.5" cy="372.0" r="3.6"/><circle cx="1247.7" cy="377.0" r="3.6"/><circle cx="1248.9" cy="382.0" r="3.6"/><circle cx="1250.2" cy="386.9" r="3.6"/><circle cx="1251.4" cy="391.9" r="3.6"/><circle cx="1251.9" cy="396.9" r="3.6"/><circle cx="1253.2" cy="401.9" r="3.6"/><circle cx="1254.6" cy="406.9" r="3.6"/><circle cx="1255.6" cy="411.8" r="3.6"/><circle cx="1256.3" cy="416.8" r="3.6"/><circle cx="1257.0" cy="421.8" r="3.6"/><circle cx="1257.8" cy="426.8" r="3.6"/><circle cx="1258.8" cy="431.8" r="3.6"/><circle cx="1259.4" cy="436.7" r="3.6"/><circle cx="1260.0" cy="441.7" r="3.6"/><circle cx="1261.0" cy="446.7" r="3.6"/><circle cx="1261.6" cy="451.7" r="3.6"/><circle cx="1262.3" cy="456.7" r="3.6"/><circle cx="1263.6" cy="461.6" r="3.6"/><circle cx="1263.7" cy="466.6" r="3.6"/><circle cx="1264.3" cy="471.6" r="3.6"/><circle cx="1265.2" cy="476.6" r="3.6"/><circle cx="1266.6" cy="481.6" r="3.6"/><circle cx="1267.8" cy="486.5" r="3.6"/><circle cx="1267.6" cy="491.5" r="3.6"/><circle cx="1268.7" cy="496.5" r="3.6"/><circle cx="1269.4" cy="501.5" r="3.6"/><circle cx="1270.7" cy="506.5" r="3.6"/><circle cx="1271.3" cy="511.4" r="3.6"/><circle cx="1272.3" cy="516.4" r="3.6"/><circle cx="1272.3" cy="521.4" r="3.6"/><circle cx="1273.2" cy="526.4" r="3.6"/><circle cx="1274.4" cy="531.3" r="3.6"/><circle cx="1274.8" cy="536.3" r="3.6"/><circle cx="1275.2" cy="541.3" r="3.6"/><circle cx="1275.7" cy="546.3" r="3.6"/><circle cx="1277.1" cy="551.3" r="3.6"/><circle cx="1277.5" cy="556.2" r="3.6"/><circle cx="1278.8" cy="561.2" r="3.6"/><circle cx="1278.9" cy="566.2" r="3.6"/><circle cx="1279.4" cy="571.2" r="3.6"/><circle cx="1280.7" cy="576.2" r="3.6"/><circle cx="1281.5" cy="581.1" r="3.6"/><circle cx="1282.4" cy="586.1" r="3.6"/><circle cx="1282.7" cy="591.1" r="3.6"/><circle cx="1283.8" cy="596.1" r="3.6"/><circle cx="1285.3" cy="601.1" r="3.6"/><circle cx="1285.8" cy="606.0" r="3.6"/><circle cx="1286.4" cy="611.0" r="3.6"/><circle cx="1287.3" cy="616.0" r="3.6"/><circle cx="1287.9" cy="621.0" r="3.6"/><circle cx="1288.5" cy="626.0" r="3.6"/><circle cx="1289.3" cy="630.9" r="3.6"/><circle cx="1289.7" cy="635.9" r="3.6"/><circle cx="1290.9" cy="640.9" r="3.6"/><circle cx="1291.6" cy="645.9" r="3.6"/><circle cx="1291.8" cy="650.8" r="3.6"/><circle cx="1292.7" cy="655.8" r="3.6"/><circle cx="1293.2" cy="660.8" r="3.6"/><circle cx="1294.5" cy="665.8" r="3.6"/><circle cx="1294.1" cy="670.8" r="3.6"/><circle cx="1294.9" cy="675.7" r="3.6"/><circle cx="1296.0" cy="680.7" r="3.6"/><circle cx="1296.9" cy="685.7" r="3.6"/><circle cx="1297.2" cy="690.7" r="3.6"/><circle cx="1297.4" cy="695.7" r="3.6"/><circle cx="1298.3" cy="700.6" r="3.6"/><circle cx="1299.0" cy="705.6" r="3.6"/><circle cx="1299.5" cy="710.6" r="3.6"/><circle cx="1300.4" cy="715.6" r="3.6"/><circle cx="1301.0" cy="720.6" r="3.6"/><circle cx="1301.7" cy="725.5" r="3.6"/><circle cx="1302.5" cy="730.5" r="3.6"/><circle cx="1303.3" cy="735.5" r="3.6"/><circle cx="1304.2" cy="740.5" r="3.6"/><circle cx="1304.6" cy="745.5" r="3.6"/><circle cx="1305.2" cy="750.4" r="3.6"/><circle cx="1306.1" cy="755.4" r="3.6"/><circle cx="1307.0" cy="760.4" r="3.6"/><circle cx="1307.5" cy="765.4" r="3.6"/><circle cx="1308.8" cy="770.4" r="3.6"/><circle cx="1308.6" cy="775.3" r="3.6"/><circle cx="1309.5" cy="780.3" r="3.6"/><circle cx="1310.6" cy="785.3" r="3.6"/><circle cx="1311.4" cy="790.3" r="3.6"/><circle cx="1311.6" cy="795.2" r="3.6"/><circle cx="1312.2" cy="800.2" r="3.6"/><circle cx="1312.5" cy="805.2" r="3.6"/><circle cx="1313.1" cy="810.2" r="3.6"/><circle cx="1313.9" cy="815.2" r="3.6"/><circle cx="1094.3" cy="23.5" r="3.6"/><circle cx="1094.4" cy="28.5" r="3.6"/><circle cx="1094.8" cy="33.5" r="3.6"/><circle cx="1096.2" cy="38.5" r="3.6"/><circle cx="1096.7" cy="43.4" r="3.6"/><circle cx="1098.2" cy="48.4" r="3.6"/><circle cx="1099.1" cy="53.4" r="3.6"/><circle cx="1099.8" cy="58.4" r="3.6"/><circle cx="1101.7" cy="63.4" r="3.6"/><circle cx="1103.4" cy="68.3" r="3.6"/><circle cx="1106.2" cy="73.3" r="3.6"/><circle cx="1108.5" cy="78.3" r="3.6"/><circle cx="1111.9" cy="83.3" r="3.6"/><circle cx="1116.9" cy="88.3" r="3.6"/><circle cx="1124.5" cy="93.2" r="3.6"/><circle cx="1132.4" cy="98.2" r="3.6"/><circle cx="1138.6" cy="103.2" r="3.6"/><circle cx="1142.9" cy="108.2" r="3.6"/><circle cx="1148.2" cy="113.2" r="3.6"/><circle cx="1152.7" cy="118.1" r="3.6"/><circle cx="1156.7" cy="123.1" r="3.6"/><circle cx="1158.6" cy="128.1" r="3.6"/><circle cx="1161.9" cy="133.1" r="3.6"/><circle cx="1163.7" cy="138.0" r="3.6"/><circle cx="1166.9" cy="143.0" r="3.6"/><circle cx="1169.6" cy="148.0" r="3.6"/><circle cx="1171.9" cy="153.0" r="3.6"/><circle cx="1174.9" cy="158.0" r="3.6"/><circle cx="1176.1" cy="162.9" r="3.6"/><circle cx="1177.8" cy="167.9" r="3.6"/><circle cx="1180.0" cy="172.9" r="3.6"/><circle cx="1181.5" cy="177.9" r="3.6"/><circle cx="1182.9" cy="182.9" r="3.6"/><circle cx="1184.8" cy="187.8" r="3.6"/><circle cx="1186.5" cy="192.8" r="3.6"/><circle cx="1187.9" cy="197.8" r="3.6"/><circle cx="1189.5" cy="202.8" r="3.6"/><circle cx="1191.1" cy="207.8" r="3.6"/><circle cx="1193.3" cy="212.7" r="3.6"/><circle cx="1194.7" cy="217.7" r="3.6"/><circle cx="1197.8" cy="222.7" r="3.6"/><circle cx="1199.3" cy="227.7" r="3.6"/><circle cx="1201.4" cy="232.7" r="3.6"/><circle cx="1204.3" cy="237.6" r="3.6"/><circle cx="1206.7" cy="242.6" r="3.6"/><circle cx="1209.1" cy="247.6" r="3.6"/><circle cx="1211.4" cy="252.6" r="3.6"/><circle cx="1213.9" cy="257.5" r="3.6"/><circle cx="1216.0" cy="262.5" r="3.6"/><circle cx="1218.0" cy="267.5" r="3.6"/><circle cx="1220.4" cy="272.5" r="3.6"/><circle cx="1222.2" cy="277.5" r="3.6"/><circle cx="1223.8" cy="282.4" r="3.6"/><circle cx="1226.1" cy="287.4" r="3.6"/><circle cx="1227.7" cy="292.4" r="3.6"/><circle cx="1229.2" cy="297.4" r="3.6"/><circle cx="1231.0" cy="302.4" r="3.6"/><circle cx="1232.8" cy="307.3" r="3.6"/><circle cx="1234.3" cy="312.3" r="3.6"/><circle cx="1235.5" cy="317.3" r="3.6"/><circle cx="1236.4" cy="322.3" r="3.6"/><circle cx="1238.0" cy="327.3" r="3.6"/><circle cx="1238.4" cy="332.2" r="3.6"/><circle cx="1240.2" cy="337.2" r="3.6"/><circle cx="1240.9" cy="342.2" r="3.6"/><circle cx="1241.7" cy="347.2" r="3.6"/><circle cx="1243.1" cy="352.2" r="3.6"/><circle cx="1244.3" cy="357.1" r="3.6"/><circle cx="1245.2" cy="362.1" r="3.6"/><circle cx="1246.5" cy="367.1" r="3.6"/><circle cx="1248.0" cy="372.1" r="3.6"/><circle cx="1249.0" cy="377.1" r="3.6"/><circle cx="1249.9" cy="382.0" r="3.6"/><circle cx="1251.0" cy="387.0" r="3.6"/><circle cx="1252.4" cy="392.0" r="3.6"/><circle cx="1253.1" cy="397.0" r="3.6"/><circle cx="1253.7" cy="401.9" r="3.6"/><circle cx="1255.1" cy="406.9" r="3.6"/><circle cx="1255.9" cy="411.9" r="3.6"/><circle cx="1256.9" cy="416.9" r="3.6"/><circle cx="1258.1" cy="421.9" r="3.6"/><circle cx="1258.8" cy="426.8" r="3.6"/><circle cx="1259.8" cy="431.8" r="3.6"/><circle cx="1261.0" cy="436.8" r="3.6"/><circle cx="1261.1" cy="441.8" r="3.6"/><circle cx="1261.7" cy="446.8" r="3.6"/><circle cx="1263.1" cy="451.7" r="3.6"/><circle cx="1263.7" cy="456.7" r="3.6"/><circle cx="1264.5" cy="461.7" r="3.6"/><circle cx="1264.6" cy="466.7" r="3.6"/><circle cx="1266.4" cy="471.7" r="3.6"/><circle cx="1266.9" cy="476.6" r="3.6"/><circle cx="1267.4" cy="481.6" r="3.6"/><circle cx="1267.9" cy="486.6" r="3.6"/><circle cx="1268.7" cy="491.6" r="3.6"/><circle cx="1269.6" cy="496.6" r="3.6"/><circle cx="1269.7" cy="501.5" r="3.6"/><circle cx="1271.4" cy="506.5" r="3.6"/><circle cx="1271.4" cy="511.5" r="3.6"/><circle cx="1272.6" cy="516.5" r="3.6"/><circle cx="1273.2" cy="521.4" r="3.6"/><circle cx="1273.7" cy="526.4" r="3.6"/><circle cx="1275.1" cy="531.4" r="3.6"/><circle cx="1275.6" cy="536.4" r="3.6"/><circle cx="1276.4" cy="541.4" r="3.6"/><circle cx="1277.2" cy="546.3" r="3.6"/><circle cx="1277.6" cy="551.3" r="3.6"/><circle cx="1279.2" cy="556.3" r="3.6"/><circle cx="1279.2" cy="561.3" r="3.6"/><circle cx="1280.1" cy="566.3" r="3.6"/><circle cx="1280.9" cy="571.2" r="3.6"/><circle cx="1282.0" cy="576.2" r="3.6"/><circle cx="1283.6" cy="581.2" r="3.6"/><circle cx="1283.7" cy="586.2" r="3.6"/><circle cx="1284.3" cy="591.2" r="3.6"/><circle cx="1284.8" cy="596.1" r="3.6"/><circle cx="1286.3" cy="601.1" r="3.6"/><circle cx="1286.5" cy="606.1" r="3.6"/><circle cx="1287.5" cy="611.1" r="3.6"/><circle cx="1288.2" cy="616.1" r="3.6"/><circle cx="1288.8" cy="621.0" r="3.6"/><circle cx="1290.0" cy="626.0" r="3.6"/><circle cx="1290.5" cy="631.0" r="3.6"/><circle cx="1290.7" cy="636.0" r="3.6"/><circle cx="1291.5" cy="641.0" r="3.6"/><circle cx="1292.7" cy="645.9" r="3.6"/><circle cx="1292.7" cy="650.9" r="3.6"/><circle cx="1293.7" cy="655.9" r="3.6"/><circle cx="1293.8" cy="660.9" r="3.6"/><circle cx="1295.0" cy="665.8" r="3.6"/><circle cx="1295.5" cy="670.8" r="3.6"/><circle cx="1296.3" cy="675.8" r="3.6"/><circle cx="1296.9" cy="680.8" r="3.6"/><circle cx="1297.4" cy="685.8" r="3.6"/><circle cx="1297.4" cy="690.7" r="3.6"/><circle cx="1297.6" cy="695.7" r="3.6"/><circle cx="1298.9" cy="700.7" r="3.6"/><circle cx="1300.0" cy="705.7" r="3.6"/><circle cx="1300.3" cy="710.7" r="3.6"/><circle cx="1301.1" cy="715.6" r="3.6"/><circle cx="1302.3" cy="720.6" r="3.6"/><circle cx="1302.8" cy="725.6" r="3.6"/><circle cx="1302.9" cy="730.6" r="3.6"/><circle cx="1304.2" cy="735.6" r="3.6"/><circle cx="1304.5" cy="740.5" r="3.6"/><circle cx="1305.4" cy="745.5" r="3.6"/><circle cx="1305.7" cy="750.5" r="3.6"/><circle cx="1306.7" cy="755.5" r="3.6"/><circle cx="1307.7" cy="760.5" r="3.6"/><circle cx="1309.1" cy="765.4" r="3.6"/><circle cx="1308.9" cy="770.4" r="3.6"/><circle cx="1310.2" cy="775.4" r="3.6"/><circle cx="1309.8" cy="780.4" r="3.6"/><circle cx="1311.0" cy="785.3" r="3.6"/><circle cx="1312.3" cy="790.3" r="3.6"/><circle cx="1312.8" cy="795.3" r="3.6"/><circle cx="1313.3" cy="800.3" r="3.6"/><circle cx="1314.0" cy="805.3" r="3.6"/><circle cx="1314.6" cy="810.2" r="3.6"/><circle cx="1315.2" cy="815.2" r="3.6"/><circle cx="1094.5" cy="23.2" r="3.6"/><circle cx="1095.7" cy="28.2" r="3.6"/><circle cx="1095.3" cy="33.2" r="3.6"/><circle cx="1096.1" cy="38.1" r="3.6"/><circle cx="1096.6" cy="43.1" r="3.6"/><circle cx="1097.8" cy="48.1" r="3.6"/><circle cx="1098.0" cy="53.1" r="3.6"/><circle cx="1099.0" cy="58.1" r="3.6"/><circle cx="1100.0" cy="63.0" r="3.6"/><circle cx="1101.2" cy="68.0" r="3.6"/><circle cx="1103.3" cy="73.0" r="3.6"/><circle cx="1105.7" cy="78.0" r="3.6"/><circle cx="1107.6" cy="82.9" r="3.6"/><circle cx="1110.1" cy="87.9" r="3.6"/><circle cx="1112.0" cy="92.9" r="3.6"/><circle cx="1113.2" cy="97.9" r="3.6"/><circle cx="1118.1" cy="102.9" r="3.6"/><circle cx="1122.8" cy="107.8" r="3.6"/><circle cx="1129.1" cy="112.8" r="3.6"/><circle cx="1135.3" cy="117.8" r="3.6"/><circle cx="1140.0" cy="122.8" r="3.6"/><circle cx="1144.7" cy="127.8" r="3.6"/><circle cx="1149.9" cy="132.7" r="3.6"/><circle cx="1153.2" cy="137.7" r="3.6"/><circle cx="1156.6" cy="142.7" r="3.6"/><circle cx="1159.3" cy="147.7" r="3.6"/><circle cx="1162.8" cy="152.7" r="3.6"/><circle cx="1164.9" cy="157.6" r="3.6"/><circle cx="1169.0" cy="162.6" r="3.6"/><circle cx="1171.4" cy="167.6" r="3.6"/><circle cx="1174.0" cy="172.6" r="3.6"/><circle cx="1175.2" cy="177.6" r="3.6"/><circle cx="1178.8" cy="182.5" r="3.6"/><circle cx="1180.1" cy="187.5" r="3.6"/><circle cx="1181.9" cy="192.5" r="3.6"/><circle cx="1184.4" cy="197.5" r="3.6"/><circle cx="1186.1" cy="202.5" r="3.6"/><circle cx="1187.9" cy="207.4" r="3.6"/><circle cx="1188.3" cy="212.4" r="3.6"/><circle cx="1191.8" cy="217.4" r="3.6"/><circle cx="1194.4" cy="222.4" r="3.6"/><circle cx="1196.3" cy="227.3" r="3.6"/><circle cx="1198.7" cy="232.3" r="3.6"/><circle cx="1199.8" cy="237.3" r="3.6"/><circle cx="1202.5" cy="242.3" r="3.6"/><circle cx="1203.9" cy="247.3" r="3.6"/><circle cx="1206.9" cy="252.2" r="3.6"/><circle cx="1209.0" cy="257.2" r="3.6"/><circle cx="1211.5" cy="262.2" r="3.6"/><circle cx="1215.0" cy="267.2" r="3.6"/><circle cx="1215.5" cy="272.2" r="3.6"/><circle cx="1218.0" cy="277.1" r="3.6"/><circle cx="1219.7" cy="282.1" r="3.6"/><circle cx="1221.6" cy="287.1" r="3.6"/><circle cx="1223.2" cy="292.1" r="3.6"/><circle cx="1224.9" cy="297.1" r="3.6"/><circle cx="1226.1" cy="302.0" r="3.6"/><circle cx="1228.1" cy="307.0" r="3.6"/><circle cx="1229.4" cy="312.0" r="3.6"/><circle cx="1231.5" cy="317.0" r="3.6"/><circle cx="1233.6" cy="322.0" r="3.6"/><circle cx="1234.6" cy="326.9" r="3.6"/><circle cx="1235.9" cy="331.9" r="3.6"/><circle cx="1236.8" cy="336.9" r="3.6"/><circle cx="1237.9" cy="341.9" r="3.6"/><circle cx="1239.1" cy="346.8" r="3.6"/><circle cx="1240.7" cy="351.8" r="3.6"/><circle cx="1242.0" cy="356.8" r="3.6"/><circle cx="1243.1" cy="361.8" r="3.6"/><circle cx="1244.1" cy="366.8" r="3.6"/><circle cx="1245.4" cy="371.7" r="3.6"/><circle cx="1246.3" cy="376.7" r="3.6"/><circle cx="1247.2" cy="381.7" r="3.6"/><circle cx="1248.3" cy="386.7" r="3.6"/><circle cx="1249.1" cy="391.7" r="3.6"/><circle cx="1250.9" cy="396.6" r="3.6"/><circle cx="1252.2" cy="401.6" r="3.6"/><circle cx="1253.4" cy="406.6" r="3.6"/><circle cx="1253.4" cy="411.6" r="3.6"/><circle cx="1255.5" cy="416.6" r="3.6"/><circle cx="1256.3" cy="421.5" r="3.6"/><circle cx="1256.5" cy="426.5" r="3.6"/><circle cx="1257.9" cy="431.5" r="3.6"/><circle cx="1259.3" cy="436.5" r="3.6"/><circle cx="1259.9" cy="441.5" r="3.6"/><circle cx="1260.7" cy="446.4" r="3.6"/><circle cx="1260.8" cy="451.4" r="3.6"/><circle cx="1262.3" cy="456.4" r="3.6"/><circle cx="1263.2" cy="461.4" r="3.6"/><circle cx="1263.5" cy="466.4" r="3.6"/><circle cx="1265.1" cy="471.3" r="3.6"/><circle cx="1265.1" cy="476.3" r="3.6"/><circle cx="1266.2" cy="481.3" r="3.6"/><circle cx="1267.6" cy="486.3" r="3.6"/><circle cx="1268.0" cy="491.2" r="3.6"/><circle cx="1268.9" cy="496.2" r="3.6"/><circle cx="1269.6" cy="501.2" r="3.6"/><circle cx="1269.6" cy="506.2" r="3.6"/><circle cx="1270.1" cy="511.2" r="3.6"/><circle cx="1271.9" cy="516.1" r="3.6"/><circle cx="1272.2" cy="521.1" r="3.6"/><circle cx="1272.9" cy="526.1" r="3.6"/><circle cx="1273.5" cy="531.1" r="3.6"/><circle cx="1273.9" cy="536.1" r="3.6"/><circle cx="1275.2" cy="541.0" r="3.6"/><circle cx="1275.5" cy="546.0" r="3.6"/><circle cx="1276.4" cy="551.0" r="3.6"/><circle cx="1277.2" cy="556.0" r="3.6"/><circle cx="1278.7" cy="561.0" r="3.6"/><circle cx="1279.1" cy="565.9" r="3.6"/><circle cx="1279.3" cy="570.9" r="3.6"/><circle cx="1279.8" cy="575.9" r="3.6"/><circle cx="1281.3" cy="580.9" r="3.6"/><circle cx="1281.9" cy="585.9" r="3.6"/><circle cx="1282.9" cy="590.8" r="3.6"/><circle cx="1283.8" cy="595.8" r="3.6"/><circle cx="1284.4" cy="600.8" r="3.6"/><circle cx="1285.3" cy="605.8" r="3.6"/><circle cx="1286.2" cy="610.7" r="3.6"/><circle cx="1286.6" cy="615.7" r="3.6"/><circle cx="1287.6" cy="620.7" r="3.6"/><circle cx="1288.1" cy="625.7" r="3.6"/><circle cx="1288.9" cy="630.7" r="3.6"/><circle cx="1289.5" cy="635.6" r="3.6"/><circle cx="1290.6" cy="640.6" r="3.6"/><circle cx="1290.6" cy="645.6" r="3.6"/><circle cx="1292.0" cy="650.6" r="3.6"/><circle cx="1292.1" cy="655.6" r="3.6"/><circle cx="1292.7" cy="660.5" r="3.6"/><circle cx="1293.7" cy="665.5" r="3.6"/><circle cx="1294.2" cy="670.5" r="3.6"/><circle cx="1294.9" cy="675.5" r="3.6"/><circle cx="1295.5" cy="680.5" r="3.6"/><circle cx="1296.8" cy="685.4" r="3.6"/><circle cx="1296.7" cy="690.4" r="3.6"/><circle cx="1297.5" cy="695.4" r="3.6"/><circle cx="1298.1" cy="700.4" r="3.6"/><circle cx="1298.8" cy="705.4" r="3.6"/><circle cx="1299.8" cy="710.3" r="3.6"/><circle cx="1300.0" cy="715.3" r="3.6"/><circle cx="1301.2" cy="720.3" r="3.6"/><circle cx="1301.7" cy="725.3" r="3.6"/><circle cx="1302.5" cy="730.3" r="3.6"/><circle cx="1303.3" cy="735.2" r="3.6"/><circle cx="1303.4" cy="740.2" r="3.6"/><circle cx="1304.1" cy="745.2" r="3.6"/><circle cx="1305.1" cy="750.2" r="3.6"/><circle cx="1306.2" cy="755.1" r="3.6"/><circle cx="1306.7" cy="760.1" r="3.6"/><circle cx="1307.7" cy="765.1" r="3.6"/><circle cx="1307.6" cy="770.1" r="3.6"/><circle cx="1309.2" cy="775.1" r="3.6"/><circle cx="1309.7" cy="780.0" r="3.6"/><circle cx="1310.3" cy="785.0" r="3.6"/><circle cx="1311.2" cy="790.0" r="3.6"/><circle cx="1311.3" cy="795.0" r="3.6"/><circle cx="1311.3" cy="800.0" r="3.6"/><circle cx="1313.0" cy="804.9" r="3.6"/><circle cx="1313.5" cy="809.9" r="3.6"/><circle cx="1314.0" cy="814.9" r="3.6"/><circle cx="1097.3" cy="24.0" r="3.6"/><circle cx="1097.6" cy="29.0" r="3.6"/><circle cx="1097.9" cy="34.0" r="3.6"/><circle cx="1099.1" cy="39.0" r="3.6"/><circle cx="1100.1" cy="43.9" r="3.6"/><circle cx="1100.8" cy="48.9" r="3.6"/><circle cx="1102.0" cy="53.9" r="3.6"/><circle cx="1102.4" cy="58.9" r="3.6"/><circle cx="1103.8" cy="63.9" r="3.6"/><circle cx="1105.6" cy="68.8" r="3.6"/><circle cx="1107.3" cy="73.8" r="3.6"/><circle cx="1110.4" cy="78.8" r="3.6"/><circle cx="1112.6" cy="83.8" r="3.6"/><circle cx="1114.8" cy="88.8" r="3.6"/><circle cx="1118.6" cy="93.7" r="3.6"/><circle cx="1123.5" cy="98.7" r="3.6"/><circle cx="1129.4" cy="103.7" r="3.6"/><circle cx="1136.3" cy="108.7" r="3.6"/><circle cx="1142.6" cy="113.7" r="3.6"/><circle cx="1147.7" cy="118.6" r="3.6"/><circle cx="1152.9" cy="123.6" r="3.6"/><circle cx="1156.7" cy="128.6" r="3.6"/><circle cx="1159.1" cy="133.6" r="3.6"/><circle cx="1161.8" cy="138.6" r="3.6"/><circle cx="1164.9" cy="143.5" r="3.6"/><circle cx="1167.7" cy="148.5" r="3.6"/><circle cx="1171.6" cy="153.5" r="3.6"/><circle cx="1173.6" cy="158.5" r="3.6"/><circle cx="1175.3" cy="163.4" r="3.6"/><circle cx="1177.6" cy="168.4" r="3.6"/><circle cx="1179.1" cy="173.4" r="3.6"/><circle cx="1180.9" cy="178.4" r="3.6"/><circle cx="1182.0" cy="183.4" r="3.6"/><circle cx="1183.8" cy="188.3" r="3.6"/><circle cx="1185.4" cy="193.3" r="3.6"/><circle cx="1187.3" cy="198.3" r="3.6"/><circle cx="1188.5" cy="203.3" r="3.6"/><circle cx="1190.1" cy="208.3" r="3.6"/><circle cx="1192.6" cy="213.2" r="3.6"/><circle cx="1194.9" cy="218.2" r="3.6"/><circle cx="1197.2" cy="223.2" r="3.6"/><circle cx="1200.0" cy="228.2" r="3.6"/><circle cx="1202.1" cy="233.2" r="3.6"/><circle cx="1204.7" cy="238.1" r="3.6"/><circle cx="1207.1" cy="243.1" r="3.6"/><circle cx="1209.4" cy="248.1" r="3.6"/><circle cx="1212.6" cy="253.1" r="3.6"/><circle cx="1215.2" cy="258.1" r="3.6"/><circle cx="1217.6" cy="263.0" r="3.6"/><circle cx="1219.0" cy="268.0" r="3.6"/><circle cx="1220.2" cy="273.0" r="3.6"/><circle cx="1221.8" cy="278.0" r="3.6"/><circle cx="1223.7" cy="282.9" r="3.6"/><circle cx="1225.6" cy="287.9" r="3.6"/><circle cx="1226.2" cy="292.9" r="3.6"/><circle cx="1228.3" cy="297.9" r="3.6"/><circle cx="1230.3" cy="302.9" r="3.6"/><circle cx="1231.4" cy="307.8" r="3.6"/><circle cx="1232.4" cy="312.8" r="3.6"/><circle cx="1233.3" cy="317.8" r="3.6"/><circle cx="1235.8" cy="322.8" r="3.6"/><circle cx="1236.6" cy="327.8" r="3.6"/><circle cx="1238.4" cy="332.7" r="3.6"/><circle cx="1240.2" cy="337.7" r="3.6"/><circle cx="1241.1" cy="342.7" r="3.6"/><circle cx="1242.4" cy="347.7" r="3.6"/><circle cx="1243.5" cy="352.7" r="3.6"/><circle cx="1243.5" cy="357.6" r="3.6"/><circle cx="1245.6" cy="362.6" r="3.6"/><circle cx="1246.6" cy="367.6" r="3.6"/><circle cx="1248.2" cy="372.6" r="3.6"/><circle cx="1249.2" cy="377.6" r="3.6"/><circle cx="1249.8" cy="382.5" r="3.6"/><circle cx="1251.3" cy="387.5" r="3.6"/><circle cx="1252.0" cy="392.5" r="3.6"/><circle cx="1253.8" cy="397.5" r="3.6"/><circle cx="1254.1" cy="402.5" r="3.6"/><circle cx="1256.0" cy="407.4" r="3.6"/><circle cx="1256.7" cy="412.4" r="3.6"/><circle cx="1257.9" cy="417.4" r="3.6"/><circle cx="1258.5" cy="422.4" r="3.6"/><circle cx="1259.5" cy="427.3" r="3.6"/><circle cx="1259.9" cy="432.3" r="3.6"/><circle cx="1261.3" cy="437.3" r="3.6"/><circle cx="1262.0" cy="442.3" r="3.6"/><circle cx="1262.7" cy="447.3" r="3.6"/><circle cx="1262.9" cy="452.2" r="3.6"/><circle cx="1264.3" cy="457.2" r="3.6"/><circle cx="1265.5" cy="462.2" r="3.6"/><circle cx="1265.4" cy="467.2" r="3.6"/><circle cx="1266.4" cy="472.2" r="3.6"/><circle cx="1267.4" cy="477.1" r="3.6"/><circle cx="1268.7" cy="482.1" r="3.6"/><circle cx="1268.4" cy="487.1" r="3.6"/><circle cx="1269.0" cy="492.1" r="3.6"/><circle cx="1269.8" cy="497.1" r="3.6"/><circle cx="1270.8" cy="502.0" r="3.6"/><circle cx="1271.1" cy="507.0" r="3.6"/><circle cx="1271.7" cy="512.0" r="3.6"/><circle cx="1272.0" cy="517.0" r="3.6"/><circle cx="1274.0" cy="522.0" r="3.6"/><circle cx="1274.5" cy="526.9" r="3.6"/><circle cx="1275.2" cy="531.9" r="3.6"/><circle cx="1275.8" cy="536.9" r="3.6"/><circle cx="1277.5" cy="541.9" r="3.6"/><circle cx="1278.0" cy="546.9" r="3.6"/><circle cx="1278.2" cy="551.8" r="3.6"/><circle cx="1279.2" cy="556.8" r="3.6"/><circle cx="1280.7" cy="561.8" r="3.6"/><circle cx="1279.8" cy="566.8" r="3.6"/><circle cx="1281.3" cy="571.7" r="3.6"/><circle cx="1282.8" cy="576.7" r="3.6"/><circle cx="1283.8" cy="581.7" r="3.6"/><circle cx="1284.3" cy="586.7" r="3.6"/><circle cx="1284.7" cy="591.7" r="3.6"/><circle cx="1284.9" cy="596.6" r="3.6"/><circle cx="1286.4" cy="601.6" r="3.6"/><circle cx="1286.7" cy="606.6" r="3.6"/><circle cx="1287.1" cy="611.6" r="3.6"/><circle cx="1288.1" cy="616.6" r="3.6"/><circle cx="1288.5" cy="621.5" r="3.6"/><circle cx="1289.6" cy="626.5" r="3.6"/><circle cx="1290.2" cy="631.5" r="3.6"/><circle cx="1290.9" cy="636.5" r="3.6"/><circle cx="1291.8" cy="641.5" r="3.6"/><circle cx="1291.6" cy="646.4" r="3.6"/><circle cx="1292.9" cy="651.4" r="3.6"/><circle cx="1293.3" cy="656.4" r="3.6"/><circle cx="1293.9" cy="661.4" r="3.6"/><circle cx="1294.7" cy="666.4" r="3.6"/><circle cx="1295.6" cy="671.3" r="3.6"/><circle cx="1296.4" cy="676.3" r="3.6"/><circle cx="1296.7" cy="681.3" r="3.6"/><circle cx="1297.5" cy="686.3" r="3.6"/><circle cx="1298.4" cy="691.2" r="3.6"/><circle cx="1299.5" cy="696.2" r="3.6"/><circle cx="1300.0" cy="701.2" r="3.6"/><circle cx="1300.7" cy="706.2" r="3.6"/><circle cx="1301.0" cy="711.2" r="3.6"/><circle cx="1301.7" cy="716.1" r="3.6"/><circle cx="1302.7" cy="721.1" r="3.6"/><circle cx="1303.8" cy="726.1" r="3.6"/><circle cx="1304.4" cy="731.1" r="3.6"/><circle cx="1304.3" cy="736.1" r="3.6"/><circle cx="1305.9" cy="741.0" r="3.6"/><circle cx="1305.5" cy="746.0" r="3.6"/><circle cx="1306.5" cy="751.0" r="3.6"/><circle cx="1307.3" cy="756.0" r="3.6"/><circle cx="1308.2" cy="761.0" r="3.6"/><circle cx="1309.2" cy="765.9" r="3.6"/><circle cx="1309.0" cy="770.9" r="3.6"/><circle cx="1310.1" cy="775.9" r="3.6"/><circle cx="1310.9" cy="780.9" r="3.6"/><circle cx="1311.3" cy="785.9" r="3.6"/><circle cx="1312.3" cy="790.8" r="3.6"/><circle cx="1312.8" cy="795.8" r="3.6"/><circle cx="1313.4" cy="800.8" r="3.6"/><circle cx="1313.7" cy="805.8" r="3.6"/><circle cx="1314.1" cy="810.8" r="3.6"/><circle cx="1314.5" cy="815.7" r="3.6"/><circle cx="1097.9" cy="20.9" r="3.6"/><circle cx="1098.1" cy="25.9" r="3.6"/><circle cx="1098.3" cy="30.9" r="3.6"/><circle cx="1098.8" cy="35.8" r="3.6"/><circle cx="1098.9" cy="40.8" r="3.6"/><circle cx="1100.3" cy="45.8" r="3.6"/><circle cx="1101.3" cy="50.8" r="3.6"/><circle cx="1102.1" cy="55.8" r="3.6"/><circle cx="1102.8" cy="60.7" r="3.6"/><circle cx="1104.2" cy="65.7" r="3.6"/><circle cx="1106.1" cy="70.7" r="3.6"/><circle cx="1109.1" cy="75.7" r="3.6"/><circle cx="1111.8" cy="80.7" r="3.6"/><circle cx="1113.0" cy="85.6" r="3.6"/><circle cx="1115.4" cy="90.6" r="3.6"/><circle cx="1117.4" cy="95.6" r="3.6"/><circle cx="1121.7" cy="100.6" r="3.6"/><circle cx="1126.0" cy="105.6" r="3.6"/><circle cx="1132.4" cy="110.5" r="3.6"/><circle cx="1137.3" cy="115.5" r="3.6"/><circle cx="1141.7" cy="120.5" r="3.6"/><circle cx="1146.5" cy="125.5" r="3.6"/><circle cx="1150.7" cy="130.5" r="3.6"/><circle cx="1154.6" cy="135.4" r="3.6"/><circle cx="1158.0" cy="140.4" r="3.6"/><circle cx="1159.4" cy="145.4" r="3.6"/><circle cx="1161.9" cy="150.4" r="3.6"/><circle cx="1165.4" cy="155.3" r="3.6"/><circle cx="1168.7" cy="160.3" r="3.6"/><circle cx="1172.0" cy="165.3" r="3.6"/><circle cx="1175.1" cy="170.3" r="3.6"/><circle cx="1177.1" cy="175.3" r="3.6"/><circle cx="1179.3" cy="180.2" r="3.6"/><circle cx="1181.8" cy="185.2" r="3.6"/><circle cx="1183.6" cy="190.2" r="3.6"/><circle cx="1184.9" cy="195.2" r="3.6"/><circle cx="1187.5" cy="200.2" r="3.6"/><circle cx="1188.8" cy="205.1" r="3.6"/><circle cx="1190.0" cy="210.1" r="3.6"/><circle cx="1192.9" cy="215.1" r="3.6"/><circle cx="1195.3" cy="220.1" r="3.6"/><circle cx="1196.4" cy="225.1" r="3.6"/><circle cx="1198.4" cy="230.0" r="3.6"/><circle cx="1201.1" cy="235.0" r="3.6"/><circle cx="1203.3" cy="240.0" r="3.6"/><circle cx="1204.8" cy="245.0" r="3.6"/><circle cx="1207.3" cy="250.0" r="3.6"/><circle cx="1209.1" cy="254.9" r="3.6"/><circle cx="1211.4" cy="259.9" r="3.6"/><circle cx="1213.9" cy="264.9" r="3.6"/><circle cx="1215.6" cy="269.9" r="3.6"/><circle cx="1217.6" cy="274.8" r="3.6"/><circle cx="1219.3" cy="279.8" r="3.6"/><circle cx="1222.0" cy="284.8" r="3.6"/><circle cx="1223.1" cy="289.8" r="3.6"/><circle cx="1223.7" cy="294.8" r="3.6"/><circle cx="1226.6" cy="299.7" r="3.6"/><circle cx="1227.8" cy="304.7" r="3.6"/><circle cx="1229.9" cy="309.7" r="3.6"/><circle cx="1231.2" cy="314.7" r="3.6"/><circle cx="1233.4" cy="319.7" r="3.6"/><circle cx="1235.4" cy="324.6" r="3.6"/><circle cx="1236.2" cy="329.6" r="3.6"/><circle cx="1237.7" cy="334.6" r="3.6"/><circle cx="1239.3" cy="339.6" r="3.6"/><circle cx="1240.4" cy="344.6" r="3.6"/><circle cx="1241.7" cy="349.5" r="3.6"/><circle cx="1243.2" cy="354.5" r="3.6"/><circle cx="1244.8" cy="359.5" r="3.6"/><circle cx="1246.3" cy="364.5" r="3.6"/><circle cx="1246.5" cy="369.5" r="3.6"/><circle cx="1247.6" cy="374.4" r="3.6"/><circle cx="1249.0" cy="379.4" r="3.6"/><circle cx="1250.3" cy="384.4" r="3.6"/><circle cx="1250.7" cy="389.4" r="3.6"/><circle cx="1252.1" cy="394.4" r="3.6"/><circle cx="1252.8" cy="399.3" r="3.6"/><circle cx="1253.6" cy="404.3" r="3.6"/><circle cx="1255.3" cy="409.3" r="3.6"/><circle cx="1256.0" cy="414.3" r="3.6"/><circle cx="1257.0" cy="419.2" r="3.6"/><circle cx="1258.4" cy="424.2" r="3.6"/><circle cx="1258.8" cy="429.2" r="3.6"/><circle cx="1260.0" cy="434.2" r="3.6"/><circle cx="1260.8" cy="439.2" r="3.6"/><circle cx="1261.8" cy="444.1" r="3.6"/><circle cx="1262.3" cy="449.1" r="3.6"/><circle cx="1262.8" cy="454.1" r="3.6"/><circle cx="1263.7" cy="459.1" r="3.6"/><circle cx="1264.6" cy="464.1" r="3.6"/><circle cx="1264.8" cy="469.0" r="3.6"/><circle cx="1265.2" cy="474.0" r="3.6"/><circle cx="1267.0" cy="479.0" r="3.6"/><circle cx="1267.2" cy="484.0" r="3.6"/><circle cx="1268.1" cy="489.0" r="3.6"/><circle cx="1267.9" cy="493.9" r="3.6"/><circle cx="1269.1" cy="498.9" r="3.6"/><circle cx="1270.2" cy="503.9" r="3.6"/><circle cx="1270.2" cy="508.9" r="3.6"/><circle cx="1271.6" cy="513.9" r="3.6"/><circle cx="1273.2" cy="518.8" r="3.6"/><circle cx="1274.2" cy="523.8" r="3.6"/><circle cx="1274.8" cy="528.8" r="3.6"/><circle cx="1275.2" cy="533.8" r="3.6"/><circle cx="1276.1" cy="538.7" r="3.6"/><circle cx="1276.9" cy="543.7" r="3.6"/><circle cx="1277.9" cy="548.7" r="3.6"/><circle cx="1278.3" cy="553.7" r="3.6"/><circle cx="1278.6" cy="558.7" r="3.6"/><circle cx="1279.3" cy="563.6" r="3.6"/><circle cx="1280.1" cy="568.6" r="3.6"/><circle cx="1281.8" cy="573.6" r="3.6"/><circle cx="1281.6" cy="578.6" r="3.6"/><circle cx="1283.0" cy="583.6" r="3.6"/><circle cx="1283.3" cy="588.5" r="3.6"/><circle cx="1283.7" cy="593.5" r="3.6"/><circle cx="1284.9" cy="598.5" r="3.6"/><circle cx="1285.7" cy="603.5" r="3.6"/><circle cx="1286.5" cy="608.5" r="3.6"/><circle cx="1286.9" cy="613.4" r="3.6"/><circle cx="1288.5" cy="618.4" r="3.6"/><circle cx="1289.2" cy="623.4" r="3.6"/><circle cx="1289.4" cy="628.4" r="3.6"/><circle cx="1290.5" cy="633.4" r="3.6"/><circle cx="1290.9" cy="638.3" r="3.6"/><circle cx="1291.2" cy="643.3" r="3.6"/><circle cx="1291.7" cy="648.3" r="3.6"/><circle cx="1292.6" cy="653.3" r="3.6"/><circle cx="1293.4" cy="658.3" r="3.6"/><circle cx="1293.9" cy="663.2" r="3.6"/><circle cx="1294.5" cy="668.2" r="3.6"/><circle cx="1296.0" cy="673.2" r="3.6"/><circle cx="1295.9" cy="678.2" r="3.6"/><circle cx="1296.8" cy="683.1" r="3.6"/><circle cx="1297.4" cy="688.1" r="3.6"/><circle cx="1298.3" cy="693.1" r="3.6"/><circle cx="1299.8" cy="698.1" r="3.6"/><circle cx="1299.8" cy="703.1" r="3.6"/><circle cx="1300.0" cy="708.0" r="3.6"/><circle cx="1300.8" cy="713.0" r="3.6"/><circle cx="1301.8" cy="718.0" r="3.6"/><circle cx="1302.6" cy="723.0" r="3.6"/><circle cx="1302.8" cy="728.0" r="3.6"/><circle cx="1302.8" cy="732.9" r="3.6"/><circle cx="1304.4" cy="737.9" r="3.6"/><circle cx="1305.0" cy="742.9" r="3.6"/><circle cx="1305.4" cy="747.9" r="3.6"/><circle cx="1305.8" cy="752.9" r="3.6"/><circle cx="1307.4" cy="757.8" r="3.6"/><circle cx="1307.6" cy="762.8" r="3.6"/><circle cx="1307.8" cy="767.8" r="3.6"/><circle cx="1309.0" cy="772.8" r="3.6"/><circle cx="1309.2" cy="777.8" r="3.6"/><circle cx="1311.0" cy="782.7" r="3.6"/><circle cx="1311.6" cy="787.7" r="3.6"/><circle cx="1311.8" cy="792.7" r="3.6"/><circle cx="1312.6" cy="797.7" r="3.6"/><circle cx="1313.0" cy="802.6" r="3.6"/><circle cx="1314.0" cy="807.6" r="3.6"/><circle cx="1314.2" cy="812.6" r="3.6"/><circle cx="1098.2" cy="21.7" r="3.6"/><circle cx="1098.5" cy="26.7" r="3.6"/><circle cx="1098.3" cy="31.7" r="3.6"/><circle cx="1099.8" cy="36.6" r="3.6"/><circle cx="1100.5" cy="41.6" r="3.6"/><circle cx="1101.5" cy="46.6" r="3.6"/><circle cx="1102.0" cy="51.6" r="3.6"/><circle cx="1103.0" cy="56.6" r="3.6"/><circle cx="1103.3" cy="61.5" r="3.6"/><circle cx="1105.2" cy="66.5" r="3.6"/><circle cx="1107.1" cy="71.5" r="3.6"/><circle cx="1109.5" cy="76.5" r="3.6"/><circle cx="1112.1" cy="81.5" r="3.6"/><circle cx="1114.2" cy="86.4" r="3.6"/><circle cx="1116.2" cy="91.4" r="3.6"/><circle cx="1122.2" cy="96.4" r="3.6"/><circle cx="1127.8" cy="101.4" r="3.6"/><circle cx="1132.8" cy="106.4" r="3.6"/><circle cx="1138.5" cy="111.3" r="3.6"/><circle cx="1144.1" cy="116.3" r="3.6"/><circle cx="1148.2" cy="121.3" r="3.6"/><circle cx="1153.7" cy="126.3" r="3.6"/><circle cx="1156.8" cy="131.3" r="3.6"/><circle cx="1158.7" cy="136.2" r="3.6"/><circle cx="1161.0" cy="141.2" r="3.6"/><circle cx="1164.3" cy="146.2" r="3.6"/><circle cx="1166.9" cy="151.2" r="3.6"/><circle cx="1170.2" cy="156.2" r="3.6"/><circle cx="1172.3" cy="161.1" r="3.6"/><circle cx="1174.1" cy="166.1" r="3.6"/><circle cx="1177.9" cy="171.1" r="3.6"/><circle cx="1178.9" cy="176.1" r="3.6"/><circle cx="1181.4" cy="181.0" r="3.6"/><circle cx="1182.4" cy="186.0" r="3.6"/><circle cx="1184.8" cy="191.0" r="3.6"/><circle cx="1186.5" cy="196.0" r="3.6"/><circle cx="1188.0" cy="201.0" r="3.6"/><circle cx="1189.5" cy="205.9" r="3.6"/><circle cx="1191.6" cy="210.9" r="3.6"/><circle cx="1193.8" cy="215.9" r="3.6"/><circle cx="1196.0" cy="220.9" r="3.6"/><circle cx="1197.1" cy="225.9" r="3.6"/><circle cx="1198.8" cy="230.8" r="3.6"/><circle cx="1201.2" cy="235.8" r="3.6"/><circle cx="1203.0" cy="240.8" r="3.6"/><circle cx="1206.0" cy="245.8" r="3.6"/><circle cx="1207.5" cy="250.8" r="3.6"/><circle cx="1210.4" cy="255.7" r="3.6"/><circle cx="1213.0" cy="260.7" r="3.6"/><circle cx="1215.9" cy="265.7" r="3.6"/><circle cx="1217.1" cy="270.7" r="3.6"/><circle cx="1219.1" cy="275.7" r="3.6"/><circle cx="1220.9" cy="280.6" r="3.6"/><circle cx="1222.1" cy="285.6" r="3.6"/><circle cx="1223.2" cy="290.6" r="3.6"/><circle cx="1225.7" cy="295.6" r="3.6"/><circle cx="1226.9" cy="300.5" r="3.6"/><circle cx="1228.8" cy="305.5" r="3.6"/><circle cx="1230.7" cy="310.5" r="3.6"/><circle cx="1232.9" cy="315.5" r="3.6"/><circle cx="1234.1" cy="320.5" r="3.6"/><circle cx="1235.0" cy="325.4" r="3.6"/><circle cx="1236.0" cy="330.4" r="3.6"/><circle cx="1237.8" cy="335.4" r="3.6"/><circle cx="1238.8" cy="340.4" r="3.6"/><circle cx="1241.2" cy="345.4" r="3.6"/><circle cx="1242.0" cy="350.3" r="3.6"/><circle cx="1243.3" cy="355.3" r="3.6"/><circle cx="1244.2" cy="360.3" r="3.6"/><circle cx="1245.0" cy="365.3" r="3.6"/><circle cx="1247.1" cy="370.3" r="3.6"/><circle cx="1248.1" cy="375.2" r="3.6"/><circle cx="1248.3" cy="380.2" r="3.6"/><circle cx="1250.1" cy="385.2" r="3.6"/><circle cx="1250.3" cy="390.2" r="3.6"/><circle cx="1251.8" cy="395.2" r="3.6"/><circle cx="1253.2" cy="400.1" r="3.6"/><circle cx="1253.8" cy="405.1" r="3.6"/><circle cx="1255.4" cy="410.1" r="3.6"/><circle cx="1256.7" cy="415.1" r="3.6"/><circle cx="1257.0" cy="420.1" r="3.6"/><circle cx="1258.4" cy="425.0" r="3.6"/><circle cx="1259.0" cy="430.0" r="3.6"/><circle cx="1260.1" cy="435.0" r="3.6"/><circle cx="1260.9" cy="440.0" r="3.6"/><circle cx="1261.2" cy="444.9" r="3.6"/><circle cx="1262.8" cy="449.9" r="3.6"/><circle cx="1263.3" cy="454.9" r="3.6"/><circle cx="1263.8" cy="459.9" r="3.6"/><circle cx="1264.3" cy="464.9" r="3.6"/><circle cx="1264.7" cy="469.8" r="3.6"/><circle cx="1266.0" cy="474.8" r="3.6"/><circle cx="1265.5" cy="479.8" r="3.6"/><circle cx="1267.3" cy="484.8" r="3.6"/><circle cx="1267.9" cy="489.8" r="3.6"/><circle cx="1268.7" cy="494.7" r="3.6"/><circle cx="1269.6" cy="499.7" r="3.6"/><circle cx="1270.5" cy="504.7" r="3.6"/><circle cx="1271.4" cy="509.7" r="3.6"/><circle cx="1271.9" cy="514.7" r="3.6"/><circle cx="1272.5" cy="519.6" r="3.6"/><circle cx="1273.5" cy="524.6" r="3.6"/><circle cx="1274.4" cy="529.6" r="3.6"/><circle cx="1274.8" cy="534.6" r="3.6"/><circle cx="1275.2" cy="539.6" r="3.6"/><circle cx="1275.9" cy="544.5" r="3.6"/><circle cx="1277.2" cy="549.5" r="3.6"/><circle cx="1277.5" cy="554.5" r="3.6"/><circle cx="1278.4" cy="559.5" r="3.6"/><circle cx="1278.8" cy="564.5" r="3.6"/><circle cx="1279.9" cy="569.4" r="3.6"/><circle cx="1281.0" cy="574.4" r="3.6"/><circle cx="1281.6" cy="579.4" r="3.6"/><circle cx="1282.7" cy="584.4" r="3.6"/><circle cx="1282.9" cy="589.3" r="3.6"/><circle cx="1284.1" cy="594.3" r="3.6"/><circle cx="1285.1" cy="599.3" r="3.6"/><circle cx="1285.9" cy="604.3" r="3.6"/><circle cx="1286.7" cy="609.3" r="3.6"/><circle cx="1287.8" cy="614.2" r="3.6"/><circle cx="1288.2" cy="619.2" r="3.6"/><circle cx="1288.7" cy="624.2" r="3.6"/><circle cx="1289.3" cy="629.2" r="3.6"/><circle cx="1289.9" cy="634.2" r="3.6"/><circle cx="1290.9" cy="639.1" r="3.6"/><circle cx="1291.4" cy="644.1" r="3.6"/><circle cx="1291.7" cy="649.1" r="3.6"/><circle cx="1292.3" cy="654.1" r="3.6"/><circle cx="1293.5" cy="659.1" r="3.6"/><circle cx="1294.3" cy="664.0" r="3.6"/><circle cx="1295.5" cy="669.0" r="3.6"/><circle cx="1295.5" cy="674.0" r="3.6"/><circle cx="1296.4" cy="679.0" r="3.6"/><circle cx="1297.2" cy="684.0" r="3.6"/><circle cx="1297.3" cy="688.9" r="3.6"/><circle cx="1298.9" cy="693.9" r="3.6"/><circle cx="1298.8" cy="698.9" r="3.6"/><circle cx="1300.2" cy="703.9" r="3.6"/><circle cx="1300.1" cy="708.8" r="3.6"/><circle cx="1301.1" cy="713.8" r="3.6"/><circle cx="1301.1" cy="718.8" r="3.6"/><circle cx="1302.6" cy="723.8" r="3.6"/><circle cx="1302.5" cy="728.8" r="3.6"/><circle cx="1303.2" cy="733.7" r="3.6"/><circle cx="1303.7" cy="738.7" r="3.6"/><circle cx="1304.3" cy="743.7" r="3.6"/><circle cx="1305.3" cy="748.7" r="3.6"/><circle cx="1306.5" cy="753.7" r="3.6"/><circle cx="1307.4" cy="758.6" r="3.6"/><circle cx="1307.8" cy="763.6" r="3.6"/><circle cx="1308.4" cy="768.6" r="3.6"/><circle cx="1309.6" cy="773.6" r="3.6"/><circle cx="1309.5" cy="778.6" r="3.6"/><circle cx="1309.8" cy="783.5" r="3.6"/><circle cx="1311.3" cy="788.5" r="3.6"/><circle cx="1311.6" cy="793.5" r="3.6"/><circle cx="1312.2" cy="798.5" r="3.6"/><circle cx="1312.5" cy="803.5" r="3.6"/><circle cx="1314.1" cy="808.4" r="3.6"/><circle cx="1313.7" cy="813.4" r="3.6"/></g>
<polyline points="1096.3,21.3 1097.0,31.3 1098.0,41.2 1100.0,51.2 1102.1,61.1 1105.3,71.1 1110.5,81.0 1115.0,91.0 1125.3,101.0 1137.0,110.9 1147.0,120.9 1154.9,130.8 1160.0,140.8 1165.2,150.8 1171.6,160.7 1175.5,170.7 1180.0,180.6 1183.2,190.6 1187.0,200.5 1190.3,210.5 1194.8,220.5 1198.6,230.4 1203.3,240.4 1208.1,250.3 1212.8,260.3 1217.3,270.3 1220.8,280.2 1224.2,290.2 1227.7,300.1 1231.1,310.1 1234.4,320.0 1236.8,330.0 1239.1,340.0 1241.5,349.9 1243.9,359.9 1246.2,369.8 1248.5,379.8 1250.7,389.8 1253.0,399.7 1255.2,409.7 1257.3,419.6 1258.9,429.6 1260.4,439.5 1262.0,449.5 1263.6,459.5 1265.1,469.4 1266.6,479.4 1268.1,489.3 1269.5,499.3 1271.0,509.3 1272.5,519.2 1274.1,529.2 1275.6,539.1 1277.2,549.1 1278.8,559.1 1280.3,569.0 1281.8,579.0 1283.4,588.9 1284.9,598.9 1286.5,608.8 1288.0,618.8 1289.3,628.8 1290.7,638.7 1292.0,648.7 1293.4,658.6 1294.7,668.6 1296.1,678.6 1297.4,688.5 1298.8,698.5 1300.1,708.4 1301.5,718.4 1302.8,728.3 1304.2,738.3 1305.5,748.3 1306.9,758.2 1308.3,768.2 1309.6,778.1 1311.0,788.1 1312.3,798.1 1313.7,808.0" fill="none" stroke="#0000ff" stroke-width="2.75" stroke-linejoin="round"/>
<g fill="#0000ff"><circle cx="1096.3" cy="21.3" r="5.8"/><circle cx="1097.0" cy="31.3" r="5.8"/><circle cx="1098.0" cy="41.2" r="5.8"/><circle cx="1100.0" cy="51.2" r="5.8"/><circle cx="1102.1" cy="61.1" r="5.8"/><circle cx="1105.3" cy="71.1" r="5.8"/><circle cx="1110.5" cy="81.0" r="5.8"/><circle cx="1115.0" cy="91.0" r="5.8"/><circle cx="1125.3" cy="101.0" r="5.8"/><circle cx="1137.0" cy="110.9" r="5.8"/><circle cx="1147.0" cy="120.9" r="5.8"/><circle cx="1154.9" cy="130.8" r="5.8"/><circle cx="1160.0" cy="140.8" r="5.8"/><circle cx="1165.2" cy="150.8" r="5.8"/><circle cx="1171.6" cy="160.7" r="5.8"/><circle cx="1175.5" cy="170.7" r="5.8"/><circle cx="1180.0" cy="180.6" r="5.8"/><circle cx="1183.2" cy="190.6" r="5.8"/><circle cx="1187.0" cy="200.5" r="5.8"/><circle cx="1190.3" cy="210.5" r="5.8"/><circle cx="1194.8" cy="220.5" r="5.8"/><circle cx="1198.6" cy="230.4" r="5.8"/><circle cx="1203.3" cy="240.4" r="5.8"/><circle cx="1208.1" cy="250.3" r="5.8"/><circle cx="1212.8" cy="260.3" r="5.8"/><circle cx="1217.3" cy="270.3" r="5.8"/><circle cx="1220.8" cy="280.2" r="5.8"/><circle cx="1224.2" cy="290.2" r="5.8"/><circle cx="1227.7" cy="300.1" r="5.8"/><circle cx="1231.1" cy="310.1" r="5.8"/><circle cx="1234.4" cy="320.0" r="5.8"/><circle cx="1236.8" cy="330.0" r="5.8"/><circle cx="1239.1" cy="340.0" r="5.8"/><circle cx="1241.5" cy="349.9" r="5.8"/><circle cx="1243.9" cy="359.9" r="5.8"/><circle cx="1246.2" cy="369.8" r="5.8"/><circle cx="1248.5" cy="379.8" r="5.8"/><circle cx="1250.7" cy="389.8" r="5.8"/><circle cx="1253.0" cy="399.7" r="5.8"/><circle cx="1255.2" cy="409.7" r="5.8"/><circle cx="1257.3" cy="419.6" r="5.8"/><circle cx="1258.9" cy="429.6" r="5.8"/><circle cx="1260.4" cy="439.5" r="5.8"/><circle cx="1262.0" cy="449.5" r="5.8"/><circle cx="1263.6" cy="459.5" r="5.8"/><circle cx="1265.1" cy="469.4" r="5.8"/><circle cx="1266.6" cy="479.4" r="5.8"/><circle cx="1268.1" cy="489.3" r="5.8"/><circle cx="1269.5" cy="499.3" r="5.8"/><circle cx="1271.0" cy="509.3" r="5.8"/><circle cx="1272.5" cy="519.2" r="5.8"/><circle cx="1274.1" cy="529.2" r="5.8"/><circle cx="1275.6" cy="539.1" r="5.8"/><circle cx="1277.2" cy="549.1" r="5.8"/><circle cx="1278.8" cy="559.1" r="5.8"/><circle cx="1280.3" cy="569.0" r="5.8"/><circle cx="1281.8" cy="579.0" r="5.8"/><circle cx="1283.4" cy="588.9" r="5.8"/><circle cx="1284.9" cy="598.9" r="5.8"/><circle cx="1286.5" cy="608.8" r="5.8"/><circle cx="1288.0" cy="618.8" r="5.8"/><circle cx="1289.3" cy="628.8" r="5.8"/><circle cx="1290.7" cy="638.7" r="5.8"/><circle cx="1292.0" cy="648.7" r="5.8"/><circle cx="1293.4" cy="658.6" r="5.8"/><circle cx="1294.7" cy="668.6" r="5.8"/><circle cx="1296.1" cy="678.6" r="5.8"/><circle cx="1297.4" cy="688.5" r="5.8"/><circle cx="1298.8" cy="698.5" r="5.8"/><circle cx="1300.1" cy="708.4" r="5.8"/><circle cx="1301.5" cy="718.4" r="5.8"/><circle cx="1302.8" cy="728.3" r="5.8"/><circle cx="1304.2" cy="738.3" r="5.8"/><circle cx="1305.5" cy="748.3" r="5.8"/><circle cx="1306.9" cy="758.2" r="5.8"/><circle cx="1308.3" cy="768.2" r="5.8"/><circle cx="1309.6" cy="778.1" r="5.8"/><circle cx="1311.0" cy="788.1" r="5.8"/><circle cx="1312.3" cy="798.1" r="5.8"/><circle cx="1313.7" cy="808.0" r="5.8"/></g>
<polyline points="1114.8,19.3 1115.0,23.3 1115.3,27.3 1115.6,31.3 1115.9,35.2 1116.2,39.2 1116.5,43.2 1117.0,49.2 1117.8,59.1 1120.5,69.1 1125.0,79.1 1130.0,89.0 1136.0,99.0 1141.5,108.9 1146.0,118.9 1155.5,138.8 1163.8,158.7 1171.5,178.6 1179.5,198.6 1189.0,218.5 1208.0,268.3 1230.0,318.1 1257.0,417.6 1272.5,517.2 1288.0,616.8 1301.5,716.4 1315.0,816.0" fill="none" stroke="#ff0000" stroke-width="2.75" stroke-linejoin="round"/>
<g fill="#ff0000"><circle cx="1114.8" cy="19.3" r="5.8"/><circle cx="1115.0" cy="23.3" r="5.8"/><circle cx="1115.3" cy="27.3" r="5.8"/><circle cx="1115.6" cy="31.3" r="5.8"/><circle cx="1115.9" cy="35.2" r="5.8"/><circle cx="1116.2" cy="39.2" r="5.8"/><circle cx="1116.5" cy="43.2" r="5.8"/><circle cx="1117.0" cy="49.2" r="5.8"/><circle cx="1117.8" cy="59.1" r="5.8"/><circle cx="1120.5" cy="69.1" r="5.8"/><circle cx="1125.0" cy="79.1" r="5.8"/><circle cx="1130.0" cy="89.0" r="5.8"/><circle cx="1136.0" cy="99.0" r="5.8"/><circle cx="1141.5" cy="108.9" r="5.8"/><circle cx="1146.0" cy="118.9" r="5.8"/><circle cx="1155.5" cy="138.8" r="5.8"/><circle cx="1163.8" cy="158.7" r="5.8"/><circle cx="1171.5" cy="178.6" r="5.8"/><circle cx="1179.5" cy="198.6" r="5.8"/><circle cx="1189.0" cy="218.5" r="5.8"/><circle cx="1208.0" cy="268.3" r="5.8"/><circle cx="1230.0" cy="318.1" r="5.8"/><circle cx="1257.0" cy="417.6" r="5.8"/><circle cx="1272.5" cy="517.2" r="5.8"/><circle cx="1288.0" cy="616.8" r="5.8"/><circle cx="1301.5" cy="716.4" r="5.8"/><circle cx="1315.0" cy="816.0" r="5.8"/></g>
<polyline points="1104.2,19.3 1104.6,23.3 1105.1,27.3 1105.6,31.3 1106.1,35.2 1106.6,39.2 1107.2,43.2 1108.2,49.2 1112.4,59.1 1118.5,69.1 1126.6,79.1 1132.3,89.0 1139.4,99.0 1143.9,108.9 1148.4,118.9 1157.5,138.8 1165.8,158.7 1173.5,178.6 1181.3,198.6 1190.6,218.5 1208.7,268.3 1227.8,318.1 1255.6,417.6 1272.2,517.2 1287.8,616.8 1301.2,716.4 1314.7,816.0" fill="none" stroke="#008000" stroke-width="2.75" stroke-linejoin="round"/>
<g fill="#008000"><circle cx="1104.2" cy="19.3" r="5.8"/><circle cx="1104.6" cy="23.3" r="5.8"/><circle cx="1105.1" cy="27.3" r="5.8"/><circle cx="1105.6" cy="31.3" r="5.8"/><circle cx="1106.1" cy="35.2" r="5.8"/><circle cx="1106.6" cy="39.2" r="5.8"/><circle cx="1107.2" cy="43.2" r="5.8"/><circle cx="1108.2" cy="49.2" r="5.8"/><circle cx="1112.4" cy="59.1" r="5.8"/><circle cx="1118.5" cy="69.1" r="5.8"/><circle cx="1126.6" cy="79.1" r="5.8"/><circle cx="1132.3" cy="89.0" r="5.8"/><circle cx="1139.4" cy="99.0" r="5.8"/><circle cx="1143.9" cy="108.9" r="5.8"/><circle cx="1148.4" cy="118.9" r="5.8"/><circle cx="1157.5" cy="138.8" r="5.8"/><circle cx="1165.8" cy="158.7" r="5.8"/><circle cx="1173.5" cy="178.6" r="5.8"/><circle cx="1181.3" cy="198.6" r="5.8"/><circle cx="1190.6" cy="218.5" r="5.8"/><circle cx="1208.7" cy="268.3" r="5.8"/><circle cx="1227.8" cy="318.1" r="5.8"/><circle cx="1255.6" cy="417.6" r="5.8"/><circle cx="1272.2" cy="517.2" r="5.8"/><circle cx="1287.8" cy="616.8" r="5.8"/><circle cx="1301.2" cy="716.4" r="5.8"/><circle cx="1314.7" cy="816.0" r="5.8"/></g>
<polyline points="1108.6,20.3 1108.8,22.4 1109.0,24.6 1109.3,26.9 1109.6,29.4 1109.9,32.1 1110.2,35.1 1110.5,38.4 1110.9,42.0 1111.4,46.1 1111.9,50.8 1112.4,56.1 1116.9,62.3 1120.8,69.5 1123.3,77.9 1126.6,87.8 1129.1,99.6 1134.5,113.7 1142.0,130.4 1152.3,150.4 1163.3,174.5 1177.4,203.1 1193.6,237.8 1211.4,279.6 1230.0,329.8 1247.4,390.0 1262.5,462.5 1275.5,549.1 1291.1,652.9 1309.5,776.5 1329.9,923.3" fill="none" stroke="#ff00ff" stroke-width="2.75" stroke-linejoin="round"/>
<g fill="#ff00ff"><circle cx="1108.6" cy="20.3" r="5.8"/><circle cx="1108.8" cy="22.4" r="5.8"/><circle cx="1109.0" cy="24.6" r="5.8"/><circle cx="1109.3" cy="26.9" r="5.8"/><circle cx="1109.6" cy="29.4" r="5.8"/><circle cx="1109.9" cy="32.1" r="5.8"/><circle cx="1110.2" cy="35.1" r="5.8"/><circle cx="1110.5" cy="38.4" r="5.8"/><circle cx="1110.9" cy="42.0" r="5.8"/><circle cx="1111.4" cy="46.1" r="5.8"/><circle cx="1111.9" cy="50.8" r="5.8"/><circle cx="1112.4" cy="56.1" r="5.8"/><circle cx="1116.9" cy="62.3" r="5.8"/><circle cx="1120.8" cy="69.5" r="5.8"/><circle cx="1123.3" cy="77.9" r="5.8"/><circle cx="1126.6" cy="87.8" r="5.8"/><circle cx="1129.1" cy="99.6" r="5.8"/><circle cx="1134.5" cy="113.7" r="5.8"/><circle cx="1142.0" cy="130.4" r="5.8"/><circle cx="1152.3" cy="150.4" r="5.8"/><circle cx="1163.3" cy="174.5" r="5.8"/><circle cx="1177.4" cy="203.1" r="5.8"/><circle cx="1193.6" cy="237.8" r="5.8"/><circle cx="1211.4" cy="279.6" r="5.8"/><circle cx="1230.0" cy="329.8" r="5.8"/><circle cx="1247.4" cy="390.0" r="5.8"/><circle cx="1262.5" cy="462.5" r="5.8"/><circle cx="1275.5" cy="549.1" r="5.8"/><circle cx="1291.1" cy="652.9" r="5.8"/><circle cx="1309.5" cy="776.5" r="5.8"/><circle cx="1329.9" cy="923.3" r="5.8"/></g>
</g>
<g stroke="#000" stroke-width="1.47" fill="none">
<rect x="1073.5" y="19.5" width="400.0" height="795.0"/>
<line x1="1121.5" y1="814.5" x2="1121.5" y2="821.1"/>
<line x1="1203.5" y1="814.5" x2="1203.5" y2="821.1"/>
<line x1="1285.5" y1="814.5" x2="1285.5" y2="821.1"/>
<line x1="1368.5" y1="814.5" x2="1368.5" y2="821.1"/>
<line x1="1450.5" y1="814.5" x2="1450.5" y2="821.1"/>
<line x1="1066.9" y1="19.5" x2="1073.5" y2="19.5"/>
<line x1="1066.9" y1="69.5" x2="1073.5" y2="69.5"/>
<line x1="1066.9" y1="118.5" x2="1073.5" y2="118.5"/>
<line x1="1066.9" y1="168.5" x2="1073.5" y2="168.5"/>
<line x1="1066.9" y1="218.5" x2="1073.5" y2="218.5"/>
<line x1="1066.9" y1="268.5" x2="1073.5" y2="268.5"/>
<line x1="1066.9" y1="318.5" x2="1073.5" y2="318.5"/>
<line x1="1066.9" y1="367.5" x2="1073.5" y2="367.5"/>
<line x1="1066.9" y1="417.5" x2="1073.5" y2="417.5"/>
<line x1="1066.9" y1="467.5" x2="1073.5" y2="467.5"/>
<line x1="1066.9" y1="517.5" x2="1073.5" y2="517.5"/>
<line x1="1066.9" y1="567.5" x2="1073.5" y2="567.5"/>
<line x1="1066.9" y1="616.5" x2="1073.5" y2="616.5"/>
<line x1="1066.9" y1="666.5" x2="1073.5" y2="666.5"/>
<line x1="1066.9" y1="716.5" x2="1073.5" y2="716.5"/>
<line x1="1066.9" y1="766.5" x2="1073.5" y2="766.5"/>
</g>
<text x="75.2" y="27.2" font-size="18.1" text-anchor="end" textLength="10.9" lengthAdjust="spacingAndGlyphs" >0</text>
<text x="75.2" y="77.0" font-size="18.1" text-anchor="end" textLength="21.8" lengthAdjust="spacingAndGlyphs" >25</text>
<text x="75.2" y="126.8" font-size="18.1" text-anchor="end" textLength="21.8" lengthAdjust="spacingAndGlyphs" >50</text>
<text x="75.2" y="176.6" font-size="18.1" text-anchor="end" textLength="21.8" lengthAdjust="spacingAndGlyphs" >75</text>
<text x="75.2" y="226.4" font-size="18.1" text-anchor="end" textLength="32.6" lengthAdjust="spacingAndGlyphs" >100</text>
<text x="75.2" y="276.2" font-size="18.1" text-anchor="end" textLength="32.6" lengthAdjust="spacingAndGlyphs" >125</text>
<text x="75.2" y="326.0" font-size="18.1" text-anchor="end" textLength="32.6" lengthAdjust="spacingAndGlyphs" >150</text>
<text x="75.2" y="375.7" font-size="18.1" text-anchor="end" textLength="32.6" lengthAdjust="spacingAndGlyphs" >175</text>
<text x="75.2" y="425.5" font-size="18.1" text-anchor="end" textLength="32.6" lengthAdjust="spacingAndGlyphs" >200</text>
<text x="75.2" y="475.3" font-size="18.1" text-anchor="end" textLength="32.6" lengthAdjust="spacingAndGlyphs" >225</text>
<text x="75.2" y="525.1" font-size="18.1" text-anchor="end" textLength="32.6" lengthAdjust="spacingAndGlyphs" >250</text>
<text x="75.2" y="574.9" font-size="18.1" text-anchor="end" textLength="32.6" lengthAdjust="spacingAndGlyphs" >275</text>
<text x="75.2" y="624.7" font-size="18.1" text-anchor="end" textLength="32.6" lengthAdjust="spacingAndGlyphs" >300</text>
<text x="75.2" y="674.5" font-size="18.1" text-anchor="end" textLength="32.6" lengthAdjust="spacingAndGlyphs" >325</text>
<text x="75.2" y="724.3" font-size="18.1" text-anchor="end" textLength="32.6" lengthAdjust="spacingAndGlyphs" >350</text>
<text x="75.2" y="774.1" font-size="18.1" text-anchor="end" textLength="32.6" lengthAdjust="spacingAndGlyphs" >375</text>
<text x="126.5" y="842.0" font-size="18.1" text-anchor="middle" textLength="27.2" lengthAdjust="spacingAndGlyphs" >5.0</text>
<text x="184.1" y="842.0" font-size="18.1" text-anchor="middle" textLength="27.2" lengthAdjust="spacingAndGlyphs" >7.5</text>
<text x="241.8" y="842.0" font-size="18.1" text-anchor="middle" textLength="38.1" lengthAdjust="spacingAndGlyphs" >10.0</text>
<text x="299.4" y="842.0" font-size="18.1" text-anchor="middle" textLength="38.1" lengthAdjust="spacingAndGlyphs" >12.5</text>
<text x="357.1" y="842.0" font-size="18.1" text-anchor="middle" textLength="38.1" lengthAdjust="spacingAndGlyphs" >15.0</text>
<text x="414.7" y="842.0" font-size="18.1" text-anchor="middle" textLength="38.1" lengthAdjust="spacingAndGlyphs" >17.5</text>
<text x="472.4" y="842.0" font-size="18.1" text-anchor="middle" textLength="38.1" lengthAdjust="spacingAndGlyphs" >20.0</text>
<text x="634.5" y="842.0" font-size="18.1" text-anchor="middle" textLength="38.1" lengthAdjust="spacingAndGlyphs" >33.0</text>
<text x="734.8" y="842.0" font-size="18.1" text-anchor="middle" textLength="38.1" lengthAdjust="spacingAndGlyphs" >33.5</text>
<text x="835.2" y="842.0" font-size="18.1" text-anchor="middle" textLength="38.1" lengthAdjust="spacingAndGlyphs" >34.0</text>
<text x="935.5" y="842.0" font-size="18.1" text-anchor="middle" textLength="38.1" lengthAdjust="spacingAndGlyphs" >34.5</text>
<g transform="translate(1121.1,851.5) rotate(-45)">
<text x="0.0" y="6.4" font-size="18.1" text-anchor="middle" textLength="43.5" lengthAdjust="spacingAndGlyphs" >1024</text>
</g>
<g transform="translate(1203.4,851.5) rotate(-45)">
<text x="0.0" y="6.4" font-size="18.1" text-anchor="middle" textLength="43.5" lengthAdjust="spacingAndGlyphs" >1026</text>
</g>
<g transform="translate(1285.6,851.5) rotate(-45)">
<text x="0.0" y="6.4" font-size="18.1" text-anchor="middle" textLength="43.5" lengthAdjust="spacingAndGlyphs" >1028</text>
</g>
<g transform="translate(1367.9,851.5) rotate(-45)">
<text x="0.0" y="6.4" font-size="18.1" text-anchor="middle" textLength="43.5" lengthAdjust="spacingAndGlyphs" >1030</text>
</g>
<g transform="translate(1450.1,851.5) rotate(-45)">
<text x="0.0" y="6.4" font-size="18.1" text-anchor="middle" textLength="43.5" lengthAdjust="spacingAndGlyphs" >1032</text>
</g>
<g transform="translate(30.2,418.3) rotate(-90)">
<text x="0.0" y="0.0" font-size="23.7" text-anchor="middle" font-weight="bold" textLength="125.7" lengthAdjust="spacingAndGlyphs" >Depth (m)</text>
</g>
<text x="178.9" y="871.7" font-size="23.7" font-weight="bold" textLength="217.4" lengthAdjust="spacingAndGlyphs">Temperature (<tspan font-weight="normal" font-style="italic" font-size="16.5" dy="-8.5">o</tspan><tspan font-weight="normal" font-style="italic" dy="8.5">C</tspan>)</text>
<text x="733.7" y="869.6" font-size="23.7" text-anchor="start" font-weight="bold" textLength="93.8" lengthAdjust="spacingAndGlyphs" >Salinity</text>
<text y="895.8" font-size="23.7" font-weight="bold"><tspan x="1168.3" textLength="96.1" lengthAdjust="spacingAndGlyphs">Density</tspan> <tspan x="1272.2" textLength="41.2" lengthAdjust="spacingAndGlyphs">(kg</tspan> <tspan x="1321.1" textLength="58.5" lengthAdjust="spacingAndGlyphs">m-3)</tspan></text>
<text y="917.7" font-size="18.3" font-style="italic"><tspan x="424.5" textLength="55.4" lengthAdjust="spacingAndGlyphs">Ocean</tspan> <tspan x="485.4" textLength="41.1" lengthAdjust="spacingAndGlyphs">Heat</tspan> <tspan x="532.0" textLength="68.9" lengthAdjust="spacingAndGlyphs">Content</tspan> <tspan x="606.3" textLength="86.4" lengthAdjust="spacingAndGlyphs">(kJ/cm^2)</tspan> <tspan x="698.2" textLength="6.2" lengthAdjust="spacingAndGlyphs">-</tspan> <tspan x="710.0" textLength="57.6" lengthAdjust="spacingAndGlyphs">Glider:</tspan> <tspan x="773.1" textLength="36.5" lengthAdjust="spacingAndGlyphs">N/A,</tspan> <tspan x="820.6" textLength="63.0" lengthAdjust="spacingAndGlyphs">RTOFS:</tspan> <tspan x="889.1" textLength="36.5" lengthAdjust="spacingAndGlyphs">N/A,</tspan> <tspan x="936.5" textLength="50.3" lengthAdjust="spacingAndGlyphs">ESPC:</tspan> <tspan x="992.3" textLength="36.5" lengthAdjust="spacingAndGlyphs">N/A,</tspan> <tspan x="1039.8" textLength="69.7" lengthAdjust="spacingAndGlyphs">CMEMS:</tspan> <tspan x="1115.0" textLength="36.5" lengthAdjust="spacingAndGlyphs">N/A,</tspan></text>
<text y="36.6" font-size="23.7" font-weight="bold"><tspan x="1527.0" textLength="150.2" lengthAdjust="spacingAndGlyphs">Comparison</tspan> <tspan x="1685.1" textLength="68.8" lengthAdjust="spacingAndGlyphs">Date:</tspan> <tspan x="1761.7" textLength="143.8" lengthAdjust="spacingAndGlyphs">2025-08-19</tspan></text>
<text y="89.8" font-size="23.7" font-weight="bold"><tspan x="1527.0" textLength="84.9" lengthAdjust="spacingAndGlyphs">Glider:</tspan> <tspan x="1619.7" textLength="76.1" lengthAdjust="spacingAndGlyphs">sp040</tspan></text>
<text y="116.7" font-size="23.7" font-weight="bold"><tspan x="1527.0" textLength="105.0" lengthAdjust="spacingAndGlyphs">Profiles:</tspan> <tspan x="1639.9" textLength="15.6" lengthAdjust="spacingAndGlyphs">8</tspan></text>
<text y="143.2" font-size="23.7" font-weight="bold"><tspan x="1527.0" textLength="67.3" lengthAdjust="spacingAndGlyphs">First:</tspan> <tspan x="1602.1" textLength="143.8" lengthAdjust="spacingAndGlyphs">2025-08-19</tspan> <tspan x="1753.7" textLength="111.8" lengthAdjust="spacingAndGlyphs">02:10:30</tspan></text>
<text y="169.5" font-size="23.7" font-weight="bold"><tspan x="1527.0" textLength="62.6" lengthAdjust="spacingAndGlyphs">Last:</tspan> <tspan x="1597.5" textLength="143.8" lengthAdjust="spacingAndGlyphs">2025-08-19</tspan> <tspan x="1749.1" textLength="111.9" lengthAdjust="spacingAndGlyphs">20:47:30</tspan></text>
<text y="196.4" font-size="23.7" font-weight="bold"><tspan x="1527.0" textLength="105.1" lengthAdjust="spacingAndGlyphs">Method:</tspan> <tspan x="1640.0" textLength="226.0" lengthAdjust="spacingAndGlyphs">Nearest-Neighbor</tspan></text>
<clipPath id="cm"><rect x="1595.6" y="258.1" width="341.8" height="315.9"/></clipPath>
<rect x="1595.6" y="258.1" width="341.8" height="315.9" fill="#97b6e1"/>
<g clip-path="url(#cm)">
<polygon points="1697.7,258.1 1699.0,263.3 1701.8,268.9 1705.3,275.9 1708.8,282.8 1712.3,291.2 1715.0,299.5 1719.2,304.4 1726.2,309.3 1731.7,314.8 1735.2,320.4 1735.2,326.0 1736.6,330.1 1731.7,328.8 1724.8,328.1 1722.3,324.8 1724.1,330.8 1730.4,335.7 1737.3,339.9 1743.6,342.7 1746.4,340.6 1748.4,345.5 1754.0,349.6 1758.2,353.8 1759.6,359.4 1757.5,366.3 1759.5,370.5 1763.0,373.6 1768.5,374.2 1773.5,378.5 1778.5,384.0 1781.5,388.5 1783.7,392.7 1788.2,391.4 1791.2,386.7 1788.2,382.2 1786.0,377.7 1782.2,374.7 1778.5,372.5 1777.0,366.3 1775.6,362.0 1772.1,357.5 1769.3,353.8 1766.5,348.2 1762.4,342.7 1759.6,337.1 1755.4,331.5 1751.2,326.0 1749.8,319.7 1745.7,314.8 1740.8,308.6 1735.9,303.7 1730.4,298.1 1728.3,291.2 1726.5,282.8 1726.2,275.9 1724.8,273.8 1730.4,275.2 1737.3,277.3 1742.9,280.7 1747.1,283.5 1748.4,289.8 1751.2,296.7 1754.7,303.7 1757.5,310.0 1757.8,314.8 1762.4,317.6 1767.9,323.2 1773.5,326.7 1777.7,328.8 1778.4,333.6 1782.5,337.1 1787.4,342.0 1793.7,346.8 1794.4,350.3 1790.4,352.4 1790.5,355.5 1795.0,358.2 1802.5,362.0 1810.0,369.5 1817.4,377.0 1825.0,386.0 1831.7,392.7 1835.4,398.0 1836.2,406.2 1840.7,410.0 1839.9,416.0 1836.2,420.4 1834.7,424.2 1837.7,430.2 1842.9,436.2 1851.9,441.4 1857.9,448.2 1862.4,451.2 1871.4,453.4 1878.9,454.9 1884.9,460.2 1893.9,464.7 1902.9,469.2 1913.4,472.2 1920.9,475.2 1928.4,478.6 1937.5,480.4 1937.5,424.5 1932.9,416.0 1929.1,408.5 1927.2,401.0 1926.5,392.0 1927.0,380.0 1927.5,369.5 1930.0,359.0 1934.5,354.0 1932.0,347.0 1929.5,340.0 1929.0,333.0 1932.0,326.0 1937.5,322.0 1937.5,258.1" fill="#d2b48c"/>
<g fill="none" stroke="#97b6e1" stroke-width="2.0" stroke-linejoin="round" stroke-linecap="round">
<polyline points="1745.7,258.1 1736.0,260.6 1731.0,262.0 1727.6,266.1 1723.4,269.0 1722.7,272.4 1724.8,273.8"/>
<polyline points="1783.2,258.1 1788.7,260.5 1796.9,262.3 1800.5,258.7"/>
<polyline points="1814.2,258.1 1819.6,265.0 1823.3,272.3 1823.3,275.0"/>
<polyline points="1916.2,258.1 1925.3,265.0 1932.6,272.3 1937.1,280.5"/>
<polyline points="1892.5,258.3 1899.8,259.2"/>
<polyline points="1837.7,407.0 1845.9,406.7 1849.7,411.5 1854.9,415.2 1860.9,416.0 1863.9,422.0 1869.2,425.0 1863.5,426.3"/>
<polyline points="1897.6,402.5 1904.4,407.7 1910.4,408.2 1916.4,405.5 1922.4,402.8 1927.6,401.0"/>
<polyline points="1823.3,275.0 1827.8,279.6 1837.0,287.8 1843.3,291.4 1846.0,299.6 1850.6,306.0 1857.9,309.7 1864.3,313.3 1867.9,306.9 1872.5,302.4 1879.8,301.8 1886.1,303.3 1892.5,309.7 1897.1,317.9 1902.5,326.1 1908.0,334.3 1908.9,340.6 1912.5,346.1 1919.8,349.7 1928.9,352.5 1935.3,354.3"/>
</g>
<g fill="none" stroke="#000" stroke-width="2.3" stroke-linejoin="round" stroke-linecap="round">
<polyline points="1697.7,258.1 1698.8,260.6 1698.6,261.1 1698.4,263.3 1699.4,264.4 1701.0,267.1 1702.1,268.4 1702.7,270.6 1702.7,272.7 1704.6,275.5 1705.4,275.8 1706.9,277.7 1707.5,279.1 1708.0,281.6 1709.2,282.9 1708.9,284.7 1710.2,286.6 1711.0,288.4 1711.6,289.6 1712.7,290.6 1712.6,292.6 1714.5,294.5 1714.3,296.5 1714.3,297.0 1715.5,299.3 1716.8,300.4 1717.6,303.5 1720.0,303.7 1719.9,305.4 1722.4,306.4 1723.6,306.8 1725.1,308.9 1726.0,308.5 1727.2,311.1 1728.0,312.0 1729.8,313.4 1731.6,314.8 1733.7,316.9 1734.8,318.5 1734.9,320.6 1733.6,322.2 1735.3,323.5 1735.5,325.7 1734.5,327.9 1736.1,329.8 1734.1,330.1 1731.8,328.8 1730.2,327.6 1728.9,327.9 1726.8,327.7 1724.3,327.9 1724.6,326.8 1722.0,324.6 1722.3,326.8 1723.2,329.2 1723.4,330.6 1725.2,331.6 1727.6,333.3 1729.1,335.1 1731.0,334.9 1732.4,335.8 1733.8,338.9 1735.5,338.6 1737.4,339.9 1738.9,340.2 1741.0,341.8 1741.9,342.2 1744.0,343.3 1745.2,342.0 1746.3,340.0 1746.8,342.8 1748.3,343.9 1748.1,345.7 1750.7,347.3 1750.8,347.5 1751.8,348.0 1754.1,349.6 1755.9,351.7 1757.3,353.1 1757.9,353.2 1758.9,357.1 1759.3,356.9 1759.7,360.2 1758.5,361.6 1758.2,363.6 1758.5,364.7 1758.6,366.1 1758.1,369.4 1759.0,371.7 1761.2,371.5 1763.0,373.7 1764.9,373.7 1767.3,372.7 1768.2,374.1 1771.2,374.5 1771.6,376.4 1773.1,378.9 1775.0,380.7 1775.7,381.4 1777.9,383.1 1778.3,384.6 1779.0,386.5 1780.6,386.9 1781.6,389.0 1783.6,390.5 1783.5,393.0 1785.5,391.1 1788.7,391.2 1789.8,389.3 1788.6,388.4 1791.3,387.6 1790.5,385.4 1789.5,383.5 1788.2,381.5 1787.4,379.5 1785.8,378.1 1784.6,375.6 1783.3,374.4 1780.8,374.1 1778.6,372.6 1779.0,370.9 1777.7,367.4 1776.6,366.9 1776.4,363.6 1775.2,361.8 1774.8,360.7 1773.8,358.6 1772.6,357.2 1770.5,356.6 1769.3,353.7 1768.3,351.7 1768.3,350.8 1766.9,348.3 1766.0,346.8 1764.7,345.7 1763.5,345.0 1763.4,343.4 1760.4,341.8 1760.9,338.7 1759.6,337.7 1759.2,336.2 1757.6,334.3 1756.9,332.8 1754.9,331.2 1754.3,330.3 1754.5,328.0 1752.5,327.3 1751.4,326.7 1751.4,323.8 1750.0,321.1 1749.8,320.4 1748.3,318.5 1747.5,316.7 1746.3,314.7 1744.0,312.6 1743.8,311.5 1741.9,310.6 1740.4,309.6 1739.9,307.1 1738.0,306.7 1736.5,304.6 1735.9,303.8 1734.5,302.5 1732.9,300.8 1732.5,299.9 1730.2,299.0 1728.8,296.4 1729.7,295.2 1728.9,292.7 1728.6,291.1 1728.2,287.9 1727.8,287.4 1727.7,286.6 1727.3,284.3 1726.7,282.6 1726.5,281.0 1725.9,280.4 1726.7,276.5 1726.7,275.1 1724.7,273.5"/>
<polyline points="1730.4,275.2 1733.4,275.4 1734.1,276.3 1736.0,276.0 1737.1,276.9 1738.6,278.0 1740.8,279.4 1742.4,280.9 1744.7,280.3 1747.8,283.3 1747.1,285.7 1748.1,287.7 1747.9,289.9 1748.3,292.3 1749.1,293.1 1750.5,295.1 1751.1,297.0 1750.1,298.3 1752.8,299.9 1754.6,301.3 1754.6,302.5 1755.5,304.3 1755.2,308.1 1757.1,308.3 1757.5,309.1 1757.0,312.6 1756.6,314.9 1758.3,315.7 1760.2,317.6 1762.9,317.2 1762.6,318.5 1765.0,319.8 1766.6,322.3 1767.8,322.9 1770.1,324.1 1772.0,325.3 1774.3,326.5 1774.9,327.7 1777.3,328.2 1777.9,331.5 1777.1,333.5 1779.6,334.6 1781.5,335.1 1782.8,336.9 1783.7,338.1 1784.7,339.2 1786.3,341.9 1787.9,342.4 1789.2,342.9 1790.8,345.5 1791.4,346.0 1794.2,346.9 1794.4,349.3 1795.6,351.0 1793.3,351.5 1790.8,352.5 1790.6,355.2 1792.3,357.2 1793.4,357.4 1795.3,358.2 1797.4,359.3 1798.1,359.5 1801.0,361.4 1803.1,362.1 1803.8,362.4 1805.8,364.0 1806.8,365.1 1807.1,367.1 1808.5,367.8 1810.5,369.9 1811.4,370.5 1812.0,371.7 1813.4,373.2 1815.3,374.4 1815.7,375.4 1818.1,377.1 1818.8,378.6 1820.3,380.1 1821.8,381.9 1820.9,382.9 1825.4,383.8 1825.1,386.6 1826.3,388.1 1827.0,388.0 1828.9,389.6 1829.8,391.7 1831.8,392.7 1832.7,394.6 1834.1,395.8 1835.7,398.2 1835.6,400.4 1835.2,402.0 1835.7,404.9 1836.5,407.4 1838.6,407.3 1838.6,409.0 1840.5,409.9 1839.8,412.3 1840.3,414.2 1840.1,415.5 1837.4,417.3 1837.1,418.6 1836.7,420.3 1836.3,422.4 1835.1,424.5 1836.1,425.5 1837.3,428.3 1837.2,430.5 1839.2,432.4 1840.7,433.4 1840.7,435.6 1843.7,436.6 1844.7,437.7 1845.4,438.3 1847.4,438.2 1849.1,439.9 1851.3,441.1 1851.0,440.3 1853.1,442.6 1853.8,443.3 1855.4,444.8 1856.3,447.3 1858.0,447.8 1858.8,449.1 1861.9,449.9 1863.4,450.8 1864.1,452.0 1865.6,452.1 1867.1,452.9 1870.2,452.6 1871.5,453.2 1872.1,455.3 1875.5,454.6 1877.2,454.6 1880.2,453.9 1880.2,456.0 1881.8,457.9 1883.0,458.1 1884.3,460.5 1887.2,461.5 1889.4,461.7 1890.8,463.3 1892.0,463.4 1894.4,464.3 1895.5,465.1 1898.5,466.5 1899.0,467.3 1901.0,468.3 1902.0,468.6 1904.9,470.3 1905.8,470.3 1907.8,469.4 1909.7,470.6 1912.1,471.6 1913.4,471.4 1915.4,471.9 1917.3,474.5 1918.4,474.9 1921.7,475.1 1923.4,476.1 1924.4,475.8 1925.9,476.9 1929.7,478.7 1930.1,478.2 1933.0,478.7 1934.7,480.3 1935.7,479.7 1937.5,479.7"/>
<polyline points="1937.5,424.5 1936.6,423.5 1935.1,421.6 1934.6,419.3 1934.9,417.8 1932.9,416.4 1932.6,414.1 1931.3,411.7 1929.8,410.1 1928.4,407.7 1927.7,406.5 1928.1,404.6 1927.7,402.1 1927.2,401.1 1927.5,398.7 1926.7,396.3 1926.5,394.4 1925.9,394.4 1925.3,392.4 1926.8,390.1 1926.9,388.9 1927.3,386.7 1926.5,384.8 1926.3,383.4 1926.5,382.3 1926.0,379.4 1926.6,377.1 1928.2,375.2 1927.1,374.5 1928.2,371.9 1928.0,370.8 1927.4,369.1 1928.3,367.1 1928.3,366.2 1929.8,362.9 1930.0,363.0 1929.3,360.9 1929.7,359.9 1931.6,357.2 1932.9,355.6 1934.4,353.5 1935.0,351.2 1931.3,350.4 1932.5,349.0 1931.9,346.9 1931.6,345.8 1930.5,343.3 1931.2,342.0 1929.0,341.3 1929.8,337.9 1928.6,336.7 1928.7,334.2 1928.3,332.7 1930.4,331.0 1929.7,329.9 1931.3,328.2 1932.7,325.9 1933.3,325.0 1934.1,324.4 1936.9,323.1 1937.4,321.9"/>
</g>
<g fill="none" stroke="#000" stroke-linecap="round">
<polyline points="1936.5,323.5 1931,328 1929.3,334 1930.5,341 1933,348" stroke-width="3.4"/>
<polyline points="1930.2,359.5 1928.2,370 1927.6,381" stroke="#39455a" stroke-width="3.6"/>
<polyline points="1928,402.5 1930,408 1933.3,413" stroke-width="3.6"/>
</g>
<g fill="#000">
<ellipse cx="1686.2" cy="312.8" rx="1.5" ry="3.1" transform="rotate(-12 1686.2 312.8)"/>
<ellipse cx="1720.2" cy="322.2" rx="1.9" ry="2.6" transform="rotate(-20 1720.2 322.2)"/>
<path d="M1740.6 304.8 L1743.8 305.2 L1748.2 314.3 L1746.4 316.8 L1743.6 313 L1741.2 308.5Z"/>
<ellipse cx="1685.8" cy="259.4" rx="2.2" ry="1.1" transform="rotate(30 1685.8 259.4)"/>
<path d="M1821.8 406.6 L1823.8 405.4 L1829.4 412.2 L1827.8 414Z"/>
<circle cx="1772.2" cy="444.1" r="2"/><circle cx="1774.3" cy="437.6" r="1"/><circle cx="1727.6" cy="449.4" r="1.4"/>
<path d="M1762 344 l1.2 2.2 l2.5 3.6 l1.4 3.4 l1.8 3 l2.2 4.6 l1.6 3.4" fill="none" stroke="#000" stroke-width="2.6" stroke-dasharray="2 2.3"/>
</g>
<path d="M1754.2 311.5 l2.8 -1.2 l1.2 4.2 l-2.6 2.6 l-2 -1.6z" fill="#d2b48c" stroke="#000" stroke-width="1.3"/>
<g fill="#5b6b80"><circle cx="1793" cy="547.3" r="0.9"/><circle cx="1716" cy="366.3" r="0.8"/><circle cx="1832" cy="405.5" r="0.9"/><circle cx="1756" cy="321.7" r="0.9"/><circle cx="1761.5" cy="334" r="0.9"/></g>
<g fill="none" stroke="#000" stroke-width="1.7">
<polyline points="1700.4,264.7 1730.4,261.3" stroke-dasharray="5.4 2.4"/>
<polyline points="1730.4,261.3 1727.6,266.1 1772.3,281.4 1804.5,281.4 1805.0,276.0 1823.3,275.0" stroke-dasharray="5.4 2.4"/>
<polyline points="1823.3,275.0 1827.8,279.6 1837.0,287.8 1843.3,291.4 1846.0,299.6 1850.6,306.0 1857.9,309.7 1864.3,313.3 1867.9,306.9 1872.5,302.4 1879.8,301.8 1886.1,303.3 1892.5,309.7 1897.1,317.9 1902.5,326.1 1908.0,334.3 1908.9,340.6 1912.5,346.1 1919.8,349.7 1928.9,352.5 1935.3,354.3" stroke-dasharray="5.4 2.4"/>
<polyline points="1795.1,258.1 1795.1,281.4"/>
<polyline points="1823.3,272.3 1865.5,272.3 1865.5,258.1"/>
</g>
<circle cx="1650.3" cy="275.6" r="4.95" fill="#f00" stroke="#000" stroke-width="1.5"/>
<circle cx="1649.2" cy="276.4" r="4.95" fill="#f00" stroke="#000" stroke-width="1.5"/>
</g>
<rect x="1595.6" y="258.1" width="341.8" height="315.9" fill="none" stroke="#000" stroke-width="1.47"/>
<g stroke="#000">
<line x1="1595.6" y1="574.05" x2="1595.6" y2="583.25" stroke-width="3.1"/><line x1="1595.6" y1="258.1" x2="1595.6" y2="248.90000000000003" stroke-width="3.1"/>
<line x1="1607.4" y1="574.05" x2="1607.4" y2="577.75" stroke-width="1.85"/><line x1="1607.4" y1="258.1" x2="1607.4" y2="254.40000000000003" stroke-width="1.85"/>
<line x1="1619.2" y1="574.05" x2="1619.2" y2="577.75" stroke-width="1.85"/><line x1="1619.2" y1="258.1" x2="1619.2" y2="254.40000000000003" stroke-width="1.85"/>
<line x1="1631.0" y1="574.05" x2="1631.0" y2="583.25" stroke-width="3.1"/><line x1="1631.0" y1="258.1" x2="1631.0" y2="248.90000000000003" stroke-width="3.1"/>
<line x1="1642.7" y1="574.05" x2="1642.7" y2="577.75" stroke-width="1.85"/><line x1="1642.7" y1="258.1" x2="1642.7" y2="254.40000000000003" stroke-width="1.85"/>
<line x1="1654.5" y1="574.05" x2="1654.5" y2="577.75" stroke-width="1.85"/><line x1="1654.5" y1="258.1" x2="1654.5" y2="254.40000000000003" stroke-width="1.85"/>
<line x1="1666.3" y1="574.05" x2="1666.3" y2="583.25" stroke-width="3.1"/><line x1="1666.3" y1="258.1" x2="1666.3" y2="248.90000000000003" stroke-width="3.1"/>
<line x1="1678.1" y1="574.05" x2="1678.1" y2="577.75" stroke-width="1.85"/><line x1="1678.1" y1="258.1" x2="1678.1" y2="254.40000000000003" stroke-width="1.85"/>
<line x1="1689.9" y1="574.05" x2="1689.9" y2="577.75" stroke-width="1.85"/><line x1="1689.9" y1="258.1" x2="1689.9" y2="254.40000000000003" stroke-width="1.85"/>
<line x1="1701.7" y1="574.05" x2="1701.7" y2="583.25" stroke-width="3.1"/><line x1="1701.7" y1="258.1" x2="1701.7" y2="248.90000000000003" stroke-width="3.1"/>
<line x1="1713.5" y1="574.05" x2="1713.5" y2="577.75" stroke-width="1.85"/><line x1="1713.5" y1="258.1" x2="1713.5" y2="254.40000000000003" stroke-width="1.85"/>
<line x1="1725.2" y1="574.05" x2="1725.2" y2="577.75" stroke-width="1.85"/><line x1="1725.2" y1="258.1" x2="1725.2" y2="254.40000000000003" stroke-width="1.85"/>
<line x1="1737.0" y1="574.05" x2="1737.0" y2="583.25" stroke-width="3.1"/><line x1="1737.0" y1="258.1" x2="1737.0" y2="248.90000000000003" stroke-width="3.1"/>
<line x1="1748.8" y1="574.05" x2="1748.8" y2="577.75" stroke-width="1.85"/><line x1="1748.8" y1="258.1" x2="1748.8" y2="254.40000000000003" stroke-width="1.85"/>
<line x1="1760.6" y1="574.05" x2="1760.6" y2="577.75" stroke-width="1.85"/><line x1="1760.6" y1="258.1" x2="1760.6" y2="254.40000000000003" stroke-width="1.85"/>
<line x1="1772.4" y1="574.05" x2="1772.4" y2="583.25" stroke-width="3.1"/><line x1="1772.4" y1="258.1" x2="1772.4" y2="248.90000000000003" stroke-width="3.1"/>
<line x1="1784.2" y1="574.05" x2="1784.2" y2="577.75" stroke-width="1.85"/><line x1="1784.2" y1="258.1" x2="1784.2" y2="254.40000000000003" stroke-width="1.85"/>
<line x1="1796.0" y1="574.05" x2="1796.0" y2="577.75" stroke-width="1.85"/><line x1="1796.0" y1="258.1" x2="1796.0" y2="254.40000000000003" stroke-width="1.85"/>
<line x1="1807.8" y1="574.05" x2="1807.8" y2="583.25" stroke-width="3.1"/><line x1="1807.8" y1="258.1" x2="1807.8" y2="248.90000000000003" stroke-width="3.1"/>
<line x1="1819.5" y1="574.05" x2="1819.5" y2="577.75" stroke-width="1.85"/><line x1="1819.5" y1="258.1" x2="1819.5" y2="254.40000000000003" stroke-width="1.85"/>
<line x1="1831.3" y1="574.05" x2="1831.3" y2="577.75" stroke-width="1.85"/><line x1="1831.3" y1="258.1" x2="1831.3" y2="254.40000000000003" stroke-width="1.85"/>
<line x1="1843.1" y1="574.05" x2="1843.1" y2="583.25" stroke-width="3.1"/><line x1="1843.1" y1="258.1" x2="1843.1" y2="248.90000000000003" stroke-width="3.1"/>
<line x1="1854.9" y1="574.05" x2="1854.9" y2="577.75" stroke-width="1.85"/><line x1="1854.9" y1="258.1" x2="1854.9" y2="254.40000000000003" stroke-width="1.85"/>
<line x1="1866.7" y1="574.05" x2="1866.7" y2="577.75" stroke-width="1.85"/><line x1="1866.7" y1="258.1" x2="1866.7" y2="254.40000000000003" stroke-width="1.85"/>
<line x1="1878.5" y1="574.05" x2="1878.5" y2="583.25" stroke-width="3.1"/><line x1="1878.5" y1="258.1" x2="1878.5" y2="248.90000000000003" stroke-width="3.1"/>
<line x1="1890.3" y1="574.05" x2="1890.3" y2="577.75" stroke-width="1.85"/><line x1="1890.3" y1="258.1" x2="1890.3" y2="254.40000000000003" stroke-width="1.85"/>
<line x1="1902.0" y1="574.05" x2="1902.0" y2="577.75" stroke-width="1.85"/><line x1="1902.0" y1="258.1" x2="1902.0" y2="254.40000000000003" stroke-width="1.85"/>
<line x1="1913.8" y1="574.05" x2="1913.8" y2="583.25" stroke-width="3.1"/><line x1="1913.8" y1="258.1" x2="1913.8" y2="248.90000000000003" stroke-width="3.1"/>
<line x1="1925.6" y1="574.05" x2="1925.6" y2="577.75" stroke-width="1.85"/><line x1="1925.6" y1="258.1" x2="1925.6" y2="254.40000000000003" stroke-width="1.85"/>
<line x1="1937.4" y1="574.05" x2="1937.4" y2="577.75" stroke-width="1.85"/><line x1="1937.4" y1="258.1" x2="1937.4" y2="254.40000000000003" stroke-width="1.85"/>
<line x1="1595.6" y1="574.0" x2="1591.8999999999999" y2="574.0" stroke-width="1.85"/><line x1="1937.4" y1="574.0" x2="1941.1000000000001" y2="574.0" stroke-width="1.85"/>
<line x1="1595.6" y1="563.5" x2="1586.3999999999999" y2="563.5" stroke-width="3.1"/><line x1="1937.4" y1="563.5" x2="1946.6000000000001" y2="563.5" stroke-width="3.1"/>
<line x1="1595.6" y1="551.6" x2="1591.8999999999999" y2="551.6" stroke-width="1.85"/><line x1="1937.4" y1="551.6" x2="1941.1000000000001" y2="551.6" stroke-width="1.85"/>
<line x1="1595.6" y1="539.7" x2="1591.8999999999999" y2="539.7" stroke-width="1.85"/><line x1="1937.4" y1="539.7" x2="1941.1000000000001" y2="539.7" stroke-width="1.85"/>
<line x1="1595.6" y1="527.7" x2="1586.3999999999999" y2="527.7" stroke-width="3.1"/><line x1="1937.4" y1="527.7" x2="1946.6000000000001" y2="527.7" stroke-width="3.1"/>
<line x1="1595.6" y1="515.6" x2="1591.8999999999999" y2="515.6" stroke-width="1.85"/><line x1="1937.4" y1="515.6" x2="1941.1000000000001" y2="515.6" stroke-width="1.85"/>
<line x1="1595.6" y1="503.6" x2="1591.8999999999999" y2="503.6" stroke-width="1.85"/><line x1="1937.4" y1="503.6" x2="1941.1000000000001" y2="503.6" stroke-width="1.85"/>
<line x1="1595.6" y1="491.4" x2="1586.3999999999999" y2="491.4" stroke-width="3.1"/><line x1="1937.4" y1="491.4" x2="1946.6000000000001" y2="491.4" stroke-width="3.1"/>
<line x1="1595.6" y1="479.2" x2="1591.8999999999999" y2="479.2" stroke-width="1.85"/><line x1="1937.4" y1="479.2" x2="1941.1000000000001" y2="479.2" stroke-width="1.85"/>
<line x1="1595.6" y1="467.0" x2="1591.8999999999999" y2="467.0" stroke-width="1.85"/><line x1="1937.4" y1="467.0" x2="1941.1000000000001" y2="467.0" stroke-width="1.85"/>
<line x1="1595.6" y1="454.7" x2="1586.3999999999999" y2="454.7" stroke-width="3.1"/><line x1="1937.4" y1="454.7" x2="1946.6000000000001" y2="454.7" stroke-width="3.1"/>
<line x1="1595.6" y1="442.3" x2="1591.8999999999999" y2="442.3" stroke-width="1.85"/><line x1="1937.4" y1="442.3" x2="1941.1000000000001" y2="442.3" stroke-width="1.85"/>
<line x1="1595.6" y1="429.8" x2="1591.8999999999999" y2="429.8" stroke-width="1.85"/><line x1="1937.4" y1="429.8" x2="1941.1000000000001" y2="429.8" stroke-width="1.85"/>
<line x1="1595.6" y1="417.3" x2="1586.3999999999999" y2="417.3" stroke-width="3.1"/><line x1="1937.4" y1="417.3" x2="1946.6000000000001" y2="417.3" stroke-width="3.1"/>
<line x1="1595.6" y1="404.6" x2="1591.8999999999999" y2="404.6" stroke-width="1.85"/><line x1="1937.4" y1="404.6" x2="1941.1000000000001" y2="404.6" stroke-width="1.85"/>
<line x1="1595.6" y1="391.9" x2="1591.8999999999999" y2="391.9" stroke-width="1.85"/><line x1="1937.4" y1="391.9" x2="1941.1000000000001" y2="391.9" stroke-width="1.85"/>
<line x1="1595.6" y1="379.1" x2="1586.3999999999999" y2="379.1" stroke-width="3.1"/><line x1="1937.4" y1="379.1" x2="1946.6000000000001" y2="379.1" stroke-width="3.1"/>
<line x1="1595.6" y1="366.2" x2="1591.8999999999999" y2="366.2" stroke-width="1.85"/><line x1="1937.4" y1="366.2" x2="1941.1000000000001" y2="366.2" stroke-width="1.85"/>
<line x1="1595.6" y1="353.2" x2="1591.8999999999999" y2="353.2" stroke-width="1.85"/><line x1="1937.4" y1="353.2" x2="1941.1000000000001" y2="353.2" stroke-width="1.85"/>
<line x1="1595.6" y1="340.0" x2="1586.3999999999999" y2="340.0" stroke-width="3.1"/><line x1="1937.4" y1="340.0" x2="1946.6000000000001" y2="340.0" stroke-width="3.1"/>
<line x1="1595.6" y1="326.8" x2="1591.8999999999999" y2="326.8" stroke-width="1.85"/><line x1="1937.4" y1="326.8" x2="1941.1000000000001" y2="326.8" stroke-width="1.85"/>
<line x1="1595.6" y1="313.4" x2="1591.8999999999999" y2="313.4" stroke-width="1.85"/><line x1="1937.4" y1="313.4" x2="1941.1000000000001" y2="313.4" stroke-width="1.85"/>
<line x1="1595.6" y1="299.9" x2="1586.3999999999999" y2="299.9" stroke-width="3.1"/><line x1="1937.4" y1="299.9" x2="1946.6000000000001" y2="299.9" stroke-width="3.1"/>
<line x1="1595.6" y1="286.3" x2="1591.8999999999999" y2="286.3" stroke-width="1.85"/><line x1="1937.4" y1="286.3" x2="1941.1000000000001" y2="286.3" stroke-width="1.85"/>
<line x1="1595.6" y1="272.5" x2="1591.8999999999999" y2="272.5" stroke-width="1.85"/><line x1="1937.4" y1="272.5" x2="1941.1000000000001" y2="272.5" stroke-width="1.85"/>
<line x1="1595.6" y1="258.6" x2="1586.3999999999999" y2="258.6" stroke-width="3.1"/><line x1="1937.4" y1="258.6" x2="1946.6000000000001" y2="258.6" stroke-width="3.1"/>
</g>
<text x="1580.2" y="572.6" font-size="23.7" text-anchor="end" textLength="41.6" lengthAdjust="spacingAndGlyphs" >9°N</text>
<text x="1580.2" y="536.8" font-size="23.7" text-anchor="end" textLength="55.6" lengthAdjust="spacingAndGlyphs" >12°N</text>
<text x="1580.2" y="500.5" font-size="23.7" text-anchor="end" textLength="55.6" lengthAdjust="spacingAndGlyphs" >15°N</text>
<text x="1580.2" y="463.8" font-size="23.7" text-anchor="end" textLength="55.6" lengthAdjust="spacingAndGlyphs" >18°N</text>
<text x="1580.2" y="426.4" font-size="23.7" text-anchor="end" textLength="55.6" lengthAdjust="spacingAndGlyphs" >21°N</text>
<text x="1580.2" y="388.2" font-size="23.7" text-anchor="end" textLength="55.6" lengthAdjust="spacingAndGlyphs" >24°N</text>
<text x="1580.2" y="349.1" font-size="23.7" text-anchor="end" textLength="55.6" lengthAdjust="spacingAndGlyphs" >27°N</text>
<text x="1580.2" y="309.0" font-size="23.7" text-anchor="end" textLength="55.6" lengthAdjust="spacingAndGlyphs" >30°N</text>
<text x="1580.2" y="267.7" font-size="23.7" text-anchor="end" textLength="55.6" lengthAdjust="spacingAndGlyphs" >33°N</text>
<g transform="translate(1593.6,624.7) rotate(-45)">
<text x="0.0" y="8.1" font-size="23.7" text-anchor="middle" textLength="76.1" lengthAdjust="spacingAndGlyphs" >126°W</text>
</g>
<g transform="translate(1629.0,624.7) rotate(-45)">
<text x="0.0" y="8.1" font-size="23.7" text-anchor="middle" textLength="76.1" lengthAdjust="spacingAndGlyphs" >123°W</text>
</g>
<g transform="translate(1664.3,624.7) rotate(-45)">
<text x="0.0" y="8.1" font-size="23.7" text-anchor="middle" textLength="76.1" lengthAdjust="spacingAndGlyphs" >120°W</text>
</g>
<g transform="translate(1699.7,624.7) rotate(-45)">
<text x="0.0" y="8.1" font-size="23.7" text-anchor="middle" textLength="76.1" lengthAdjust="spacingAndGlyphs" >117°W</text>
</g>
<g transform="translate(1735.0,624.7) rotate(-45)">
<text x="0.0" y="8.1" font-size="23.7" text-anchor="middle" textLength="76.1" lengthAdjust="spacingAndGlyphs" >114°W</text>
</g>
<g transform="translate(1770.4,624.7) rotate(-45)">
<text x="0.0" y="8.1" font-size="23.7" text-anchor="middle" textLength="76.1" lengthAdjust="spacingAndGlyphs" >111°W</text>
</g>
<g transform="translate(1805.8,624.7) rotate(-45)">
<text x="0.0" y="8.1" font-size="23.7" text-anchor="middle" textLength="76.1" lengthAdjust="spacingAndGlyphs" >108°W</text>
</g>
<g transform="translate(1841.1,624.7) rotate(-45)">
<text x="0.0" y="8.1" font-size="23.7" text-anchor="middle" textLength="76.1" lengthAdjust="spacingAndGlyphs" >105°W</text>
</g>
<g transform="translate(1876.5,624.7) rotate(-45)">
<text x="0.0" y="8.1" font-size="23.7" text-anchor="middle" textLength="76.1" lengthAdjust="spacingAndGlyphs" >102°W</text>
</g>
<g transform="translate(1911.8,619.6) rotate(-45)">
<text x="0.0" y="8.1" font-size="23.7" text-anchor="middle" textLength="61.9" lengthAdjust="spacingAndGlyphs" >99°W</text>
</g>
<rect x="1684" y="662.9" width="165.2" height="144.1" rx="4.5" ry="4.5" fill="#fff" fill-opacity="0.8" stroke="#cccccc" stroke-width="1.5"/>
<line x1="1692.1" y1="683.8" x2="1740" y2="683.8" stroke="#0000ff" stroke-width="2.75"/><circle cx="1716" cy="683.8" r="6.1" fill="#0000ff"/>
<text x="1756.3" y="690.0" font-size="23.7" text-anchor="start" textLength="66.7" lengthAdjust="spacingAndGlyphs" >sp040</text>
<line x1="1692.1" y1="717.3" x2="1740" y2="717.3" stroke="#ff0000" stroke-width="2.75"/><circle cx="1716" cy="717.3" r="6.1" fill="#ff0000"/>
<text x="1756.3" y="725.3" font-size="23.7" text-anchor="start" textLength="70.7" lengthAdjust="spacingAndGlyphs" >RTOFS</text>
<line x1="1692.1" y1="751.5" x2="1740" y2="751.5" stroke="#008000" stroke-width="2.75"/><circle cx="1716" cy="751.5" r="6.1" fill="#008000"/>
<text x="1756.3" y="759.6" font-size="23.7" text-anchor="start" textLength="56.3" lengthAdjust="spacingAndGlyphs" >ESPC</text>
<line x1="1692.1" y1="785.5" x2="1740" y2="785.5" stroke="#ff00ff" stroke-width="2.75"/><circle cx="1716" cy="785.5" r="6.1" fill="#ff00ff"/>
<text x="1756.3" y="793.6" font-size="23.7" text-anchor="start" textLength="81.4" lengthAdjust="spacingAndGlyphs" >CMEMS</text>
</svg></body></html>
